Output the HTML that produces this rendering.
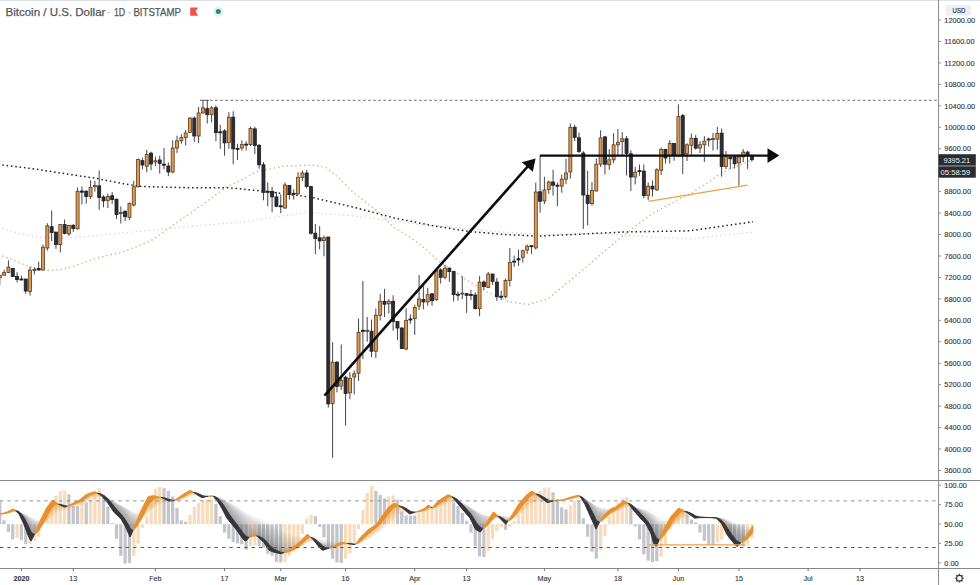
<!DOCTYPE html>
<html><head><meta charset="utf-8"><title>BTCUSD chart</title>
<style>
html,body{margin:0;padding:0;background:#fff;}
#c{position:relative;width:980px;height:585px;overflow:hidden;background:#fff;}
svg{position:absolute;left:0;top:0;display:block;}
</style></head><body><div id="c">
<svg width="980" height="585" viewBox="0 0 980 585">
<rect x="0" y="0" width="980" height="1" fill="#dfe1e6"/>
<line x1="200" y1="100.3" x2="209" y2="100.3" stroke="#50535e" stroke-width="1"/>
<line x1="210" y1="100.3" x2="938" y2="100.3" stroke="#6a6d78" stroke-width="1" stroke-dasharray="2.6 2.5"/>
<polyline points="-2,227 17.9,233.3 35.9,236.9 59.8,238.1 83.7,236.9 109.3,234.3 164,228.8 240,222 271,217.9 303.8,212.4 339.3,214.4 380.4,219.3 421.4,224.7 460,227.9 501,232 542,234.7 596.7,233.4 651.4,236.9 690,239 753,232.1" fill="none" stroke="#dcd8d2" stroke-width="1.4" stroke-dasharray="1.4 2.95"/>
<polyline points="-2,254.5 12,259.6 23.9,264.4 35.9,268.6 47.8,270.4 59.8,269.8 71.8,266.8 83.7,262.6 100,257.2 123,252 150.4,241.1 177.7,222 205,202.9 226.9,186.5 240,181 257.3,171.4 284.7,166 312,165.2 325.7,167.3 339.3,178.3 353,192 366.7,202.9 380.4,213.8 394,227.5 407.7,235.7 421.4,245.2 437.8,260.3 454.2,271.2 470,282.2 487.3,292.2 509.2,301.7 528.3,304.5 547.5,299 569.4,281.2 596.7,258 624,234.7 651.4,214.2 678.7,199.2 692,192.8 700.3,187.2 709,182 717.7,175.4 726.4,170.8 731,168.7 752,160" fill="none" stroke="#cfb48e" stroke-width="1.4" stroke-dasharray="1.4 2.95"/>
<polyline points="-2,164.5 32.8,168.7 68.3,174.2 95.7,178.3 123,183.7 142.2,186.5 191.4,187.8 230,187.8 271,192 312,197.4 353,207 394,217.9 435,226.1 470,231.6 501,234.2 536.5,236.1 569.4,234.7 624,232 690,230.8 753,221.8" fill="none" stroke="#1e1e22" stroke-width="1.5" stroke-dasharray="1.5 2.85"/>
<path d="M-0.21 275V285M4.11 269.7V275.6M8.43 260.3V273.1M12.75 268V277M17.08 272.2V282.5M21.4 275.6V280.3M25.72 279V293.6M30.04 266.7V295.5M34.37 267.2V274.4M38.69 261.7V270.5M43.01 244.6V270.5M47.33 223.2V250.6M51.66 210.4V241.2M55.98 231.8V248.9M60.3 224.1V252.3M64.62 219.5V234.4M68.95 225V236M73.27 224.1V231.8M77.59 187.4V229.2M81.91 186.5V204.4M86.24 190V203.6M90.56 180.2V199M94.88 181V191.6M99.2 170.5V209.8M103.53 195.3V207.3M107.85 193.6V208.1M112.17 191.9V203.8M116.5 198.7V219.2M120.82 206.4V223.5M125.14 210.7V221M129.46 202.6V220M133.78 180.8V206.4M138.11 158.5V187.3M142.43 157.7V169.1M146.75 150V172.2M151.07 151.7V170.3M155.4 156.5V166M159.72 155.7V173.6M164.04 148V169.4M168.37 162.5V176.2M172.69 140.3V173.3M177.01 135.7V153.1M181.33 134.3V143.7M185.66 130V145.4M189.98 117.2V133M194.3 116.4V142M198.62 107V143M202.94 100.5V113.5M207.27 100.1V123.5M211.59 106.1V122.4M215.91 105.3V141.2M220.23 124.9V148.8M224.56 129.2V155.7M228.88 112.1V148.8M233.2 111.2V164.2M237.53 143.7V160M241.85 140.3V150.6M246.17 141.2V150.6M250.49 126.6V146M254.81 126.8V154.2M259.14 143.9V168.7M263.46 161.9V200.3M267.78 182.4V206.3M272.1 186.7V212.3M276.43 191.8V207.2M280.75 194.4V213.2M285.07 182.4V208.9M289.39 185V199.5M293.72 189.2V199.5M298.04 172.1V195.2M302.36 170.6V181M306.68 170V188.5M311.01 186.2V234.7M315.33 223.9V254M319.65 226.2V249.4M323.97 235.5V256.3M328.3 237V407.6M332.62 342.2V457.8M336.94 361V392.4M341.26 344.4V390M345.59 375.6V425.6M349.91 372.2V399.2M354.23 370.5V394.5M358.55 318.7V381M362.88 281.1V358.9M367.2 317V341.8M371.52 319.6V357.2M375.84 308.5V358M380.17 293.9V320.4M384.49 288.8V317M388.81 299V313.6M393.13 295.3V330.7M397.46 321.5V340.1M401.78 327.3V349M406.1 308.4V350.3M410.42 314.4V323.8M414.75 304.6V334.9M419.07 275V310M423.39 286.2V309.2M427.71 287.9V305.8M432.04 293V305.8M436.36 268.2V300.7M440.68 268.2V283.6M445 264.8V279.3M449.33 267.4V281.9M453.65 270.8V301.5M457.97 291.3V300.7M462.29 276.2V299.2M466.62 293.2V312.9M470.94 289.8V300.1M475.26 292.4V309.5M479.58 276.2V316.3M483.91 280.4V289.8M488.23 271.9V288.1M492.55 273.6V284.7M496.87 277.9V300.9M501.2 290.7V300.1M505.52 278.7V298.4M509.84 248V286.4M514.16 255.6V266.8M518.49 249.6V265.9M522.81 249.6V262.5M527.13 244.5V253.9M531.45 245.3V253.9M535.78 182.6V249.6M540.1 155V212.8M544.42 176.7V204M548.75 180.5V193.8M553.07 169.8V195.6M557.39 182.4V206M561.71 174.8V192.7M566.03 158.9V184.2M570.36 123.5V178.6M574.68 125V141M579 132.6V153.2M583.32 151.2V229M587.65 170.8V225.3M591.97 182V205.5M596.29 158.5V191.4M600.61 130.3V167M604.94 136V174.5M609.26 149.1V169.8M613.58 133.2V163.2M617.9 129V154.8M622.23 132.2V154.8M626.55 136V175.5M630.87 150.2V191.2M635.19 166.7V184.5M639.52 164.5V175.8M643.84 164.5V198.4M648.16 182.4V200.3M652.48 180.5V196.5M656.81 168.3V190.9M661.13 147.6V174.9M665.45 148.6V163.6M669.77 140.1V163.6M674.1 142.9V160.8M678.42 104.4V157M682.74 113.9V174M687.06 143.3V161M691.39 133.5V154.6M695.71 135.1V149.7M700.03 141.1V153M704.35 136.2V161.9M708.68 137.5V146.5M713 133V150.5M717.32 127V149.7M721.64 128.6V176.6M725.97 151V169M730.29 156.2V169M734.61 155.9V168.4M738.93 154.5V185.6M743.26 149.1V162.3M747.58 150.9V168.9M751.9 154.5V161.7" stroke="#45464d" stroke-width="1" fill="none"/>
<rect x="-1.71" y="275.2" width="3" height="2.6" fill="#dc9a55" stroke="#5b3b1c" stroke-width="0.8"/>
<rect x="2.61" y="272.6" width="3" height="2.6" fill="#dc9a55" stroke="#5b3b1c" stroke-width="0.8"/>
<rect x="6.93" y="267.1" width="3" height="5.3" fill="#dc9a55" stroke="#5b3b1c" stroke-width="0.8"/>
<rect x="11.25" y="268.4" width="3" height="8.1" fill="#2e2f36" stroke="#1b1b1f" stroke-width="0.8"/>
<rect x="15.58" y="276.5" width="3" height="3" fill="#2e2f36" stroke="#1b1b1f" stroke-width="0.8"/>
<rect x="19.9" y="279" width="3" height="1" fill="#2e2f36" stroke="#1b1b1f" stroke-width="0.8"/>
<rect x="24.22" y="279" width="3" height="12" fill="#2e2f36" stroke="#1b1b1f" stroke-width="0.8"/>
<rect x="28.54" y="270.1" width="3" height="21.4" fill="#dc9a55" stroke="#5b3b1c" stroke-width="0.8"/>
<rect x="32.87" y="269.5" width="3" height="1" fill="#dc9a55" stroke="#5b3b1c" stroke-width="0.8"/>
<rect x="37.19" y="268.5" width="3" height="1.5" fill="#2e2f36" stroke="#1b1b1f" stroke-width="0.8"/>
<rect x="41.51" y="247.2" width="3" height="22.8" fill="#dc9a55" stroke="#5b3b1c" stroke-width="0.8"/>
<rect x="45.83" y="225.8" width="3" height="22.2" fill="#dc9a55" stroke="#5b3b1c" stroke-width="0.8"/>
<rect x="50.16" y="226.7" width="3" height="5.9" fill="#2e2f36" stroke="#1b1b1f" stroke-width="0.8"/>
<rect x="54.48" y="232.1" width="3" height="12.5" fill="#2e2f36" stroke="#1b1b1f" stroke-width="0.8"/>
<rect x="58.8" y="224.6" width="3" height="20" fill="#dc9a55" stroke="#5b3b1c" stroke-width="0.8"/>
<rect x="63.12" y="224.6" width="3" height="8.9" fill="#2e2f36" stroke="#1b1b1f" stroke-width="0.8"/>
<rect x="67.45" y="225.3" width="3" height="8.5" fill="#dc9a55" stroke="#5b3b1c" stroke-width="0.8"/>
<rect x="71.77" y="225.3" width="3" height="3.1" fill="#2e2f36" stroke="#1b1b1f" stroke-width="0.8"/>
<rect x="76.09" y="191.3" width="3" height="37.6" fill="#dc9a55" stroke="#5b3b1c" stroke-width="0.8"/>
<rect x="80.41" y="191" width="3" height="1.2" fill="#2e2f36" stroke="#1b1b1f" stroke-width="0.8"/>
<rect x="84.74" y="191.3" width="3" height="5.1" fill="#2e2f36" stroke="#1b1b1f" stroke-width="0.8"/>
<rect x="89.06" y="187.4" width="3" height="9" fill="#dc9a55" stroke="#5b3b1c" stroke-width="0.8"/>
<rect x="93.38" y="185.5" width="3" height="1.3" fill="#dc9a55" stroke="#5b3b1c" stroke-width="0.8"/>
<rect x="97.7" y="185.9" width="3" height="11.6" fill="#2e2f36" stroke="#1b1b1f" stroke-width="0.8"/>
<rect x="102.03" y="197" width="3" height="3.9" fill="#2e2f36" stroke="#1b1b1f" stroke-width="0.8"/>
<rect x="106.35" y="196.5" width="3" height="3.9" fill="#dc9a55" stroke="#5b3b1c" stroke-width="0.8"/>
<rect x="110.67" y="195.8" width="3" height="3.8" fill="#2e2f36" stroke="#1b1b1f" stroke-width="0.8"/>
<rect x="115" y="199.2" width="3" height="15.4" fill="#2e2f36" stroke="#1b1b1f" stroke-width="0.8"/>
<rect x="119.32" y="212.4" width="3" height="1.2" fill="#dc9a55" stroke="#5b3b1c" stroke-width="0.8"/>
<rect x="123.64" y="211.2" width="3" height="5.5" fill="#2e2f36" stroke="#1b1b1f" stroke-width="0.8"/>
<rect x="127.96" y="203.3" width="3" height="14.2" fill="#dc9a55" stroke="#5b3b1c" stroke-width="0.8"/>
<rect x="132.28" y="186.8" width="3" height="18.2" fill="#dc9a55" stroke="#5b3b1c" stroke-width="0.8"/>
<rect x="136.61" y="159.4" width="3" height="27.4" fill="#dc9a55" stroke="#5b3b1c" stroke-width="0.8"/>
<rect x="140.93" y="160.6" width="3" height="4.4" fill="#2e2f36" stroke="#1b1b1f" stroke-width="0.8"/>
<rect x="145.25" y="154.3" width="3" height="11.9" fill="#dc9a55" stroke="#5b3b1c" stroke-width="0.8"/>
<rect x="149.57" y="153.1" width="3" height="10.9" fill="#2e2f36" stroke="#1b1b1f" stroke-width="0.8"/>
<rect x="153.9" y="160.8" width="3" height="1.2" fill="#dc9a55" stroke="#5b3b1c" stroke-width="0.8"/>
<rect x="158.22" y="160" width="3" height="3.4" fill="#2e2f36" stroke="#1b1b1f" stroke-width="0.8"/>
<rect x="162.54" y="164.2" width="3" height="1" fill="#2e2f36" stroke="#1b1b1f" stroke-width="0.8"/>
<rect x="166.87" y="166" width="3" height="6" fill="#2e2f36" stroke="#1b1b1f" stroke-width="0.8"/>
<rect x="171.19" y="148" width="3" height="24" fill="#dc9a55" stroke="#5b3b1c" stroke-width="0.8"/>
<rect x="175.51" y="140.8" width="3" height="7.2" fill="#dc9a55" stroke="#5b3b1c" stroke-width="0.8"/>
<rect x="179.83" y="137.7" width="3" height="3.1" fill="#dc9a55" stroke="#5b3b1c" stroke-width="0.8"/>
<rect x="184.16" y="133" width="3" height="4.7" fill="#dc9a55" stroke="#5b3b1c" stroke-width="0.8"/>
<rect x="188.48" y="118.1" width="3" height="14.2" fill="#dc9a55" stroke="#5b3b1c" stroke-width="0.8"/>
<rect x="192.8" y="118.1" width="3" height="17.9" fill="#2e2f36" stroke="#1b1b1f" stroke-width="0.8"/>
<rect x="197.12" y="113" width="3" height="23" fill="#dc9a55" stroke="#5b3b1c" stroke-width="0.8"/>
<rect x="201.44" y="107.8" width="3" height="5.2" fill="#dc9a55" stroke="#5b3b1c" stroke-width="0.8"/>
<rect x="205.77" y="108.7" width="3" height="6" fill="#2e2f36" stroke="#1b1b1f" stroke-width="0.8"/>
<rect x="210.09" y="107.8" width="3" height="6.9" fill="#dc9a55" stroke="#5b3b1c" stroke-width="0.8"/>
<rect x="214.41" y="107.8" width="3" height="24.8" fill="#2e2f36" stroke="#1b1b1f" stroke-width="0.8"/>
<rect x="218.73" y="131.8" width="3" height="1" fill="#2e2f36" stroke="#1b1b1f" stroke-width="0.8"/>
<rect x="223.06" y="130.9" width="3" height="12" fill="#2e2f36" stroke="#1b1b1f" stroke-width="0.8"/>
<rect x="227.38" y="117.2" width="3" height="25.3" fill="#dc9a55" stroke="#5b3b1c" stroke-width="0.8"/>
<rect x="231.7" y="117.2" width="3" height="31.6" fill="#2e2f36" stroke="#1b1b1f" stroke-width="0.8"/>
<rect x="236.03" y="148.3" width="3" height="1" fill="#2e2f36" stroke="#1b1b1f" stroke-width="0.8"/>
<rect x="240.35" y="144.6" width="3" height="3.4" fill="#dc9a55" stroke="#5b3b1c" stroke-width="0.8"/>
<rect x="244.67" y="144.1" width="3" height="1" fill="#2e2f36" stroke="#1b1b1f" stroke-width="0.8"/>
<rect x="248.99" y="128.5" width="3" height="16.1" fill="#dc9a55" stroke="#5b3b1c" stroke-width="0.8"/>
<rect x="253.31" y="128.9" width="3" height="16.7" fill="#2e2f36" stroke="#1b1b1f" stroke-width="0.8"/>
<rect x="257.64" y="145.3" width="3" height="19.5" fill="#2e2f36" stroke="#1b1b1f" stroke-width="0.8"/>
<rect x="261.96" y="164.8" width="3" height="27.8" fill="#2e2f36" stroke="#1b1b1f" stroke-width="0.8"/>
<rect x="266.28" y="191.3" width="3" height="1" fill="#2e2f36" stroke="#1b1b1f" stroke-width="0.8"/>
<rect x="270.6" y="191.5" width="3" height="5.4" fill="#2e2f36" stroke="#1b1b1f" stroke-width="0.8"/>
<rect x="274.93" y="196.9" width="3" height="9.4" fill="#2e2f36" stroke="#1b1b1f" stroke-width="0.8"/>
<rect x="279.25" y="205.8" width="3" height="1" fill="#2e2f36" stroke="#1b1b1f" stroke-width="0.8"/>
<rect x="283.57" y="185" width="3" height="23" fill="#dc9a55" stroke="#5b3b1c" stroke-width="0.8"/>
<rect x="287.89" y="185.5" width="3" height="8.9" fill="#2e2f36" stroke="#1b1b1f" stroke-width="0.8"/>
<rect x="292.22" y="193.3" width="3" height="1" fill="#2e2f36" stroke="#1b1b1f" stroke-width="0.8"/>
<rect x="296.54" y="177.3" width="3" height="16.5" fill="#dc9a55" stroke="#5b3b1c" stroke-width="0.8"/>
<rect x="300.86" y="173" width="3" height="4.5" fill="#dc9a55" stroke="#5b3b1c" stroke-width="0.8"/>
<rect x="305.18" y="173" width="3" height="13.4" fill="#2e2f36" stroke="#1b1b1f" stroke-width="0.8"/>
<rect x="309.51" y="186.6" width="3" height="46.6" fill="#2e2f36" stroke="#1b1b1f" stroke-width="0.8"/>
<rect x="313.83" y="233.2" width="3" height="5.4" fill="#2e2f36" stroke="#1b1b1f" stroke-width="0.8"/>
<rect x="318.15" y="237.8" width="3" height="3.1" fill="#2e2f36" stroke="#1b1b1f" stroke-width="0.8"/>
<rect x="322.47" y="237.8" width="3" height="2.8" fill="#dc9a55" stroke="#5b3b1c" stroke-width="0.8"/>
<rect x="326.8" y="237" width="3" height="166.9" fill="#2e2f36" stroke="#1b1b1f" stroke-width="0.8"/>
<rect x="331.12" y="362.2" width="3" height="41.3" fill="#dc9a55" stroke="#5b3b1c" stroke-width="0.8"/>
<rect x="335.44" y="362.2" width="3" height="24.3" fill="#2e2f36" stroke="#1b1b1f" stroke-width="0.8"/>
<rect x="339.76" y="380.2" width="3" height="5.8" fill="#dc9a55" stroke="#5b3b1c" stroke-width="0.8"/>
<rect x="344.09" y="377.2" width="3" height="16.3" fill="#2e2f36" stroke="#1b1b1f" stroke-width="0.8"/>
<rect x="348.41" y="378.3" width="3" height="14.5" fill="#dc9a55" stroke="#5b3b1c" stroke-width="0.8"/>
<rect x="352.73" y="373.8" width="3" height="3.2" fill="#dc9a55" stroke="#5b3b1c" stroke-width="0.8"/>
<rect x="357.05" y="332.3" width="3" height="40.9" fill="#dc9a55" stroke="#5b3b1c" stroke-width="0.8"/>
<rect x="361.38" y="330.2" width="3" height="1.2" fill="#2e2f36" stroke="#1b1b1f" stroke-width="0.8"/>
<rect x="365.7" y="330.3" width="3" height="1" fill="#dc9a55" stroke="#5b3b1c" stroke-width="0.8"/>
<rect x="370.02" y="331.2" width="3" height="20" fill="#2e2f36" stroke="#1b1b1f" stroke-width="0.8"/>
<rect x="374.34" y="315.3" width="3" height="35.9" fill="#dc9a55" stroke="#5b3b1c" stroke-width="0.8"/>
<rect x="378.67" y="301.3" width="3" height="14" fill="#dc9a55" stroke="#5b3b1c" stroke-width="0.8"/>
<rect x="382.99" y="301.3" width="3" height="2.9" fill="#2e2f36" stroke="#1b1b1f" stroke-width="0.8"/>
<rect x="387.31" y="301.3" width="3" height="2.5" fill="#dc9a55" stroke="#5b3b1c" stroke-width="0.8"/>
<rect x="391.63" y="301.3" width="3" height="20.2" fill="#2e2f36" stroke="#1b1b1f" stroke-width="0.8"/>
<rect x="395.96" y="321.5" width="3" height="6.5" fill="#2e2f36" stroke="#1b1b1f" stroke-width="0.8"/>
<rect x="400.28" y="328" width="3" height="20.6" fill="#2e2f36" stroke="#1b1b1f" stroke-width="0.8"/>
<rect x="404.6" y="320.3" width="3" height="28.7" fill="#dc9a55" stroke="#5b3b1c" stroke-width="0.8"/>
<rect x="408.92" y="319" width="3" height="1" fill="#2e2f36" stroke="#1b1b1f" stroke-width="0.8"/>
<rect x="413.25" y="307.5" width="3" height="11.1" fill="#dc9a55" stroke="#5b3b1c" stroke-width="0.8"/>
<rect x="417.57" y="299" width="3" height="7" fill="#dc9a55" stroke="#5b3b1c" stroke-width="0.8"/>
<rect x="421.89" y="299.5" width="3" height="2.4" fill="#2e2f36" stroke="#1b1b1f" stroke-width="0.8"/>
<rect x="426.21" y="294.7" width="3" height="7.2" fill="#dc9a55" stroke="#5b3b1c" stroke-width="0.8"/>
<rect x="430.54" y="293.8" width="3" height="6.9" fill="#2e2f36" stroke="#1b1b1f" stroke-width="0.8"/>
<rect x="434.86" y="270.8" width="3" height="29" fill="#dc9a55" stroke="#5b3b1c" stroke-width="0.8"/>
<rect x="439.18" y="269.9" width="3" height="7.4" fill="#2e2f36" stroke="#1b1b1f" stroke-width="0.8"/>
<rect x="443.5" y="268.2" width="3" height="9.1" fill="#dc9a55" stroke="#5b3b1c" stroke-width="0.8"/>
<rect x="447.83" y="268.2" width="3" height="3.4" fill="#2e2f36" stroke="#1b1b1f" stroke-width="0.8"/>
<rect x="452.15" y="271.6" width="3" height="23.1" fill="#2e2f36" stroke="#1b1b1f" stroke-width="0.8"/>
<rect x="456.47" y="294.2" width="3" height="1" fill="#2e2f36" stroke="#1b1b1f" stroke-width="0.8"/>
<rect x="460.79" y="293.1" width="3" height="1" fill="#dc9a55" stroke="#5b3b1c" stroke-width="0.8"/>
<rect x="465.12" y="293.6" width="3" height="1.7" fill="#2e2f36" stroke="#1b1b1f" stroke-width="0.8"/>
<rect x="469.44" y="294.5" width="3" height="1" fill="#2e2f36" stroke="#1b1b1f" stroke-width="0.8"/>
<rect x="473.76" y="295" width="3" height="13.6" fill="#2e2f36" stroke="#1b1b1f" stroke-width="0.8"/>
<rect x="478.08" y="282.1" width="3" height="26.5" fill="#dc9a55" stroke="#5b3b1c" stroke-width="0.8"/>
<rect x="482.41" y="282.1" width="3" height="4.3" fill="#2e2f36" stroke="#1b1b1f" stroke-width="0.8"/>
<rect x="486.73" y="274.1" width="3" height="13.2" fill="#dc9a55" stroke="#5b3b1c" stroke-width="0.8"/>
<rect x="491.05" y="274.1" width="3" height="7.2" fill="#2e2f36" stroke="#1b1b1f" stroke-width="0.8"/>
<rect x="495.37" y="282.1" width="3" height="14.6" fill="#2e2f36" stroke="#1b1b1f" stroke-width="0.8"/>
<rect x="499.7" y="296.2" width="3" height="1" fill="#2e2f36" stroke="#1b1b1f" stroke-width="0.8"/>
<rect x="504.02" y="280.4" width="3" height="16.3" fill="#dc9a55" stroke="#5b3b1c" stroke-width="0.8"/>
<rect x="508.34" y="262.5" width="3" height="17.9" fill="#dc9a55" stroke="#5b3b1c" stroke-width="0.8"/>
<rect x="512.66" y="261.1" width="3" height="1" fill="#2e2f36" stroke="#1b1b1f" stroke-width="0.8"/>
<rect x="516.99" y="258.7" width="3" height="1.2" fill="#2e2f36" stroke="#1b1b1f" stroke-width="0.8"/>
<rect x="521.31" y="250.8" width="3" height="6.5" fill="#dc9a55" stroke="#5b3b1c" stroke-width="0.8"/>
<rect x="525.63" y="246.2" width="3" height="3.9" fill="#dc9a55" stroke="#5b3b1c" stroke-width="0.8"/>
<rect x="529.95" y="245.7" width="3" height="1" fill="#2e2f36" stroke="#1b1b1f" stroke-width="0.8"/>
<rect x="534.28" y="192" width="3" height="55.9" fill="#dc9a55" stroke="#5b3b1c" stroke-width="0.8"/>
<rect x="538.6" y="191.8" width="3" height="9.4" fill="#2e2f36" stroke="#1b1b1f" stroke-width="0.8"/>
<rect x="542.92" y="190" width="3" height="11" fill="#dc9a55" stroke="#5b3b1c" stroke-width="0.8"/>
<rect x="547.25" y="182" width="3" height="7.5" fill="#dc9a55" stroke="#5b3b1c" stroke-width="0.8"/>
<rect x="551.57" y="182" width="3" height="3.2" fill="#2e2f36" stroke="#1b1b1f" stroke-width="0.8"/>
<rect x="555.89" y="185.2" width="3" height="1" fill="#2e2f36" stroke="#1b1b1f" stroke-width="0.8"/>
<rect x="560.21" y="179.2" width="3" height="6.9" fill="#dc9a55" stroke="#5b3b1c" stroke-width="0.8"/>
<rect x="564.53" y="173" width="3" height="6.2" fill="#dc9a55" stroke="#5b3b1c" stroke-width="0.8"/>
<rect x="568.86" y="127.3" width="3" height="44.7" fill="#dc9a55" stroke="#5b3b1c" stroke-width="0.8"/>
<rect x="573.18" y="127.3" width="3" height="10" fill="#2e2f36" stroke="#1b1b1f" stroke-width="0.8"/>
<rect x="577.5" y="137.8" width="3" height="13.6" fill="#2e2f36" stroke="#1b1b1f" stroke-width="0.8"/>
<rect x="581.82" y="153" width="3" height="42" fill="#2e2f36" stroke="#1b1b1f" stroke-width="0.8"/>
<rect x="586.15" y="195.2" width="3" height="8.4" fill="#2e2f36" stroke="#1b1b1f" stroke-width="0.8"/>
<rect x="590.47" y="190.5" width="3" height="13.1" fill="#dc9a55" stroke="#5b3b1c" stroke-width="0.8"/>
<rect x="594.79" y="164.2" width="3" height="26.8" fill="#dc9a55" stroke="#5b3b1c" stroke-width="0.8"/>
<rect x="599.11" y="137.9" width="3" height="26.3" fill="#dc9a55" stroke="#5b3b1c" stroke-width="0.8"/>
<rect x="603.44" y="136.9" width="3" height="27.3" fill="#2e2f36" stroke="#1b1b1f" stroke-width="0.8"/>
<rect x="607.76" y="159.8" width="3" height="4.9" fill="#dc9a55" stroke="#5b3b1c" stroke-width="0.8"/>
<rect x="612.08" y="144.8" width="3" height="15" fill="#dc9a55" stroke="#5b3b1c" stroke-width="0.8"/>
<rect x="616.4" y="142.2" width="3" height="2.6" fill="#dc9a55" stroke="#5b3b1c" stroke-width="0.8"/>
<rect x="620.73" y="138.8" width="3" height="2.8" fill="#dc9a55" stroke="#5b3b1c" stroke-width="0.8"/>
<rect x="625.05" y="138.8" width="3" height="14.7" fill="#2e2f36" stroke="#1b1b1f" stroke-width="0.8"/>
<rect x="629.37" y="153.8" width="3" height="23.2" fill="#2e2f36" stroke="#1b1b1f" stroke-width="0.8"/>
<rect x="633.69" y="172.2" width="3" height="4.8" fill="#dc9a55" stroke="#5b3b1c" stroke-width="0.8"/>
<rect x="638.02" y="170.6" width="3" height="1" fill="#2e2f36" stroke="#1b1b1f" stroke-width="0.8"/>
<rect x="642.34" y="171.1" width="3" height="24.5" fill="#2e2f36" stroke="#1b1b1f" stroke-width="0.8"/>
<rect x="646.66" y="186.2" width="3" height="9.4" fill="#dc9a55" stroke="#5b3b1c" stroke-width="0.8"/>
<rect x="650.98" y="186.2" width="3" height="2.8" fill="#2e2f36" stroke="#1b1b1f" stroke-width="0.8"/>
<rect x="655.31" y="169.8" width="3" height="20.1" fill="#dc9a55" stroke="#5b3b1c" stroke-width="0.8"/>
<rect x="659.63" y="149.5" width="3" height="20.7" fill="#dc9a55" stroke="#5b3b1c" stroke-width="0.8"/>
<rect x="663.95" y="149.5" width="3" height="8.5" fill="#2e2f36" stroke="#1b1b1f" stroke-width="0.8"/>
<rect x="668.27" y="143.5" width="3" height="11.7" fill="#dc9a55" stroke="#5b3b1c" stroke-width="0.8"/>
<rect x="672.6" y="143.5" width="3" height="11.7" fill="#2e2f36" stroke="#1b1b1f" stroke-width="0.8"/>
<rect x="676.92" y="116.6" width="3" height="39.5" fill="#dc9a55" stroke="#5b3b1c" stroke-width="0.8"/>
<rect x="681.24" y="115.6" width="3" height="39.8" fill="#2e2f36" stroke="#1b1b1f" stroke-width="0.8"/>
<rect x="685.56" y="144.8" width="3" height="8.8" fill="#dc9a55" stroke="#5b3b1c" stroke-width="0.8"/>
<rect x="689.89" y="138.3" width="3" height="7" fill="#dc9a55" stroke="#5b3b1c" stroke-width="0.8"/>
<rect x="694.21" y="138.3" width="3" height="9.8" fill="#2e2f36" stroke="#1b1b1f" stroke-width="0.8"/>
<rect x="698.53" y="144.8" width="3" height="3.3" fill="#dc9a55" stroke="#5b3b1c" stroke-width="0.8"/>
<rect x="702.85" y="141.1" width="3" height="3.7" fill="#dc9a55" stroke="#5b3b1c" stroke-width="0.8"/>
<rect x="707.18" y="139" width="3" height="1" fill="#2e2f36" stroke="#1b1b1f" stroke-width="0.8"/>
<rect x="711.5" y="138.6" width="3" height="1" fill="#dc9a55" stroke="#5b3b1c" stroke-width="0.8"/>
<rect x="715.82" y="133.5" width="3" height="5.6" fill="#dc9a55" stroke="#5b3b1c" stroke-width="0.8"/>
<rect x="720.14" y="133.2" width="3" height="33.3" fill="#2e2f36" stroke="#1b1b1f" stroke-width="0.8"/>
<rect x="724.47" y="156.8" width="3" height="9.7" fill="#dc9a55" stroke="#5b3b1c" stroke-width="0.8"/>
<rect x="728.79" y="157.3" width="3" height="1.5" fill="#2e2f36" stroke="#1b1b1f" stroke-width="0.8"/>
<rect x="733.11" y="156.8" width="3" height="7" fill="#2e2f36" stroke="#1b1b1f" stroke-width="0.8"/>
<rect x="737.43" y="156.9" width="3" height="6" fill="#dc9a55" stroke="#5b3b1c" stroke-width="0.8"/>
<rect x="741.76" y="152.1" width="3" height="4.8" fill="#dc9a55" stroke="#5b3b1c" stroke-width="0.8"/>
<rect x="746.08" y="152.1" width="3" height="3.6" fill="#2e2f36" stroke="#1b1b1f" stroke-width="0.8"/>
<rect x="750.4" y="155.7" width="3" height="4" fill="#2e2f36" stroke="#1b1b1f" stroke-width="0.8"/>
<line x1="648.6" y1="201.4" x2="747.4" y2="185.1" stroke="#eea04c" stroke-width="1.3"/>
<line x1="324.5" y1="395.6" x2="529" y2="165" stroke="#0d0d0d" stroke-width="2.6"/>
<polygon points="535.6,158.6 521.8,162.2 532.8,171.8" fill="#0d0d0d"/>
<line x1="540" y1="155.6" x2="769" y2="155.6" stroke="#0d0d0d" stroke-width="2.4"/>
<polygon points="767.5,148.2 779.3,155.6 767.5,163" fill="#0d0d0d"/>
<rect x="-1.81" y="501.1" width="3.2" height="23.1" fill="#c4c5cb"/>
<rect x="2.51" y="520.3" width="3.2" height="3.9" fill="#c4c5cb"/>
<rect x="6.83" y="524.2" width="3.2" height="7.7" fill="#c4c5cb"/>
<rect x="11.15" y="524.2" width="3.2" height="15.2" fill="#c4c5cb"/>
<rect x="15.48" y="524.2" width="3.2" height="13.8" fill="#f7dbba"/>
<rect x="19.8" y="524.2" width="3.2" height="15.9" fill="#c4c5cb"/>
<rect x="24.12" y="524.2" width="3.2" height="20" fill="#c4c5cb"/>
<rect x="28.44" y="524.2" width="3.2" height="19.8" fill="#f7dbba"/>
<rect x="32.77" y="524.2" width="3.2" height="16.6" fill="#f7dbba"/>
<rect x="37.09" y="524.2" width="3.2" height="12.5" fill="#f7dbba"/>
<rect x="41.41" y="521" width="3.2" height="3.2" fill="#f7dbba"/>
<rect x="45.73" y="510" width="3.2" height="14.2" fill="#f7dbba"/>
<rect x="50.06" y="502" width="3.2" height="22.2" fill="#f7dbba"/>
<rect x="54.38" y="495.7" width="3.2" height="28.5" fill="#f7dbba"/>
<rect x="58.7" y="490.9" width="3.2" height="33.3" fill="#f7dbba"/>
<rect x="63.02" y="490.5" width="3.2" height="33.7" fill="#f7dbba"/>
<rect x="67.35" y="494.3" width="3.2" height="29.9" fill="#c4c5cb"/>
<rect x="71.67" y="505.9" width="3.2" height="18.3" fill="#c4c5cb"/>
<rect x="75.99" y="506.2" width="3.2" height="18" fill="#c4c5cb"/>
<rect x="80.31" y="501.1" width="3.2" height="23.1" fill="#f7dbba"/>
<rect x="84.64" y="502.5" width="3.2" height="21.7" fill="#c4c5cb"/>
<rect x="88.96" y="499.8" width="3.2" height="24.4" fill="#f7dbba"/>
<rect x="93.28" y="494.3" width="3.2" height="29.9" fill="#f7dbba"/>
<rect x="97.6" y="488.2" width="3.2" height="36" fill="#f7dbba"/>
<rect x="101.93" y="495" width="3.2" height="29.2" fill="#c4c5cb"/>
<rect x="106.25" y="506.6" width="3.2" height="17.6" fill="#c4c5cb"/>
<rect x="110.57" y="523" width="3.2" height="1.2" fill="#c4c5cb"/>
<rect x="114.9" y="524.2" width="3.2" height="14.6" fill="#c4c5cb"/>
<rect x="119.22" y="524.2" width="3.2" height="31.6" fill="#c4c5cb"/>
<rect x="123.54" y="524.2" width="3.2" height="39.3" fill="#c4c5cb"/>
<rect x="127.86" y="524.2" width="3.2" height="38.8" fill="#c4c5cb"/>
<rect x="132.19" y="524.2" width="3.2" height="31.6" fill="#f7dbba"/>
<rect x="136.51" y="524.2" width="3.2" height="19.3" fill="#f7dbba"/>
<rect x="140.83" y="524.2" width="3.2" height="3.6" fill="#f7dbba"/>
<rect x="145.15" y="516.2" width="3.2" height="8" fill="#f7dbba"/>
<rect x="149.47" y="499.8" width="3.2" height="24.4" fill="#f7dbba"/>
<rect x="153.8" y="488.8" width="3.2" height="35.4" fill="#f7dbba"/>
<rect x="158.12" y="486.8" width="3.2" height="37.4" fill="#f7dbba"/>
<rect x="162.44" y="488.2" width="3.2" height="36" fill="#c4c5cb"/>
<rect x="166.77" y="490.9" width="3.2" height="33.3" fill="#c4c5cb"/>
<rect x="171.09" y="496.4" width="3.2" height="27.8" fill="#c4c5cb"/>
<rect x="175.41" y="508" width="3.2" height="16.2" fill="#c4c5cb"/>
<rect x="179.73" y="520.3" width="3.2" height="3.9" fill="#c4c5cb"/>
<rect x="184.06" y="521.7" width="3.2" height="2.5" fill="#c4c5cb"/>
<rect x="188.38" y="514.8" width="3.2" height="9.4" fill="#f7dbba"/>
<rect x="192.7" y="506.6" width="3.2" height="17.6" fill="#f7dbba"/>
<rect x="197.02" y="503.2" width="3.2" height="21" fill="#f7dbba"/>
<rect x="201.34" y="499.8" width="3.2" height="24.4" fill="#f7dbba"/>
<rect x="205.67" y="499.5" width="3.2" height="24.7" fill="#f7dbba"/>
<rect x="209.99" y="499.3" width="3.2" height="24.9" fill="#f7dbba"/>
<rect x="214.31" y="503.9" width="3.2" height="20.3" fill="#c4c5cb"/>
<rect x="218.63" y="516.2" width="3.2" height="8" fill="#c4c5cb"/>
<rect x="222.96" y="524.2" width="3.2" height="8.4" fill="#c4c5cb"/>
<rect x="227.28" y="524.2" width="3.2" height="14.6" fill="#c4c5cb"/>
<rect x="231.6" y="524.2" width="3.2" height="18" fill="#c4c5cb"/>
<rect x="235.93" y="524.2" width="3.2" height="19.3" fill="#c4c5cb"/>
<rect x="240.25" y="524.2" width="3.2" height="20" fill="#c4c5cb"/>
<rect x="244.57" y="524.2" width="3.2" height="25.5" fill="#c4c5cb"/>
<rect x="248.89" y="524.2" width="3.2" height="22.1" fill="#f7dbba"/>
<rect x="253.22" y="524.2" width="3.2" height="20.8" fill="#f7dbba"/>
<rect x="257.54" y="524.2" width="3.2" height="22.1" fill="#c4c5cb"/>
<rect x="261.86" y="524.2" width="3.2" height="23.4" fill="#c4c5cb"/>
<rect x="266.18" y="524.2" width="3.2" height="29.6" fill="#c4c5cb"/>
<rect x="270.5" y="524.2" width="3.2" height="31.6" fill="#c4c5cb"/>
<rect x="274.83" y="524.2" width="3.2" height="37.8" fill="#c4c5cb"/>
<rect x="279.15" y="524.2" width="3.2" height="38.3" fill="#c4c5cb"/>
<rect x="283.47" y="524.2" width="3.2" height="37.8" fill="#f7dbba"/>
<rect x="287.79" y="524.2" width="3.2" height="31.6" fill="#f7dbba"/>
<rect x="292.12" y="524.2" width="3.2" height="27.5" fill="#f7dbba"/>
<rect x="296.44" y="524.2" width="3.2" height="20.7" fill="#f7dbba"/>
<rect x="300.76" y="524.2" width="3.2" height="9.8" fill="#f7dbba"/>
<rect x="305.08" y="518.2" width="3.2" height="6" fill="#f7dbba"/>
<rect x="309.41" y="514.8" width="3.2" height="9.4" fill="#f7dbba"/>
<rect x="313.73" y="516.2" width="3.2" height="8" fill="#c4c5cb"/>
<rect x="318.05" y="524.2" width="3.2" height="2.8" fill="#c4c5cb"/>
<rect x="322.37" y="524.2" width="3.2" height="13.2" fill="#c4c5cb"/>
<rect x="326.7" y="524.2" width="3.2" height="22.1" fill="#c4c5cb"/>
<rect x="331.02" y="524.2" width="3.2" height="34.4" fill="#c4c5cb"/>
<rect x="335.34" y="524.2" width="3.2" height="38.3" fill="#c4c5cb"/>
<rect x="339.66" y="524.2" width="3.2" height="38.8" fill="#c4c5cb"/>
<rect x="343.99" y="524.2" width="3.2" height="34.4" fill="#f7dbba"/>
<rect x="348.31" y="524.2" width="3.2" height="28.9" fill="#f7dbba"/>
<rect x="352.63" y="524.2" width="3.2" height="18" fill="#f7dbba"/>
<rect x="356.95" y="524.2" width="3.2" height="5" fill="#f7dbba"/>
<rect x="361.28" y="510" width="3.2" height="14.2" fill="#f7dbba"/>
<rect x="365.6" y="492.9" width="3.2" height="31.3" fill="#f7dbba"/>
<rect x="369.92" y="486.1" width="3.2" height="38.1" fill="#f7dbba"/>
<rect x="374.24" y="490.9" width="3.2" height="33.3" fill="#c4c5cb"/>
<rect x="378.57" y="495" width="3.2" height="29.2" fill="#c4c5cb"/>
<rect x="382.89" y="498.4" width="3.2" height="25.8" fill="#c4c5cb"/>
<rect x="387.21" y="496.4" width="3.2" height="27.8" fill="#f7dbba"/>
<rect x="391.53" y="495.5" width="3.2" height="28.7" fill="#f7dbba"/>
<rect x="395.86" y="499.5" width="3.2" height="24.7" fill="#c4c5cb"/>
<rect x="400.18" y="511.4" width="3.2" height="12.8" fill="#c4c5cb"/>
<rect x="404.5" y="515.5" width="3.2" height="8.7" fill="#c4c5cb"/>
<rect x="408.82" y="515.7" width="3.2" height="8.5" fill="#c4c5cb"/>
<rect x="413.15" y="515.5" width="3.2" height="8.7" fill="#c4c5cb"/>
<rect x="417.47" y="512.8" width="3.2" height="11.4" fill="#f7dbba"/>
<rect x="421.79" y="510" width="3.2" height="14.2" fill="#f7dbba"/>
<rect x="426.11" y="508.7" width="3.2" height="15.5" fill="#f7dbba"/>
<rect x="430.44" y="508.5" width="3.2" height="15.7" fill="#f7dbba"/>
<rect x="434.76" y="505.9" width="3.2" height="18.3" fill="#f7dbba"/>
<rect x="439.08" y="501.8" width="3.2" height="22.4" fill="#f7dbba"/>
<rect x="443.4" y="499.8" width="3.2" height="24.4" fill="#f7dbba"/>
<rect x="447.73" y="498.4" width="3.2" height="25.8" fill="#f7dbba"/>
<rect x="452.05" y="502.5" width="3.2" height="21.7" fill="#c4c5cb"/>
<rect x="456.37" y="505.9" width="3.2" height="18.3" fill="#c4c5cb"/>
<rect x="460.69" y="512.8" width="3.2" height="11.4" fill="#c4c5cb"/>
<rect x="465.02" y="521" width="3.2" height="3.2" fill="#c4c5cb"/>
<rect x="469.34" y="524.2" width="3.2" height="8.4" fill="#c4c5cb"/>
<rect x="473.66" y="524.2" width="3.2" height="22.1" fill="#c4c5cb"/>
<rect x="477.98" y="524.2" width="3.2" height="32.3" fill="#c4c5cb"/>
<rect x="482.31" y="524.2" width="3.2" height="33" fill="#c4c5cb"/>
<rect x="486.63" y="524.2" width="3.2" height="26.9" fill="#f7dbba"/>
<rect x="490.95" y="524.2" width="3.2" height="15.2" fill="#f7dbba"/>
<rect x="495.27" y="524.2" width="3.2" height="7" fill="#f7dbba"/>
<rect x="499.6" y="524.2" width="3.2" height="2.9" fill="#f7dbba"/>
<rect x="503.92" y="524.2" width="3.2" height="5.7" fill="#c4c5cb"/>
<rect x="508.24" y="524.2" width="3.2" height="2.2" fill="#f7dbba"/>
<rect x="512.56" y="521" width="3.2" height="3.2" fill="#f7dbba"/>
<rect x="516.89" y="514.8" width="3.2" height="9.4" fill="#f7dbba"/>
<rect x="521.21" y="507.3" width="3.2" height="16.9" fill="#f7dbba"/>
<rect x="525.53" y="502.5" width="3.2" height="21.7" fill="#f7dbba"/>
<rect x="529.85" y="498.4" width="3.2" height="25.8" fill="#f7dbba"/>
<rect x="534.18" y="494.3" width="3.2" height="29.9" fill="#f7dbba"/>
<rect x="538.5" y="491" width="3.2" height="33.2" fill="#f7dbba"/>
<rect x="542.82" y="488.2" width="3.2" height="36" fill="#f7dbba"/>
<rect x="547.14" y="487.5" width="3.2" height="36.7" fill="#f7dbba"/>
<rect x="551.47" y="492.3" width="3.2" height="31.9" fill="#c4c5cb"/>
<rect x="555.79" y="499.1" width="3.2" height="25.1" fill="#c4c5cb"/>
<rect x="560.11" y="507.3" width="3.2" height="16.9" fill="#c4c5cb"/>
<rect x="564.43" y="509.4" width="3.2" height="14.8" fill="#c4c5cb"/>
<rect x="568.76" y="505.2" width="3.2" height="19" fill="#f7dbba"/>
<rect x="573.08" y="501.1" width="3.2" height="23.1" fill="#f7dbba"/>
<rect x="577.4" y="501.3" width="3.2" height="22.9" fill="#c4c5cb"/>
<rect x="581.72" y="518.2" width="3.2" height="6" fill="#c4c5cb"/>
<rect x="586.05" y="524.2" width="3.2" height="12.5" fill="#c4c5cb"/>
<rect x="590.37" y="524.2" width="3.2" height="27.5" fill="#c4c5cb"/>
<rect x="594.69" y="524.2" width="3.2" height="34.4" fill="#c4c5cb"/>
<rect x="599.01" y="524.2" width="3.2" height="26.2" fill="#f7dbba"/>
<rect x="603.34" y="524.2" width="3.2" height="11.8" fill="#f7dbba"/>
<rect x="607.66" y="516.2" width="3.2" height="8" fill="#f7dbba"/>
<rect x="611.98" y="509.4" width="3.2" height="14.8" fill="#f7dbba"/>
<rect x="616.3" y="502.5" width="3.2" height="21.7" fill="#f7dbba"/>
<rect x="620.63" y="498.4" width="3.2" height="25.8" fill="#f7dbba"/>
<rect x="624.95" y="497" width="3.2" height="27.2" fill="#f7dbba"/>
<rect x="629.27" y="506.6" width="3.2" height="17.6" fill="#c4c5cb"/>
<rect x="633.59" y="524.2" width="3.2" height="2.2" fill="#c4c5cb"/>
<rect x="637.92" y="524.2" width="3.2" height="15.2" fill="#c4c5cb"/>
<rect x="642.24" y="524.2" width="3.2" height="30.3" fill="#c4c5cb"/>
<rect x="646.56" y="524.2" width="3.2" height="36.4" fill="#c4c5cb"/>
<rect x="650.88" y="524.2" width="3.2" height="37.8" fill="#c4c5cb"/>
<rect x="655.21" y="524.2" width="3.2" height="37.1" fill="#c4c5cb"/>
<rect x="659.53" y="524.2" width="3.2" height="32.3" fill="#f7dbba"/>
<rect x="663.85" y="524.2" width="3.2" height="20.8" fill="#f7dbba"/>
<rect x="668.17" y="524.2" width="3.2" height="5.8" fill="#f7dbba"/>
<rect x="672.5" y="515" width="3.2" height="9.2" fill="#f7dbba"/>
<rect x="676.82" y="508" width="3.2" height="16.2" fill="#f7dbba"/>
<rect x="681.14" y="509" width="3.2" height="15.2" fill="#f7dbba"/>
<rect x="685.46" y="514.8" width="3.2" height="9.4" fill="#c4c5cb"/>
<rect x="689.79" y="519.6" width="3.2" height="4.6" fill="#c4c5cb"/>
<rect x="694.11" y="522.3" width="3.2" height="1.9" fill="#c4c5cb"/>
<rect x="698.43" y="524.2" width="3.2" height="8.4" fill="#c4c5cb"/>
<rect x="702.75" y="524.2" width="3.2" height="16.6" fill="#c4c5cb"/>
<rect x="707.08" y="524.2" width="3.2" height="20.7" fill="#c4c5cb"/>
<rect x="711.4" y="524.2" width="3.2" height="20.8" fill="#c4c5cb"/>
<rect x="715.72" y="524.2" width="3.2" height="18" fill="#f7dbba"/>
<rect x="720.04" y="524.2" width="3.2" height="15.2" fill="#f7dbba"/>
<rect x="724.37" y="524.2" width="3.2" height="10.5" fill="#f7dbba"/>
<rect x="728.69" y="524.2" width="3.2" height="15.2" fill="#c4c5cb"/>
<rect x="733.01" y="524.2" width="3.2" height="18" fill="#c4c5cb"/>
<rect x="737.33" y="524.2" width="3.2" height="18" fill="#c4c5cb"/>
<rect x="741.66" y="524.2" width="3.2" height="22.1" fill="#c4c5cb"/>
<rect x="745.98" y="524.2" width="3.2" height="21.4" fill="#f7dbba"/>
<rect x="750.3" y="524.2" width="3.2" height="13.9" fill="#f7dbba"/>
<polygon points="-2,514.1 -1,514.1 0,514.1 0,514.1 0,514.1 0,514.1 -1,514.1 -2,514.1" fill="#6e6f78" fill-opacity="0.08"/>
<polygon points="0,514.1 1,513.81 2,513.51 3,513.22 4,512.92 5,512.63 6,512.34 7,512 8,511.48 9,510.97 10,510.45 11,509.94 12,509.42 13,508.91 14,509.27 15,510.22 15.71,510.89 15.71,510.89 15,510.85 14,510.96 13,511.24 12,511.64 11,512 10,512.35 9,512.67 8,512.95 7,513.2 6,513.4 5,513.58 4,513.73 3,513.87 2,513.98 1,514.06 0,514.1" fill="#f0a855" fill-opacity="0.11"/>
<polygon points="15.71,510.89 16,511.16 17,512.11 18,513.06 19,514.01 20,516.03 21,518.18 22,520.32 23,522.47 24,524.67 25,527.32 26,529.98 27,532.64 28,535.3 29,537.51 30,539.73 31,541.12 32,539.23 33,537.33 34,535.44 35,533.55 35.49,532.48 35.49,532.48 35,532.56 34,532.4 33,531.89 32,530.98 31,529.6 30,527.68 29,525.66 28,523.68 27,521.74 26,519.92 25,518.24 24,516.72 23,515.39 22,514.21 21,513.19 20,512.35 19,511.74 18,511.36 17,511.07 16,510.9 15.71,510.89" fill="#6e6f78" fill-opacity="0.08"/>
<polygon points="35.49,532.48 36,531.35 37,528.86 38,526.37 39,523.88 40,521.39 41,518.9 42,516.92 43,514.94 44,512.95 45,510.97 46,508.99 47,507.33 48,505.98 49,504.64 50,503.3 51,501.95 52,500.61 53,500.12 54,500.9 55,501.69 56,502.48 57,503.27 58,504 59,504.5 60,505 60.34,505.17 60.34,505.17 60,505.15 59,505.18 58,505.29 57,505.51 56,505.88 55,506.45 54,507.24 53,508.3 52,509.67 51,511.19 50,512.73 49,514.31 48,515.92 47,517.58 46,519.3 45,521.02 44,522.7 43,524.33 42,525.9 41,527.4 40,528.82 39,530.06 38,531.1 37,531.88 36,532.39 35.49,532.48" fill="#f0a855" fill-opacity="0.11"/>
<polygon points="60.34,505.17 61,505.5 62,506 63,506.5 64,507 65,507.1 66,506.61 67,506.12 67.22,506.01 67.22,506.01 67,506.02 66,506 65,505.9 64,505.7 63,505.49 62,505.32 61,505.2 60.34,505.17" fill="#6e6f78" fill-opacity="0.08"/>
<polygon points="67.22,506.01 68,505.62 69,505.13 70,504.64 71,504.15 72,503.65 73,503.15 74,502.65 75,502.15 76,501.65 77,501.15 78,500.65 79,500.15 80,499.56 81,498.75 82,497.94 83,497.13 84,496.32 85,495.51 86,494.7 87,494.14 88,493.81 89,493.48 90,493.15 91,492.82 92,492.49 93,492.16 94,491.83 95,491.78 96,492.38 97,492.99 98,493.59 98.19,493.7 98.19,493.7 98,493.69 97,493.71 96,493.83 95,494.07 94,494.45 93,494.89 92,495.35 91,495.82 90,496.33 89,496.86 88,497.42 87,498.03 86,498.68 85,499.34 84,499.98 83,500.59 82,501.17 81,501.71 80,502.21 79,502.65 78,503.07 77,503.47 76,503.86 75,504.23 74,504.58 73,504.9 72,505.2 71,505.45 70,505.67 69,505.84 68,505.96 67.22,506.01" fill="#f0a855" fill-opacity="0.11"/>
<polygon points="98.19,493.7 99,494.19 100,494.8 101,495.4 102,496.29 103,497.48 104,498.67 105,499.86 106,501.05 107,502.24 108,503.42 109,504.81 110,506.33 111,507.85 112,509.37 113,510.89 114,512.29 115,513.25 116,514.21 117,515.16 118,516.12 119,517.08 120,518.04 121,519.07 122,520.75 123,522.43 124,524.12 125,525.8 126,528.05 127,530.3 128,532.55 129,534.8 130,537.05 131,535.37 132,532.71 133,530.05 133.64,528.35 133.64,528.35 133,528.44 132,528.17 131,527.41 130,526.08 129,524.25 128,522.49 127,520.8 126,519.22 125,517.74 124,516.4 123,515.1 122,513.88 121,512.73 120,511.67 119,510.61 118,509.53 117,508.43 116,507.3 115,506.14 114,504.96 113,503.73 112,502.54 111,501.39 110,500.32 109,499.31 108,498.39 107,497.55 106,496.77 105,496.05 104,495.42 103,494.87 102,494.43 101,494.12 100,493.91 99,493.76 98.19,493.7" fill="#6e6f78" fill-opacity="0.08"/>
<polygon points="133.64,528.35 134,527.4 135,524.85 136,522.47 137,520.1 138,517.72 139,515.34 140,512.97 141,510.59 142,508.44 143,506.53 144,504.62 145,502.71 146,500.8 147,498.89 148,496.97 149,496.31 150,496.18 151,496.06 152,495.93 153,495.8 154,495.75 155,495.99 156,496.24 157,496.48 158,496.72 159,496.97 160,497.21 161,497.46 162,497.7 162.82,498.11 162.82,498.11 162,498.1 161,498.17 160,498.28 159,498.46 158,498.71 157,499.05 156,499.48 155,500.02 154,500.69 153,501.52 152,502.47 151,503.56 150,504.82 149,506.26 148,507.92 147,509.75 146,511.57 145,513.37 144,515.15 143,516.91 142,518.65 141,520.35 140,521.98 139,523.49 138,524.85 137,526.04 136,527.04 135,527.8 134,528.29 133.64,528.35" fill="#f0a855" fill-opacity="0.11"/>
<polygon points="162.82,498.11 163,498.2 164,498.7 165,499.2 166,499.7 167,500.2 168,500.7 169,501.08 170,500.97 171,500.86 172,500.75 173,500.64 174,500.53 174.87,500.07 174.87,500.07 174,500.08 173,500.01 172,499.9 171,499.76 170,499.57 169,499.34 168,499.05 167,498.77 166,498.54 165,498.34 164,498.2 163,498.11 162.82,498.11" fill="#6e6f78" fill-opacity="0.08"/>
<polygon points="174.87,500.07 175,500.01 176,499.3 177,498.59 178,497.89 179,497.18 180,496.48 181,495.77 182,495.13 183,494.49 184,493.85 185,493.22 186,492.62 187,492.06 188,491.49 189,490.93 190,490.37 191,490.67 192,491.34 193,492.01 194,492.69 194.19,492.82 194.19,492.82 194,492.8 193,492.82 192,492.96 191,493.22 190,493.65 189,494.2 188,494.75 187,495.29 186,495.83 185,496.37 184,496.89 183,497.4 182,497.89 181,498.35 180,498.78 179,499.16 178,499.5 177,499.76 176,499.96 175,500.07 174.87,500.07" fill="#f0a855" fill-opacity="0.11"/>
<polygon points="194.19,492.82 195,493.36 196,494.03 197,494.67 198,495.29 199,495.91 200,496.53 201,497.14 202,497.68 203,497.44 204,497.2 205,496.97 206,496.73 207,496.49 208,496.32 209,496.19 209.59,496.12 209.59,496.12 209,496.12 208,496.11 207,496.07 206,496 205,495.88 204,495.7 203,495.45 202,495.12 201,494.69 200,494.28 199,493.9 198,493.57 197,493.28 196,493.05 195,492.88 194.19,492.82" fill="#6e6f78" fill-opacity="0.08"/>
<polygon points="209.59,496.12 210,496.06 211,495.93 212,495.8 213,495.95 213.08,496.05 213.08,496.05 213,496.03 212,496.05 211,496.09 210,496.11 209.59,496.12" fill="#f0a855" fill-opacity="0.11"/>
<polygon points="213.08,496.05 214,497.18 215,498.42 216,499.66 217,500.89 218,502.13 219,503.68 220,505.36 221,507.04 222,508.73 223,510.6 224,512.6 225,514.6 226,516.6 227,518.22 228,519.45 229,520.69 230,521.93 231,523.16 232,524.4 233,525.66 234,526.92 235,528.18 236,529.44 237,530.7 238,532.06 239,533.5 240,534.94 241,536.38 242,537.81 243,538.9 244,539.9 245,540.9 246,541.03 247,539.86 248,538.69 249,537.52 250,536.59 251,536.2 251.23,536.12 251.23,536.12 251,536.13 250,536.11 249,536.04 248,535.79 247,535.3 246,534.54 245,533.46 244,532.21 243,530.93 242,529.59 241,528.22 240,526.86 239,525.51 238,524.17 237,522.85 236,521.54 235,520.22 234,518.89 233,517.55 232,516.19 231,514.82 230,513.43 229,512.01 228,510.56 227,509.07 226,507.54 225,506.03 224,504.6 223,503.26 222,502.03 221,500.91 220,499.89 219,498.97 218,498.19 217,497.53 216,496.97 215,496.52 214,496.2 213.08,496.05" fill="#6e6f78" fill-opacity="0.08"/>
<polygon points="251.23,536.12 252,535.82 253,535.44 254,535.06 255,534.68 256,535.32 256.39,535.67 256.39,535.67 256,535.63 255,535.69 254,535.86 253,535.99 252,536.08 251.23,536.12" fill="#f0a855" fill-opacity="0.11"/>
<polygon points="256.39,535.67 257,536.21 258,537.1 259,538 260,538.89 261,539.79 262,540.68 263,541.57 264,542.66 265,544.17 266,545.69 267,547.21 268,548.73 269,550.25 270,550.73 271,551.09 272,551.45 273,551.82 274,552.18 275,552.49 276,552.72 277,552.94 278,553.17 279,553.39 280,553.62 281,553.73 282,553.37 283,553.01 284,552.65 285,552.29 285.69,552.04 285.69,552.04 285,552.05 284,552.01 283,551.91 282,551.72 281,551.45 280,551.07 279,550.64 278,550.18 277,549.68 276,549.13 275,548.54 274,547.88 273,547.16 272,546.38 271,545.53 270,544.6 269,543.57 268,542.46 267,541.41 266,540.44 265,539.56 264,538.79 263,538.15 262,537.57 261,537.05 260,536.6 259,536.21 258,535.92 257,535.72 256.39,535.67" fill="#6e6f78" fill-opacity="0.08"/>
<polygon points="285.69,552.04 286,551.93 287,551.57 288,551.21 289,550.57 290,549.81 291,549.06 292,548.3 293,547.55 294,546.79 295,546.03 296,545.28 297,544.4 298,543.4 299,542.4 300,541.4 301,540.4 302,539.4 303,538.4 304,537.4 305,536.4 306,535.4 307,534.4 308,534.59 309,535.57 310,536.55 311,537.53 311.72,538.24 311.72,538.24 311,538.21 310,538.32 309,538.62 308,539.12 307,539.88 306,540.8 305,541.7 304,542.59 303,543.45 302,544.3 301,545.12 300,545.91 299,546.66 298,547.37 297,548.04 296,548.64 295,549.21 294,549.73 293,550.23 292,550.68 291,551.07 290,551.41 289,551.67 288,551.86 287,551.97 286,552.03 285.69,552.04" fill="#f0a855" fill-opacity="0.11"/>
<polygon points="311.72,538.24 312,538.52 313,539.53 314,540.78 315,542.03 316,543.29 317,544.54 318,545.8 319,546.9 320,547.9 321,548.9 322,549.9 323,550.23 324,549.88 325,549.54 326,549.2 327,548.85 328,548.51 329,548.14 330,547.75 330.57,547.53 330.57,547.53 330,547.54 329,547.51 328,547.4 327,547.22 326,546.95 325,546.57 324,546.07 323,545.44 322,544.64 321,543.76 320,542.9 319,542.06 318,541.25 317,540.49 316,539.82 315,539.24 314,538.77 313,538.43 312,538.25 311.72,538.24" fill="#6e6f78" fill-opacity="0.08"/>
<polygon points="330.57,547.53 331,547.36 332,546.97 333,546.57 334,546.13 335,545.57 336,545.01 337,544.45 338,543.88 339,543.32 340,542.76 341,542.2 342,542.41 343,542.62 344,542.82 345,543.03 346,543.24 347,543.45 348,543.65 348.29,543.71 348.29,543.71 348,543.7 347,543.71 346,543.75 345,543.84 344,543.98 343,544.17 342,544.43 341,544.77 340,545.19 339,545.6 338,545.98 337,546.33 336,546.65 335,546.92 334,547.15 333,547.31 332,547.44 331,547.52 330.57,547.53" fill="#f0a855" fill-opacity="0.11"/>
<polygon points="348.29,543.71 349,543.84 350,543.97 351,544.09 352,544.22 353,544.35 354,544.47 355,544.6 355.42,544.05 355.42,544.05 355,544.09 354,544.01 353,543.93 352,543.86 351,543.8 350,543.76 349,543.72 348.29,543.71" fill="#6e6f78" fill-opacity="0.08"/>
<polygon points="355.42,544.05 356,543.28 357,541.97 358,540.65 359,539.33 360,538.02 361,536.7 362,535.71 363,534.73 364,533.74 365,532.76 366,531.77 367,530.79 368,529.83 369,529.16 370,528.49 371,527.82 372,527.15 373,526.48 374,525.81 375,525.14 376,524.47 377,523.13 378,521.72 379,520.31 380,518.89 381,517.48 382,516.07 383,514.67 384,513.36 385,512.05 386,510.74 387,509.43 388,508.12 389,506.82 390,505.73 391,505.17 392,504.61 393,504.04 394,503.48 395,503.51 396,504.12 397,504.74 398,505.35 399,505.97 400,506.58 400.35,506.8 400.35,506.8 400,506.78 399,506.81 398,506.95 397,507.22 396,507.63 395,508.22 394,509.01 393,509.93 392,510.91 391,511.97 390,513.11 389,514.34 388,515.6 387,516.84 386,518.08 385,519.31 384,520.52 383,521.72 382,522.9 381,524.04 380,525.13 379,526.17 378,527.16 377,528.06 376,528.89 375,529.63 374,530.38 373,531.14 372,531.92 371,532.72 370,533.54 369,534.38 368,535.25 367,536.16 366,537.05 365,537.94 364,538.8 363,539.65 362,540.47 361,541.26 360,542.02 359,542.69 358,543.26 357,543.69 356,543.98 355.42,544.05" fill="#f0a855" fill-opacity="0.11"/>
<polygon points="400.35,506.8 401,507.2 402,507.82 403,508.57 404,509.38 405,510.2 406,511.01 407,511.82 408,512.64 409,513.45 410,514.03 411,513.67 412,513.32 413,512.96 414,512.61 415,512.25 416,511.9 416.29,511.79 416.29,511.79 416,511.81 415,511.79 414,511.71 413,511.56 412,511.33 411,511 410,510.55 409,509.97 408,509.39 407,508.84 406,508.35 405,507.9 404,507.52 403,507.21 402,506.98 401,506.84 400.35,506.8" fill="#6e6f78" fill-opacity="0.08"/>
<polygon points="416.29,511.79 417,511.54 418,511.16 419,510.76 420,510.37 421,509.97 422,509.57 423,509.18 424,508.78 425,507.94 426,506.99 427,506.04 428,505.09 429,505.39 430,506.25 431,507.09 431.76,507.74 431.76,507.74 431,507.72 430,507.82 429,508.08 428,508.53 427,509.11 426,509.62 425,510.07 424,510.42 423,510.7 422,510.95 421,511.18 420,511.38 419,511.55 418,511.68 417,511.77 416.29,511.79" fill="#f0a855" fill-opacity="0.11"/>
<polygon points="431.76,507.74 432,507.94 432.31,507.73 432.31,507.73 432,507.75 431.76,507.74" fill="#6e6f78" fill-opacity="0.08"/>
<polygon points="432.31,507.73 433,507.25 434,505.89 435,504.54 436,503.18 437,502.13 438,501.38 439,500.64 440,499.89 441,499.15 442,498.4 443,497.77 444,497.14 445,496.51 446,495.88 447,495.25 448,495 449,495 450,495 451,495.9 452,497.03 452.3,497.37 452.3,497.37 452,497.33 451,497.38 450,497.63 449,498.07 448,498.58 447,499.18 446,499.84 445,500.5 444,501.16 443,501.84 442,502.52 441,503.2 440,503.88 439,504.55 438,505.2 437,505.84 436,506.46 435,507.01 434,507.42 433,507.68 432.31,507.73" fill="#f0a855" fill-opacity="0.11"/>
<polygon points="452.3,497.37 453,498.16 454,499.29 455,500.42 456,501.58 457,502.78 458,503.99 459,505.19 460,506.39 461,507.6 462,508.8 463,509.99 464,511.16 465,512.33 466,513.51 467,514.68 468,515.85 469,517.03 470,518.2 471,520.25 472,522.31 473,524.36 474,526.42 475,528.47 476,529.77 477,530.31 478,530.85 479,531.39 480,531.93 481,531.41 482,529.83 483,528.25 483.83,526.93 483.83,526.93 483,526.97 482,526.76 481,526.24 480,525.38 479,524.29 478,523.1 477,521.8 476,520.38 475,518.81 474,517.2 473,515.66 472,514.2 471,512.85 470,511.61 469,510.51 468,509.42 467,508.34 466,507.28 465,506.24 464,505.22 463,504.23 462,503.27 461,502.35 460,501.47 459,500.64 458,499.89 457,499.2 456,498.6 455,498.1 454,497.71 453,497.45 452.3,497.37" fill="#6e6f78" fill-opacity="0.08"/>
<polygon points="483.83,526.93 484,526.66 485,525.08 486,523.5 487,521.9 488,520.3 489,518.7 490,517.1 491,515.5 492,513.9 493,512.3 494,512.03 495,513.1 496,514.17 497,515.23 498,516.3 498.53,516.87 498.53,516.87 498,516.83 497,516.91 496,517.2 495,517.7 494,518.47 493,519.55 492,520.76 491,521.9 490,522.97 489,523.96 488,524.83 487,525.59 486,526.21 485,526.66 484,526.93 483.83,526.93" fill="#f0a855" fill-opacity="0.11"/>
<polygon points="498.53,516.87 499,517.37 500,518.43 501,519.5 502,520.54 503,521.58 504,522.62 505,523.67 506,524.19 507,522.62 508,521.06 508.24,520.68 508.24,520.68 508,520.72 507,520.67 506,520.34 505,519.7 504,519.03 503,518.43 502,517.9 501,517.46 500,517.12 499,516.9 498.53,516.87" fill="#6e6f78" fill-opacity="0.08"/>
<polygon points="508.24,520.68 509,519.49 510,517.93 511,516.36 512,514.8 513,513.2 514,511.59 515,509.99 516,508.39 517,506.79 518,505.18 519,503.66 520,502.45 521,501.25 522,500.04 523,498.84 524,497.63 525,496.42 526,495.38 527,494.59 528,493.8 529,493.01 530,492.22 531,491.43 532,490.95 533,491.72 534,492.48 535,493.25 536,494.02 537,494.78 537.08,494.84 537.08,494.84 537,494.83 536,494.84 535,494.98 534,495.27 533,495.73 532,496.4 531,497.32 530,498.3 529,499.31 528,500.37 527,501.46 526,502.61 525,503.82 524,505.06 523,506.3 522,507.55 521,508.8 520,510.06 519,511.33 518,512.62 517,513.86 516,515.04 515,516.15 514,517.18 513,518.11 512,518.94 511,519.63 510,520.17 509,520.55 508.24,520.68" fill="#f0a855" fill-opacity="0.11"/>
<polygon points="537.08,494.84 538,495.55 539,496.31 540,497.07 541,497.84 542,498.6 543,499.36 544,500.13 545,500.89 546,501.65 547,502.42 548,502.64 549,502.31 550,501.99 551,501.67 552,501.34 553,501.02 554,500.69 554.55,500.57 554.55,500.57 554,500.58 553,500.56 552,500.48 551,500.34 550,500.11 549,499.8 548,499.38 547,498.83 546,498.24 545,497.66 544,497.12 543,496.62 542,496.16 541,495.76 540,495.41 539,495.13 538,494.93 537.08,494.84" fill="#6e6f78" fill-opacity="0.08"/>
<polygon points="554.55,500.57 555,500.47 556,500.38 557,500.3 558,500.21 559,500.12 560,500.04 561,499.95 562,499.87 563,499.73 564,499.39 565,499.05 566,498.71 567,498.37 568,498.02 569,497.68 570,497.34 571,497 572,496.76 573,496.51 574,496.27 575,496.02 576,495.78 577,495.54 578,495.29 579,495.05 580,496.29 580.15,496.54 580.15,496.54 580,496.51 579,496.54 578,496.79 577,497.04 576,497.29 575,497.55 574,497.8 573,498.06 572,498.32 571,498.58 570,498.84 569,499.09 568,499.32 567,499.54 566,499.74 565,499.91 564,500.05 563,500.17 562,500.24 561,500.3 560,500.36 559,500.41 558,500.46 557,500.5 556,500.53 555,500.56 554.55,500.57" fill="#f0a855" fill-opacity="0.11"/>
<polygon points="580.15,496.54 581,497.91 582,499.53 583,501.15 584,502.77 585,504.57 586,506.81 587,509.04 588,511.28 589,513.52 590,515.75 591,517.99 592,520.23 593,522.48 594,524.72 595,526.96 596,529.2 597,527.18 598,525.16 599,523.14 600,521.12 600.46,520.19 600.46,520.19 600,520.27 599,520.13 598,519.62 597,518.7 596,517.28 595,515.29 594,513.34 593,511.44 592,509.59 591,507.82 590,506.12 589,504.5 588,503 587,501.62 586,500.37 585,499.3 584,498.42 583,497.69 582,497.11 581,496.71 580.15,496.54" fill="#6e6f78" fill-opacity="0.08"/>
<polygon points="600.46,520.19 601,519.1 602,517.8 603,516.57 604,515.34 605,514.11 606,513.06 607,512.17 608,511.28 609,510.39 610,509.5 611,508.66 612,508.28 613,507.9 614,507.52 615,507.13 616,506.75 617,506.11 618,505.31 619,504.5 620,503.69 621,502.88 622,502.07 623,501.26 624,501.37 625,501.7 626,502.03 627,502.37 628,503.27 628.46,503.85 628.46,503.85 628,503.8 627,503.89 626,504.15 625,504.5 624,504.97 623,505.57 622,506.29 621,507 620,507.69 619,508.36 618,509 617,509.62 616,510.2 615,510.78 614,511.39 613,512.04 612,512.73 611,513.47 610,514.27 609,515.07 608,515.85 607,516.62 606,517.36 605,518.08 604,518.74 603,519.31 602,519.77 601,520.1 600.46,520.19" fill="#f0a855" fill-opacity="0.11"/>
<polygon points="628.46,503.85 629,504.54 630,505.82 631,507.1 632,508.38 633,509.64 634,510.83 635,512.01 636,513.2 637,514.39 638,515.58 639,516.77 640,517.9 641,518.9 642,519.9 643,520.9 644,521.9 645,522.9 646,524.57 647,526.32 648,528.06 649,529.81 650,531.55 651,534.1 652,537.86 653,541.62 654,544.05 655,545.16 656,546.27 657,545.02 658,542.75 659,540.49 660,538.23 660.21,537.75 660.21,537.75 660,537.8 659,537.73 658,537.27 657,536.35 656,534.9 655,533.01 654,530.97 653,528.79 652,526.64 651,524.77 650,523.21 649,521.81 648,520.48 647,519.21 646,518.02 645,516.93 644,515.93 643,514.93 642,513.94 641,512.94 640,511.94 639,510.95 638,509.97 637,509.04 636,508.14 635,507.3 634,506.51 633,505.79 632,505.14 631,504.6 630,504.18 629,503.91 628.46,503.85" fill="#6e6f78" fill-opacity="0.08"/>
<polygon points="660.21,537.75 661,535.97 662,533.7 663,531.44 664,529.18 665,527.23 666,525.42 667,523.62 668,521.81 669,520 670,518.19 671,516.38 672,515.25 673,514.2 674,513.15 675,512.1 676,511.05 677,510 678,508.95 679,508.06 680,508.62 681,509.18 682,509.74 683,510.31 684,510.89 685,511.52 686,512.15 686.07,512.19 686.07,512.19 686,512.19 685,512.19 684,512.31 683,512.54 682,512.92 681,513.45 680,514.16 679,515.09 678,516.26 677,517.48 676,518.74 675,520.02 674,521.34 673,522.71 672,524.14 671,525.62 670,527.16 669,528.66 668,530.11 667,531.5 666,532.82 665,534.05 664,535.19 663,536.2 662,536.99 661,537.54 660.21,537.75" fill="#f0a855" fill-opacity="0.11"/>
<polygon points="686.07,512.19 687,512.78 688,513.41 689,514.04 690,514.77 691,515.52 692,516.26 693,517.01 694,517.75 695,518.16 696,518.05 697,517.94 698,517.83 699,517.72 700,517.61 701,517.6 702,517.6 703,517.6 704,517.6 705,517.6 706,517.6 707,517.6 708,517.6 709,517.6 710,517.6 711,517.6 712,517.71 713,517.82 714,517.93 715,518.04 716,518.15 717,518.76 718,519.89 719,521.02 720,522.15 721,523.27 722,524.4 723,526.42 724,528.44 725,530.46 726,532.47 727,534.49 728,536.05 729,537.31 730,538.56 731,539.82 732,541.07 733,542.31 734,543.38 735,544.45 736,545.52 737,546.59 738,545.92 739,544.81 740,543.71 741,542.6 741.99,541.51 741.99,541.51 741,541.52 740,541.33 739,540.94 738,540.29 737,539.35 736,538.14 735,536.91 734,535.65 733,534.35 732,533.02 731,531.68 730,530.32 729,528.94 728,527.54 727,526.12 726,524.72 725,523.43 724,522.25 723,521.22 722,520.35 721,519.68 720,519.08 719,518.56 718,518.15 717,517.86 716,517.71 715,517.64 714,517.57 713,517.51 712,517.46 711,517.42 710,517.39 709,517.35 708,517.31 707,517.26 706,517.21 705,517.14 704,517.06 703,516.97 702,516.87 701,516.75 700,516.6 699,516.44 698,516.22 697,515.95 696,515.62 695,515.21 694,514.72 693,514.22 692,513.75 691,513.33 690,512.97 689,512.66 688,512.43 687,512.27 686.07,512.19" fill="#6e6f78" fill-opacity="0.08"/>
<polygon points="741.99,541.51 742,541.5 743,540.39 744,539.26 745,537.81 746,536.36 747,534.91 748,533.47 749,531.95 750,530.33 751,528.71 752,527.1 752.8,525.8 752.8,532.98 752,534.18 751,535.36 750,536.47 749,537.5 748,538.43 747,539.26 746,539.98 745,540.59 744,541.05 743,541.35 742,541.51 741.99,541.51" fill="#f0a855" fill-opacity="0.11"/>
<polygon points="0,514.1 1,513.81 2,513.51 3,513.22 4,512.92 5,512.63 6,512.34 7,512 8,511.48 9,510.97 10,510.45 11,509.94 12,509.42 13,508.91 14,509.27 15,510.22 15.93,511.1 15.93,511.1 15,511.09 14,511.21 13,511.49 12,511.85 11,512.19 10,512.51 9,512.81 8,513.07 7,513.29 6,513.47 5,513.64 4,513.78 3,513.9 2,514 1,514.06 0,514.1" fill="#f0a855" fill-opacity="0.11"/>
<polygon points="35.97,531.41 36,531.35 37,528.86 38,526.37 39,523.88 40,521.39 41,518.9 42,516.92 43,514.94 44,512.95 45,510.97 46,508.99 47,507.33 48,505.98 49,504.64 50,503.3 51,501.95 52,500.61 53,500.12 54,500.9 55,501.69 56,502.48 57,503.27 58,504 59,504.5 60,505 61,505.5 61.77,505.89 61.77,505.89 61,505.87 60,505.93 59,506.06 58,506.28 57,506.6 56,507.07 55,507.72 54,508.57 53,509.66 52,511.01 51,512.48 50,513.98 49,515.49 48,517.02 47,518.59 46,520.18 45,521.76 44,523.29 43,524.75 42,526.14 41,527.45 40,528.66 39,529.69 38,530.51 37,531.09 36,531.41 35.97,531.41" fill="#f0a855" fill-opacity="0.11"/>
<polygon points="66.72,506.25 67,506.12 68,505.62 69,505.13 70,504.64 71,504.15 72,503.65 73,503.15 74,502.65 75,502.15 76,501.65 77,501.15 78,500.65 79,500.15 80,499.56 81,498.75 82,497.94 83,497.13 84,496.32 85,495.51 86,494.7 87,494.14 88,493.81 89,493.48 90,493.15 91,492.82 92,492.49 93,492.16 94,491.83 95,491.78 96,492.38 97,492.99 98,493.59 98.84,494.09 98.84,494.09 98,494.08 97,494.15 96,494.32 95,494.59 94,494.99 93,495.44 92,495.9 91,496.38 90,496.89 89,497.42 88,497.97 87,498.56 86,499.19 85,499.83 84,500.44 83,501.02 82,501.57 81,502.08 80,502.55 79,502.98 78,503.38 77,503.77 76,504.14 75,504.49 74,504.82 73,505.13 72,505.41 71,505.65 70,505.87 69,506.04 68,506.17 67,506.25 66.72,506.25" fill="#f0a855" fill-opacity="0.11"/>
<polygon points="134.08,527.18 135,524.85 136,522.47 137,520.1 138,517.72 139,515.34 140,512.97 141,510.59 142,508.44 143,506.53 144,504.62 145,502.71 146,500.8 147,498.89 148,496.97 149,496.31 150,496.18 151,496.06 152,495.93 153,495.8 154,495.75 155,495.99 156,496.24 157,496.48 158,496.72 159,496.97 160,497.21 161,497.46 162,497.7 163,498.2 163.93,498.67 163.93,498.67 163,498.66 162,498.73 161,498.87 160,499.07 159,499.34 158,499.67 157,500.09 156,500.6 155,501.22 154,501.96 153,502.84 152,503.84 151,504.95 150,506.21 149,507.63 148,509.24 147,510.97 146,512.68 145,514.37 144,516.02 143,517.63 142,519.2 141,520.72 140,522.16 139,523.46 138,524.61 137,525.58 136,526.36 135,526.91 134.08,527.18" fill="#f0a855" fill-opacity="0.11"/>
<polygon points="174.89,500.06 175,500.01 176,499.3 177,498.59 178,497.89 179,497.18 180,496.48 181,495.77 182,495.13 183,494.49 184,493.85 185,493.22 186,492.62 187,492.06 188,491.49 189,490.93 190,490.37 191,490.67 192,491.34 193,492.01 194,492.69 194.72,493.17 194.72,493.17 194,493.15 193,493.22 192,493.39 191,493.68 190,494.11 189,494.63 188,495.16 187,495.68 186,496.19 185,496.7 184,497.19 183,497.66 182,498.11 181,498.53 180,498.92 179,499.27 178,499.56 177,499.8 176,499.97 175,500.06 174.89,500.06" fill="#f0a855" fill-opacity="0.11"/>
<polygon points="210.43,496.01 211,495.93 212,495.8 213,495.95 213.02,495.98 213.02,495.98 213,495.97 212,495.98 211,496 210.43,496.01" fill="#f0a855" fill-opacity="0.11"/>
<polygon points="253.24,535.35 254,535.06 255,534.68 255.9,535.25 255.9,535.25 255,535.24 254,535.32 253.24,535.35" fill="#f0a855" fill-opacity="0.11"/>
<polygon points="286.79,551.64 287,551.57 288,551.21 289,550.57 290,549.81 291,549.06 292,548.3 293,547.55 294,546.79 295,546.03 296,545.28 297,544.4 298,543.4 299,542.4 300,541.4 301,540.4 302,539.4 303,538.4 304,537.4 305,536.4 306,535.4 307,534.4 308,534.59 309,535.57 310,536.55 311,537.53 312,538.52 312.29,538.8 312.29,538.8 312,538.78 311,538.81 310,539 309,539.34 308,539.88 307,540.62 306,541.5 305,542.37 304,543.21 303,544.04 302,544.83 301,545.6 300,546.34 299,547.04 298,547.7 297,548.3 296,548.86 295,549.36 294,549.84 293,550.27 292,550.65 291,550.98 290,551.26 289,551.46 288,551.59 287,551.64 286.79,551.64" fill="#f0a855" fill-opacity="0.11"/>
<polygon points="331.41,547.2 332,546.97 333,546.57 334,546.13 335,545.57 336,545.01 337,544.45 338,543.88 339,543.32 340,542.76 341,542.2 342,542.41 343,542.62 344,542.82 345,543.03 346,543.24 347,543.45 348,543.65 349,543.84 349.09,543.85 349.09,543.85 349,543.85 348,543.85 347,543.88 346,543.94 345,544.04 344,544.18 343,544.37 342,544.62 341,544.93 340,545.32 339,545.68 338,546.02 337,546.32 336,546.59 335,546.81 334,546.98 333,547.11 332,547.18 331.41,547.2" fill="#f0a855" fill-opacity="0.11"/>
<polygon points="355.4,544.07 356,543.28 357,541.97 358,540.65 359,539.33 360,538.02 361,536.7 362,535.71 363,534.73 364,533.74 365,532.76 366,531.77 367,530.79 368,529.83 369,529.16 370,528.49 371,527.82 372,527.15 373,526.48 374,525.81 375,525.14 376,524.47 377,523.13 378,521.72 379,520.31 380,518.89 381,517.48 382,516.07 383,514.67 384,513.36 385,512.05 386,510.74 387,509.43 388,508.12 389,506.82 390,505.73 391,505.17 392,504.61 393,504.04 394,503.48 395,503.51 396,504.12 397,504.74 398,505.35 399,505.97 400,506.58 401,507.2 401.44,507.47 401.44,507.47 401,507.45 400,507.49 399,507.62 398,507.85 397,508.2 396,508.69 395,509.34 394,510.17 393,511.11 392,512.11 391,513.17 390,514.31 389,515.52 388,516.75 387,517.98 386,519.19 385,520.38 384,521.56 383,522.72 382,523.86 381,524.96 380,526.02 379,527.03 378,527.98 377,528.87 376,529.68 375,530.42 374,531.17 373,531.92 372,532.7 371,533.48 370,534.28 369,535.1 368,535.94 367,536.81 366,537.66 365,538.49 364,539.3 363,540.09 362,540.85 361,541.58 360,542.27 359,542.87 358,543.37 357,543.76 356,544.01 355.4,544.07" fill="#f0a855" fill-opacity="0.11"/>
<polygon points="416.78,511.62 417,511.54 418,511.16 419,510.76 420,510.37 421,509.97 422,509.57 423,509.18 424,508.78 425,507.94 426,506.99 427,506.04 428,505.09 429,505.39 430,506.25 431,507.09 432,507.94 433,507.25 434,505.89 435,504.54 436,503.18 437,502.13 438,501.38 439,500.64 440,499.89 441,499.15 442,498.4 443,497.77 444,497.14 445,496.51 446,495.88 447,495.25 448,495 449,495 450,495 451,495.9 452,497.03 452.73,497.86 452.73,497.86 452,497.83 451,497.94 450,498.23 449,498.68 448,499.2 447,499.8 446,500.44 445,501.09 444,501.74 443,502.39 442,503.04 441,503.7 440,504.34 439,504.97 438,505.58 437,506.18 436,506.75 435,507.26 434,507.64 433,507.89 432,507.98 431,507.98 430,508.11 429,508.37 428,508.79 427,509.32 426,509.78 425,510.18 424,510.5 423,510.74 422,510.96 421,511.16 420,511.33 419,511.46 418,511.56 417,511.62 416.78,511.62" fill="#f0a855" fill-opacity="0.11"/>
<polygon points="484.45,525.96 485,525.08 486,523.5 487,521.9 488,520.3 489,518.7 490,517.1 491,515.5 492,513.9 493,512.3 494,512.03 495,513.1 496,514.17 497,515.23 498,516.3 498.94,517.3 498.94,517.3 498,517.29 497,517.43 496,517.74 495,518.25 494,518.98 493,519.96 492,521.04 491,522.05 490,522.98 489,523.81 488,524.54 487,525.14 486,525.6 485,525.89 484.45,525.96" fill="#f0a855" fill-opacity="0.11"/>
<polygon points="508.37,520.48 509,519.49 510,517.93 511,516.36 512,514.8 513,513.2 514,511.59 515,509.99 516,508.39 517,506.79 518,505.18 519,503.66 520,502.45 521,501.25 522,500.04 523,498.84 524,497.63 525,496.42 526,495.38 527,494.59 528,493.8 529,493.01 530,492.22 531,491.43 532,490.95 533,491.72 534,492.48 535,493.25 536,494.02 537,494.78 538,495.55 538,495.55 537,495.55 536,495.65 535,495.89 534,496.26 533,496.79 532,497.51 531,498.44 530,499.43 529,500.45 528,501.51 527,502.6 526,503.73 525,504.91 524,506.11 523,507.31 522,508.51 521,509.71 520,510.91 519,512.11 518,513.3 517,514.45 516,515.54 515,516.55 514,517.48 513,518.31 512,519.03 511,519.63 510,520.1 509,520.4 508.37,520.48" fill="#f0a855" fill-opacity="0.11"/>
<polygon points="555.94,500.39 556,500.38 557,500.3 558,500.21 559,500.12 560,500.04 561,499.95 562,499.87 563,499.73 564,499.39 565,499.05 566,498.71 567,498.37 568,498.02 569,497.68 570,497.34 571,497 572,496.76 573,496.51 574,496.27 575,496.02 576,495.78 577,495.54 578,495.29 579,495.05 580,496.29 580.28,496.75 580.28,496.75 580,496.71 579,496.77 578,497.01 577,497.26 576,497.5 575,497.74 574,497.99 573,498.23 572,498.48 571,498.72 570,498.96 569,499.19 568,499.4 567,499.6 566,499.77 565,499.93 564,500.05 563,500.14 562,500.2 561,500.25 560,500.29 559,500.33 558,500.35 557,500.37 556,500.39 555.94,500.39" fill="#f0a855" fill-opacity="0.11"/>
<polygon points="601.01,519.09 602,517.8 603,516.57 604,515.34 605,514.11 606,513.06 607,512.17 608,511.28 609,510.39 610,509.5 611,508.66 612,508.28 613,507.9 614,507.52 615,507.13 616,506.75 617,506.11 618,505.31 619,504.5 620,503.69 621,502.88 622,502.07 623,501.26 624,501.37 625,501.7 626,502.03 627,502.37 628,503.27 628.83,504.32 628.83,504.32 628,504.3 627,504.44 626,504.74 625,505.12 624,505.61 623,506.21 622,506.9 621,507.59 620,508.26 619,508.9 618,509.53 617,510.12 616,510.69 615,511.25 614,511.83 613,512.44 612,513.08 611,513.76 610,514.49 609,515.19 608,515.87 607,516.52 606,517.14 605,517.72 604,518.23 603,518.64 602,518.93 601.01,519.09" fill="#f0a855" fill-opacity="0.11"/>
<polygon points="660.77,536.48 661,535.97 662,533.7 663,531.44 664,529.18 665,527.23 666,525.42 667,523.62 668,521.81 669,520 670,518.19 671,516.38 672,515.25 673,514.2 674,513.15 675,512.1 676,511.05 677,510 678,508.95 679,508.06 680,508.62 681,509.18 682,509.74 683,510.31 684,510.89 685,511.52 686,512.15 687,512.78 687.14,512.87 687.14,512.87 687,512.86 686,512.87 685,512.97 684,513.18 683,513.5 682,513.95 681,514.55 680,515.31 679,516.25 678,517.41 677,518.61 676,519.83 675,521.08 674,522.35 673,523.65 672,524.98 671,526.36 670,527.77 669,529.13 668,530.42 667,531.64 666,532.78 665,533.82 664,534.75 663,535.54 662,536.12 661,536.47 660.77,536.48" fill="#f0a855" fill-opacity="0.11"/>
<polygon points="742.77,540.65 743,540.39 744,539.26 745,537.81 746,536.36 747,534.91 748,533.47 749,531.95 750,530.33 751,528.71 752,527.1 752.8,525.8 752.8,533.54 752,534.63 751,535.7 750,536.69 749,537.59 748,538.39 747,539.08 746,539.67 745,540.14 744,540.47 743,540.64 742.77,540.65" fill="#f0a855" fill-opacity="0.11"/>
<polygon points="-2,514.1 -1,514.1 0,514.1 0,514.1 0,514.1 0,514.1 -1,514.1 -2,514.1" fill="#6e6f78" fill-opacity="0.08"/>
<polygon points="0,514.1 1,513.81 2,513.51 3,513.22 4,512.92 5,512.63 6,512.34 7,512 8,511.48 9,510.97 10,510.45 11,509.94 12,509.42 13,508.91 14,509.27 15,510.22 16,511.16 16.14,511.29 16.14,511.29 16,511.28 15,511.29 14,511.43 13,511.69 12,512.03 11,512.35 10,512.65 9,512.92 8,513.16 7,513.37 6,513.54 5,513.68 4,513.81 3,513.92 2,514.01 1,514.07 0,514.1" fill="#f0a855" fill-opacity="0.11"/>
<polygon points="16.14,511.29 17,512.11 18,513.06 19,514.01 20,516.03 21,518.18 22,520.32 23,522.47 24,524.67 25,527.32 26,529.98 27,532.64 28,535.3 29,537.51 30,539.73 31,541.12 32,539.23 33,537.33 34,535.44 35,533.55 36,531.35 36.39,530.38 36.39,530.38 36,530.45 35,530.34 34,529.95 33,529.27 32,528.28 31,526.94 30,525.2 29,523.41 28,521.68 27,520.01 26,518.46 25,517.04 24,515.78 23,514.69 22,513.74 21,512.93 20,512.28 19,511.82 18,511.56 17,511.37 16.14,511.29" fill="#6e6f78" fill-opacity="0.08"/>
<polygon points="36.39,530.38 37,528.86 38,526.37 39,523.88 40,521.39 41,518.9 42,516.92 43,514.94 44,512.95 45,510.97 46,508.99 47,507.33 48,505.98 49,504.64 50,503.3 51,501.95 52,500.61 53,500.12 54,500.9 55,501.69 56,502.48 57,503.27 58,504 59,504.5 60,505 61,505.5 62,506 63,506.5 63.05,506.52 63.05,506.52 63,506.52 62,506.52 61,506.59 60,506.72 59,506.93 58,507.23 57,507.63 56,508.17 55,508.86 54,509.74 53,510.83 52,512.14 51,513.56 50,514.99 49,516.42 48,517.87 47,519.33 46,520.8 45,522.25 44,523.63 43,524.95 42,526.17 41,527.31 40,528.34 39,529.2 38,529.85 37,530.28 36.39,530.38" fill="#f0a855" fill-opacity="0.11"/>
<polygon points="63.05,506.52 64,507 65,507.1 65.96,506.63 65.96,506.63 65,506.63 64,506.57 63.05,506.52" fill="#6e6f78" fill-opacity="0.08"/>
<polygon points="65.96,506.63 66,506.61 67,506.12 68,505.62 69,505.13 70,504.64 71,504.15 72,503.65 73,503.15 74,502.65 75,502.15 76,501.65 77,501.15 78,500.65 79,500.15 80,499.56 81,498.75 82,497.94 83,497.13 84,496.32 85,495.51 86,494.7 87,494.14 88,493.81 89,493.48 90,493.15 91,492.82 92,492.49 93,492.16 94,491.83 95,491.78 96,492.38 97,492.99 98,493.59 99,494.19 99.48,494.48 99.48,494.48 99,494.46 98,494.5 97,494.61 96,494.81 95,495.1 94,495.51 93,495.96 92,496.43 91,496.92 90,497.42 89,497.94 88,498.49 87,499.07 86,499.67 85,500.28 84,500.87 83,501.43 82,501.95 81,502.45 80,502.9 79,503.31 78,503.7 77,504.07 76,504.43 75,504.77 74,505.1 73,505.4 72,505.67 71,505.92 70,506.14 69,506.32 68,506.47 67,506.57 66,506.63 65.96,506.63" fill="#f0a855" fill-opacity="0.11"/>
<polygon points="99.48,494.48 100,494.8 101,495.4 102,496.29 103,497.48 104,498.67 105,499.86 106,501.05 107,502.24 108,503.42 109,504.81 110,506.33 111,507.85 112,509.37 113,510.89 114,512.29 115,513.25 116,514.21 117,515.16 118,516.12 119,517.08 120,518.04 121,519.07 122,520.75 123,522.43 124,524.12 125,525.8 126,528.05 127,530.3 128,532.55 129,534.8 130,537.05 131,535.37 132,532.71 133,530.05 134,527.4 134.54,526.03 134.54,526.03 134,526.1 133,525.94 132,525.44 131,524.54 130,523.21 129,521.51 128,519.88 127,518.33 126,516.86 125,515.48 124,514.22 123,513 122,511.84 121,510.75 120,509.73 119,508.71 118,507.68 117,506.64 116,505.59 115,504.54 114,503.47 113,502.38 112,501.34 111,500.35 110,499.43 109,498.59 108,497.82 107,497.13 106,496.51 105,495.95 104,495.47 103,495.08 102,494.78 101,494.6 100,494.5 99.48,494.48" fill="#6e6f78" fill-opacity="0.08"/>
<polygon points="134.54,526.03 135,524.85 136,522.47 137,520.1 138,517.72 139,515.34 140,512.97 141,510.59 142,508.44 143,506.53 144,504.62 145,502.71 146,500.8 147,498.89 148,496.97 149,496.31 150,496.18 151,496.06 152,495.93 153,495.8 154,495.75 155,495.99 156,496.24 157,496.48 158,496.72 159,496.97 160,497.21 161,497.46 162,497.7 163,498.2 164,498.7 165,499.2 165.04,499.22 165.04,499.22 165,499.22 164,499.22 163,499.28 162,499.42 161,499.63 160,499.89 159,500.22 158,500.62 157,501.1 156,501.67 155,502.33 154,503.11 153,504.02 152,505.03 151,506.14 150,507.38 149,508.76 148,510.28 147,511.92 146,513.52 145,515.08 144,516.6 143,518.07 142,519.48 141,520.84 140,522.1 139,523.22 138,524.19 137,524.98 136,525.58 135,525.96 134.54,526.03" fill="#f0a855" fill-opacity="0.11"/>
<polygon points="165.04,499.22 166,499.7 167,500.2 168,500.7 169,501.08 170,500.97 171,500.86 172,500.75 173,500.64 174,500.53 174.76,500.13 174.76,500.13 174,500.14 173,500.1 172,500.03 171,499.94 170,499.83 169,499.69 168,499.52 167,499.37 166,499.27 165.04,499.22" fill="#6e6f78" fill-opacity="0.08"/>
<polygon points="174.76,500.13 175,500.01 176,499.3 177,498.59 178,497.89 179,497.18 180,496.48 181,495.77 182,495.13 183,494.49 184,493.85 185,493.22 186,492.62 187,492.06 188,491.49 189,490.93 190,490.37 191,490.67 192,491.34 193,492.01 194,492.69 195,493.36 195.21,493.5 195.21,493.5 195,493.49 194,493.5 193,493.6 192,493.8 191,494.1 190,494.52 189,495.03 188,495.53 187,496.03 186,496.52 185,496.99 184,497.46 183,497.9 182,498.32 181,498.71 180,499.07 179,499.39 178,499.66 177,499.88 176,500.04 175,500.13 174.76,500.13" fill="#f0a855" fill-opacity="0.11"/>
<polygon points="195.21,493.5 196,494.03 197,494.67 198,495.29 199,495.91 200,496.53 201,497.14 202,497.68 203,497.44 204,497.2 205,496.97 206,496.73 207,496.49 208,496.32 209,496.19 210,496.06 211,495.93 211.01,495.93 211.01,495.93 211,495.93 210,495.93 209,495.92 208,495.88 207,495.83 206,495.75 205,495.63 204,495.46 203,495.25 202,494.98 201,494.65 200,494.34 199,494.07 198,493.85 197,493.67 196,493.55 195.21,493.5" fill="#6e6f78" fill-opacity="0.08"/>
<polygon points="211.01,495.93 212,495.8 212.82,495.92 212.82,495.92 212,495.92 211.01,495.93" fill="#f0a855" fill-opacity="0.11"/>
<polygon points="212.82,495.92 213,495.95 214,497.18 215,498.42 216,499.66 217,500.89 218,502.13 219,503.68 220,505.36 221,507.04 222,508.73 223,510.6 224,512.6 225,514.6 226,516.6 227,518.22 228,519.45 229,520.69 230,521.93 231,523.16 232,524.4 233,525.66 234,526.92 235,528.18 236,529.44 237,530.7 238,532.06 239,533.5 240,534.94 241,536.38 242,537.81 243,538.9 244,539.9 245,540.9 246,541.03 247,539.86 248,538.69 249,537.52 250,536.59 251,536.2 252,535.82 253,535.44 254,535.06 255,534.68 256,535.32 257,536.21 258,537.1 259,538 260,538.89 261,539.79 262,540.68 263,541.57 264,542.66 265,544.17 266,545.69 267,547.21 268,548.73 269,550.25 270,550.73 271,551.09 272,551.45 273,551.82 274,552.18 275,552.49 276,552.72 277,552.94 278,553.17 279,553.39 280,553.62 281,553.73 282,553.37 283,553.01 284,552.65 285,552.29 286,551.93 287,551.57 287.9,551.24 287.9,551.24 287,551.25 286,551.21 285,551.12 284,550.97 283,550.77 282,550.49 281,550.14 280,549.7 279,549.22 278,548.71 277,548.16 276,547.57 275,546.94 274,546.26 273,545.53 272,544.76 271,543.94 270,543.06 269,542.12 268,541.13 267,540.19 266,539.33 265,538.55 264,537.86 263,537.27 262,536.74 261,536.26 260,535.82 259,535.45 258,535.13 257,534.89 256,534.73 255,534.66 254,534.66 253,534.61 252,534.5 251,534.34 250,534.11 249,533.81 248,533.36 247,532.7 246,531.82 245,530.69 244,529.44 243,528.15 242,526.83 241,525.48 240,524.15 239,522.82 238,521.51 237,520.22 236,518.93 235,517.64 234,516.34 233,515.05 232,513.74 231,512.44 230,511.12 229,509.79 228,508.45 227,507.1 226,505.74 225,504.4 224,503.15 223,501.99 222,500.93 221,499.98 220,499.11 219,498.34 218,497.69 217,497.14 216,496.68 215,496.32 214,496.06 213,495.92 212.82,495.92" fill="#6e6f78" fill-opacity="0.08"/>
<polygon points="287.9,551.24 288,551.21 289,550.57 290,549.81 291,549.06 292,548.3 293,547.55 294,546.79 295,546.03 296,545.28 297,544.4 298,543.4 299,542.4 300,541.4 301,540.4 302,539.4 303,538.4 304,537.4 305,536.4 306,535.4 307,534.4 308,534.59 309,535.57 310,536.55 311,537.53 312,538.52 312.79,539.31 312.79,539.31 312,539.29 311,539.39 310,539.62 309,539.99 308,540.53 307,541.26 306,542.11 305,542.93 304,543.73 303,544.51 302,545.26 301,545.98 300,546.66 299,547.31 298,547.91 297,548.47 296,548.96 295,549.42 294,549.83 293,550.21 292,550.53 291,550.81 290,551.02 289,551.17 288,551.24 287.9,551.24" fill="#f0a855" fill-opacity="0.11"/>
<polygon points="312.79,539.31 313,539.53 314,540.78 315,542.03 316,543.29 317,544.54 318,545.8 319,546.9 320,547.9 321,548.9 322,549.9 323,550.23 324,549.88 325,549.54 326,549.2 327,548.85 328,548.51 329,548.14 330,547.75 331,547.36 332,546.97 332.12,546.92 332.12,546.92 332,546.93 331,546.92 330,546.87 329,546.76 328,546.59 327,546.35 326,546.05 325,545.66 324,545.18 323,544.61 322,543.92 321,543.18 320,542.48 319,541.81 318,541.19 317,540.62 316,540.14 315,539.76 314,539.48 313,539.32 312.79,539.31" fill="#6e6f78" fill-opacity="0.08"/>
<polygon points="332.12,546.92 333,546.57 334,546.13 335,545.57 336,545.01 337,544.45 338,543.88 339,543.32 340,542.76 341,542.2 342,542.41 343,542.62 344,542.82 345,543.03 346,543.24 347,543.45 348,543.65 349,543.84 349.98,543.96 349.98,543.96 349,543.96 348,543.98 347,544.02 346,544.09 345,544.19 344,544.33 343,544.52 342,544.75 341,545.04 340,545.39 339,545.71 338,546 337,546.26 336,546.49 335,546.67 334,546.8 333,546.89 332.12,546.92" fill="#f0a855" fill-opacity="0.11"/>
<polygon points="349.98,543.96 350,543.97 351,544.09 352,544.22 353,544.35 354,544.47 355,544.6 355.37,544.11 355.37,544.11 355,544.14 354,544.09 353,544.04 352,544 351,543.98 350,543.96 349.98,543.96" fill="#6e6f78" fill-opacity="0.08"/>
<polygon points="355.37,544.11 356,543.28 357,541.97 358,540.65 359,539.33 360,538.02 361,536.7 362,535.71 363,534.73 364,533.74 365,532.76 366,531.77 367,530.79 368,529.83 369,529.16 370,528.49 371,527.82 372,527.15 373,526.48 374,525.81 375,525.14 376,524.47 377,523.13 378,521.72 379,520.31 380,518.89 381,517.48 382,516.07 383,514.67 384,513.36 385,512.05 386,510.74 387,509.43 388,508.12 389,506.82 390,505.73 391,505.17 392,504.61 393,504.04 394,503.48 395,503.51 396,504.12 397,504.74 398,505.35 399,505.97 400,506.58 401,507.2 402,507.82 402.43,508.14 402.43,508.14 402,508.12 401,508.15 400,508.27 399,508.48 398,508.78 397,509.2 396,509.75 395,510.44 394,511.3 393,512.26 392,513.26 391,514.33 390,515.45 389,516.64 388,517.85 387,519.05 386,520.23 385,521.39 384,522.54 383,523.66 382,524.77 381,525.84 380,526.86 379,527.84 378,528.76 377,529.63 376,530.43 375,531.16 374,531.9 373,532.65 372,533.4 371,534.17 370,534.95 369,535.74 368,536.55 367,537.37 366,538.18 365,538.97 364,539.73 363,540.47 362,541.17 361,541.84 360,542.47 359,543.02 358,543.48 357,543.82 356,544.05 355.37,544.11" fill="#f0a855" fill-opacity="0.11"/>
<polygon points="402.43,508.14 403,508.57 404,509.38 405,510.2 406,511.01 407,511.82 408,512.64 409,513.45 410,514.03 411,513.67 412,513.32 413,512.96 414,512.61 415,512.25 416,511.9 417,511.54 417.05,511.52 417.05,511.52 417,511.53 416,511.52 415,511.48 414,511.38 413,511.23 412,511.02 411,510.74 410,510.38 409,509.93 408,509.5 407,509.11 406,508.78 405,508.51 404,508.3 403,508.17 402.43,508.14" fill="#6e6f78" fill-opacity="0.08"/>
<polygon points="417.05,511.52 418,511.16 419,510.76 420,510.37 421,509.97 422,509.57 423,509.18 424,508.78 425,507.94 426,506.99 427,506.04 428,505.09 429,505.39 430,506.25 431,507.09 432,507.94 433,507.25 434,505.89 435,504.54 436,503.18 437,502.13 438,501.38 439,500.64 440,499.89 441,499.15 442,498.4 443,497.77 444,497.14 445,496.51 446,495.88 447,495.25 448,495 449,495 450,495 451,495.9 452,497.03 453,498.16 453.14,498.32 453.14,498.32 453,498.3 452,498.32 451,498.48 450,498.79 449,499.26 448,499.78 447,500.37 446,501 445,501.62 444,502.25 443,502.88 442,503.51 441,504.13 440,504.75 439,505.34 438,505.92 437,506.48 436,507.01 435,507.48 434,507.85 433,508.08 432,508.19 431,508.22 430,508.35 429,508.61 428,509.01 427,509.49 426,509.92 425,510.27 424,510.56 423,510.78 422,510.98 421,511.15 420,511.29 419,511.41 418,511.49 417.05,511.52" fill="#f0a855" fill-opacity="0.11"/>
<polygon points="453.14,498.32 454,499.29 455,500.42 456,501.58 457,502.78 458,503.99 459,505.19 460,506.39 461,507.6 462,508.8 463,509.99 464,511.16 465,512.33 466,513.51 467,514.68 468,515.85 469,517.03 470,518.2 471,520.25 472,522.31 473,524.36 474,526.42 475,528.47 476,529.77 477,530.31 478,530.85 479,531.39 480,531.93 481,531.41 482,529.83 483,528.25 484,526.66 485,525.08 485.01,525.07 485.01,525.07 485,525.07 484,525.07 483,524.87 482,524.46 481,523.8 480,522.86 479,521.75 478,520.56 477,519.3 476,517.95 475,516.5 474,515.03 473,513.63 472,512.31 471,511.08 470,509.96 469,508.95 468,507.96 467,506.99 466,506.04 465,505.12 464,504.24 463,503.39 462,502.58 461,501.82 460,501.11 459,500.46 458,499.88 457,499.37 456,498.95 455,498.63 454,498.41 453.14,498.32" fill="#6e6f78" fill-opacity="0.08"/>
<polygon points="485.01,525.07 486,523.5 487,521.9 488,520.3 489,518.7 490,517.1 491,515.5 492,513.9 493,512.3 494,512.03 495,513.1 496,514.17 497,515.23 498,516.3 499,517.37 499.24,517.63 499.24,517.63 499,517.6 498,517.63 497,517.8 496,518.11 495,518.6 494,519.27 493,520.16 492,521.12 491,522.01 490,522.81 489,523.51 488,524.1 487,524.57 486,524.9 485.01,525.07" fill="#f0a855" fill-opacity="0.11"/>
<polygon points="499.24,517.63 500,518.43 501,519.5 502,520.54 503,521.58 504,522.62 505,523.67 506,524.19 507,522.62 508,521.06 508.46,520.34 508.46,520.34 508,520.39 507,520.31 506,520.02 505,519.51 504,519 503,518.55 502,518.18 501,517.89 500,517.69 499.24,517.63" fill="#6e6f78" fill-opacity="0.08"/>
<polygon points="508.46,520.34 509,519.49 510,517.93 511,516.36 512,514.8 513,513.2 514,511.59 515,509.99 516,508.39 517,506.79 518,505.18 519,503.66 520,502.45 521,501.25 522,500.04 523,498.84 524,497.63 525,496.42 526,495.38 527,494.59 528,493.8 529,493.01 530,492.22 531,491.43 532,490.95 533,491.72 534,492.48 535,493.25 536,494.02 537,494.78 538,495.55 538.9,496.23 538.9,496.23 538,496.22 537,496.31 536,496.49 535,496.8 534,497.24 533,497.82 532,498.57 531,499.5 530,500.49 529,501.51 528,502.55 527,503.63 526,504.73 525,505.88 524,507.04 523,508.2 522,509.35 521,510.49 520,511.63 519,512.75 518,513.87 517,514.94 516,515.94 515,516.86 514,517.71 513,518.46 512,519.1 511,519.63 510,520.03 509,520.29 508.46,520.34" fill="#f0a855" fill-opacity="0.11"/>
<polygon points="538.9,496.23 539,496.31 540,497.07 541,497.84 542,498.6 543,499.36 544,500.13 545,500.89 546,501.65 547,502.42 548,502.64 549,502.31 550,501.99 551,501.67 552,501.34 553,501.02 554,500.69 555,500.47 556,500.38 557,500.3 557.25,500.27 557.25,500.27 557,500.28 556,500.27 555,500.26 554,500.23 553,500.18 552,500.08 551,499.92 550,499.71 549,499.42 548,499.07 547,498.63 546,498.17 545,497.74 544,497.35 543,497.01 542,496.72 541,496.49 540,496.33 539,496.23 538.9,496.23" fill="#6e6f78" fill-opacity="0.08"/>
<polygon points="557.25,500.27 558,500.21 559,500.12 560,500.04 561,499.95 562,499.87 563,499.73 564,499.39 565,499.05 566,498.71 567,498.37 568,498.02 569,497.68 570,497.34 571,497 572,496.76 573,496.51 574,496.27 575,496.02 576,495.78 577,495.54 578,495.29 579,495.05 580,496.29 580.4,496.94 580.4,496.94 580,496.9 579,496.97 578,497.21 577,497.45 576,497.68 575,497.91 574,498.15 573,498.38 572,498.61 571,498.83 570,499.06 569,499.27 568,499.46 567,499.64 566,499.79 565,499.93 564,500.04 563,500.12 562,500.16 561,500.2 560,500.23 559,500.25 558,500.27 557.25,500.27" fill="#f0a855" fill-opacity="0.11"/>
<polygon points="580.4,496.94 581,497.91 582,499.53 583,501.15 584,502.77 585,504.57 586,506.81 587,509.04 588,511.28 589,513.52 590,515.75 591,517.99 592,520.23 593,522.48 594,524.72 595,526.96 596,529.2 597,527.18 598,525.16 599,523.14 600,521.12 601,519.1 601.8,518.06 601.8,518.06 601,518.09 600,517.96 599,517.58 598,516.89 597,515.88 596,514.49 595,512.68 594,510.93 593,509.24 592,507.61 591,506.06 590,504.6 589,503.23 588,501.96 587,500.82 586,499.81 585,498.95 584,498.26 583,497.71 582,497.29 581,497.01 580.4,496.94" fill="#6e6f78" fill-opacity="0.08"/>
<polygon points="601.8,518.06 602,517.8 603,516.57 604,515.34 605,514.11 606,513.06 607,512.17 608,511.28 609,510.39 610,509.5 611,508.66 612,508.28 613,507.9 614,507.52 615,507.13 616,506.75 617,506.11 618,505.31 619,504.5 620,503.69 621,502.88 622,502.07 623,501.26 624,501.37 625,501.7 626,502.03 627,502.37 628,503.27 629,504.54 629.18,504.77 629.18,504.77 629,504.75 628,504.77 627,504.96 626,505.28 625,505.68 624,506.16 623,506.75 622,507.43 621,508.09 620,508.72 619,509.34 618,509.94 617,510.51 616,511.05 615,511.57 614,512.12 613,512.68 612,513.27 611,513.88 610,514.52 609,515.14 608,515.72 607,516.27 606,516.77 605,517.23 604,517.61 603,517.89 602,518.06 601.8,518.06" fill="#f0a855" fill-opacity="0.11"/>
<polygon points="629.18,504.77 630,505.82 631,507.1 632,508.38 633,509.64 634,510.83 635,512.01 636,513.2 637,514.39 638,515.58 639,516.77 640,517.9 641,518.9 642,519.9 643,520.9 644,521.9 645,522.9 646,524.57 647,526.32 648,528.06 649,529.81 650,531.55 651,534.1 652,537.86 653,541.62 654,544.05 655,545.16 656,546.27 657,545.02 658,542.75 659,540.49 660,538.23 661,535.97 661.29,535.31 661.29,535.31 661,535.36 660,535.29 659,534.93 658,534.24 657,533.2 656,531.75 655,529.96 654,528.1 653,526.14 652,524.24 651,522.56 650,521.15 649,519.87 648,518.65 647,517.49 646,516.41 645,515.41 644,514.49 643,513.58 642,512.68 641,511.8 640,510.92 639,510.07 638,509.24 637,508.47 636,507.74 635,507.07 634,506.46 633,505.92 632,505.47 631,505.11 630,504.87 629.18,504.77" fill="#6e6f78" fill-opacity="0.08"/>
<polygon points="661.29,535.31 662,533.7 663,531.44 664,529.18 665,527.23 666,525.42 667,523.62 668,521.81 669,520 670,518.19 671,516.38 672,515.25 673,514.2 674,513.15 675,512.1 676,511.05 677,510 678,508.95 679,508.06 680,508.62 681,509.18 682,509.74 683,510.31 684,510.89 685,511.52 686,512.15 687,512.78 688,513.41 688.11,513.48 688.11,513.48 688,513.47 687,513.48 686,513.57 685,513.74 684,514.01 683,514.4 682,514.9 681,515.53 680,516.31 679,517.26 678,518.39 677,519.54 676,520.72 675,521.9 674,523.11 673,524.33 672,525.57 671,526.84 670,528.12 669,529.34 668,530.49 667,531.56 666,532.53 665,533.4 664,534.16 663,534.77 662,535.18 661.29,535.31" fill="#f0a855" fill-opacity="0.11"/>
<polygon points="688.11,513.48 689,514.04 690,514.77 691,515.52 692,516.26 693,517.01 694,517.75 695,518.16 696,518.05 697,517.94 698,517.83 699,517.72 700,517.61 701,517.6 702,517.6 703,517.6 704,517.6 705,517.6 706,517.6 707,517.6 708,517.6 709,517.6 710,517.6 711,517.6 712,517.71 713,517.82 714,517.93 715,518.04 716,518.15 717,518.76 718,519.89 719,521.02 720,522.15 721,523.27 722,524.4 723,526.42 724,528.44 725,530.46 726,532.47 727,534.49 728,536.05 729,537.31 730,538.56 731,539.82 732,541.07 733,542.31 734,543.38 735,544.45 736,545.52 737,546.59 738,545.92 739,544.81 740,543.71 741,542.6 742,541.5 743,540.39 743.48,539.85 743.48,539.85 743,539.88 742,539.82 741,539.61 740,539.24 739,538.69 738,537.94 737,536.96 736,535.78 735,534.59 734,533.38 733,532.15 732,530.9 731,529.65 730,528.4 729,527.16 728,525.91 727,524.67 726,523.46 725,522.35 724,521.36 723,520.49 722,519.76 721,519.19 720,518.69 719,518.27 718,517.93 717,517.69 716,517.56 715,517.48 714,517.42 713,517.35 712,517.3 711,517.24 710,517.2 709,517.15 708,517.1 707,517.04 706,516.97 705,516.89 704,516.8 703,516.7 702,516.59 701,516.47 700,516.33 699,516.17 698,515.98 697,515.76 696,515.49 695,515.17 694,514.81 693,514.45 692,514.13 691,513.87 690,513.67 689,513.53 688.11,513.48" fill="#6e6f78" fill-opacity="0.08"/>
<polygon points="743.48,539.85 744,539.26 745,537.81 746,536.36 747,534.91 748,533.47 749,531.95 750,530.33 751,528.71 752,527.1 752.8,525.8 752.8,533.89 752,534.89 751,535.85 750,536.72 749,537.5 748,538.19 747,538.77 746,539.24 745,539.59 744,539.81 743.48,539.85" fill="#f0a855" fill-opacity="0.11"/>
<polygon points="0,514.1 1,513.81 2,513.51 3,513.22 4,512.92 5,512.63 6,512.34 7,512 8,511.48 9,510.97 10,510.45 11,509.94 12,509.42 13,508.91 14,509.27 15,510.22 16,511.16 16.32,511.47 16.32,511.47 16,511.45 15,511.48 14,511.61 13,511.87 12,512.19 11,512.49 10,512.77 9,513.02 8,513.24 7,513.43 6,513.59 5,513.72 4,513.84 3,513.94 2,514.02 1,514.07 0,514.1" fill="#f0a855" fill-opacity="0.11"/>
<polygon points="36.75,529.49 37,528.86 38,526.37 39,523.88 40,521.39 41,518.9 42,516.92 43,514.94 44,512.95 45,510.97 46,508.99 47,507.33 48,505.98 49,504.64 50,503.3 51,501.95 52,500.61 53,500.12 54,500.9 55,501.69 56,502.48 57,503.27 58,504 59,504.5 60,505 61,505.5 62,506 63,506.5 64,507 64.96,507.1 64.96,507.1 64,507.1 63,507.11 62,507.17 61,507.3 60,507.5 59,507.77 58,508.12 57,508.57 56,509.14 55,509.87 54,510.75 53,511.82 52,513.09 51,514.44 50,515.8 49,517.15 48,518.51 47,519.86 46,521.22 45,522.55 44,523.8 43,524.98 42,526.07 41,527.06 40,527.94 39,528.65 38,529.17 37,529.47 36.75,529.49" fill="#f0a855" fill-opacity="0.11"/>
<polygon points="65.01,507.1 66,506.61 67,506.12 68,505.62 69,505.13 70,504.64 71,504.15 72,503.65 73,503.15 74,502.65 75,502.15 76,501.65 77,501.15 78,500.65 79,500.15 80,499.56 81,498.75 82,497.94 83,497.13 84,496.32 85,495.51 86,494.7 87,494.14 88,493.81 89,493.48 90,493.15 91,492.82 92,492.49 93,492.16 94,491.83 95,491.78 96,492.38 97,492.99 98,493.59 99,494.19 100,494.8 100.09,494.85 100.09,494.85 100,494.85 99,494.85 98,494.92 97,495.07 96,495.29 95,495.61 94,496.02 93,496.48 92,496.95 91,497.43 90,497.93 89,498.45 88,498.99 87,499.55 86,500.14 85,500.72 84,501.29 83,501.83 82,502.34 81,502.81 80,503.25 79,503.65 78,504.03 77,504.4 76,504.75 75,505.09 74,505.41 73,505.71 72,505.99 71,506.24 70,506.47 69,506.66 68,506.83 67,506.96 66,507.05 65.01,507.1" fill="#f0a855" fill-opacity="0.11"/>
<polygon points="134.94,525 135,524.85 136,522.47 137,520.1 138,517.72 139,515.34 140,512.97 141,510.59 142,508.44 143,506.53 144,504.62 145,502.71 146,500.8 147,498.89 148,496.97 149,496.31 150,496.18 151,496.06 152,495.93 153,495.8 154,495.75 155,495.99 156,496.24 157,496.48 158,496.72 159,496.97 160,497.21 161,497.46 162,497.7 163,498.2 164,498.7 165,499.2 166,499.7 166.1,499.75 166.1,499.75 166,499.74 165,499.75 164,499.81 163,499.93 162,500.12 161,500.38 160,500.69 159,501.07 158,501.52 157,502.04 156,502.64 155,503.33 154,504.13 153,505.04 152,506.04 151,507.13 150,508.33 149,509.65 148,511.1 147,512.63 146,514.12 145,515.56 144,516.95 143,518.29 142,519.56 141,520.77 140,521.87 139,522.84 138,523.65 137,524.29 136,524.75 135,525 134.94,525" fill="#f0a855" fill-opacity="0.11"/>
<polygon points="174.49,500.28 175,500.01 176,499.3 177,498.59 178,497.89 179,497.18 180,496.48 181,495.77 182,495.13 183,494.49 184,493.85 185,493.22 186,492.62 187,492.06 188,491.49 189,490.93 190,490.37 191,490.67 192,491.34 193,492.01 194,492.69 195,493.36 195.68,493.82 195.68,493.82 195,493.8 194,493.85 193,493.97 192,494.19 191,494.49 190,494.91 189,495.4 188,495.88 187,496.36 186,496.83 185,497.28 184,497.72 183,498.14 182,498.54 181,498.91 180,499.25 179,499.55 178,499.81 177,500.01 176,500.17 175,500.26 174.49,500.28" fill="#f0a855" fill-opacity="0.11"/>
<polygon points="211.38,495.88 212,495.8 212.55,495.88 212.55,495.88 212,495.88 211.38,495.88" fill="#f0a855" fill-opacity="0.11"/>
<polygon points="288.6,550.82 289,550.57 290,549.81 291,549.06 292,548.3 293,547.55 294,546.79 295,546.03 296,545.28 297,544.4 298,543.4 299,542.4 300,541.4 301,540.4 302,539.4 303,538.4 304,537.4 305,536.4 306,535.4 307,534.4 308,534.59 309,535.57 310,536.55 311,537.53 312,538.52 313,539.53 313.19,539.77 313.19,539.77 313,539.75 312,539.77 311,539.91 310,540.17 309,540.56 308,541.1 307,541.8 306,542.61 305,543.39 304,544.15 303,544.88 302,545.58 301,546.25 300,546.88 299,547.48 298,548.03 297,548.53 296,548.98 295,549.38 294,549.74 293,550.06 292,550.33 291,550.55 290,550.72 289,550.81 288.6,550.82" fill="#f0a855" fill-opacity="0.11"/>
<polygon points="332.72,546.68 333,546.57 334,546.13 335,545.57 336,545.01 337,544.45 338,543.88 339,543.32 340,542.76 341,542.2 342,542.41 343,542.62 344,542.82 345,543.03 346,543.24 347,543.45 348,543.65 349,543.84 350,543.97 350.68,544.05 350.68,544.05 350,544.05 349,544.06 348,544.08 347,544.13 346,544.2 345,544.31 344,544.44 343,544.62 342,544.84 341,545.1 340,545.42 339,545.7 338,545.96 337,546.19 336,546.37 335,546.52 334,546.63 333,546.68 332.72,546.68" fill="#f0a855" fill-opacity="0.11"/>
<polygon points="355.34,544.15 356,543.28 357,541.97 358,540.65 359,539.33 360,538.02 361,536.7 362,535.71 363,534.73 364,533.74 365,532.76 366,531.77 367,530.79 368,529.83 369,529.16 370,528.49 371,527.82 372,527.15 373,526.48 374,525.81 375,525.14 376,524.47 377,523.13 378,521.72 379,520.31 380,518.89 381,517.48 382,516.07 383,514.67 384,513.36 385,512.05 386,510.74 387,509.43 388,508.12 389,506.82 390,505.73 391,505.17 392,504.61 393,504.04 394,503.48 395,503.51 396,504.12 397,504.74 398,505.35 399,505.97 400,506.58 401,507.2 402,507.82 403,508.57 403.28,508.79 403.28,508.79 403,508.78 402,508.8 401,508.91 400,509.09 399,509.36 398,509.73 397,510.21 396,510.8 395,511.52 394,512.39 393,513.36 392,514.37 391,515.42 390,516.54 389,517.71 388,518.89 387,520.05 386,521.21 385,522.34 384,523.45 383,524.55 382,525.62 381,526.66 380,527.65 379,528.6 378,529.5 377,530.34 376,531.12 375,531.84 374,532.57 373,533.3 372,534.04 371,534.79 370,535.55 369,536.31 368,537.08 367,537.87 366,538.64 365,539.38 364,540.1 363,540.79 362,541.45 361,542.07 360,542.65 359,543.15 358,543.57 357,543.88 356,544.09 355.34,544.15" fill="#f0a855" fill-opacity="0.11"/>
<polygon points="417.11,511.5 418,511.16 419,510.76 420,510.37 421,509.97 422,509.57 423,509.18 424,508.78 425,507.94 426,506.99 427,506.04 428,505.09 429,505.39 430,506.25 431,507.09 432,507.94 433,507.25 434,505.89 435,504.54 436,503.18 437,502.13 438,501.38 439,500.64 440,499.89 441,499.15 442,498.4 443,497.77 444,497.14 445,496.51 446,495.88 447,495.25 448,495 449,495 450,495 451,495.9 452,497.03 453,498.16 453.54,498.77 453.54,498.77 453,498.74 452,498.8 451,498.99 450,499.33 449,499.8 448,500.32 447,500.9 446,501.51 445,502.12 444,502.72 443,503.33 442,503.93 441,504.53 440,505.12 439,505.68 438,506.23 437,506.75 436,507.26 435,507.7 434,508.04 433,508.27 432,508.38 431,508.43 430,508.58 429,508.83 428,509.2 427,509.65 426,510.04 425,510.37 424,510.63 423,510.83 422,511.01 421,511.17 420,511.3 419,511.4 418,511.47 417.11,511.5" fill="#f0a855" fill-opacity="0.11"/>
<polygon points="485.57,524.19 486,523.5 487,521.9 488,520.3 489,518.7 490,517.1 491,515.5 492,513.9 493,512.3 494,512.03 495,513.1 496,514.17 497,515.23 498,516.3 499,517.37 499.44,517.84 499.44,517.84 499,517.81 498,517.86 497,518.03 496,518.33 495,518.78 494,519.4 493,520.2 492,521.05 491,521.83 490,522.52 489,523.1 488,523.58 487,523.94 486,524.16 485.57,524.19" fill="#f0a855" fill-opacity="0.11"/>
<polygon points="508.53,520.22 509,519.49 510,517.93 511,516.36 512,514.8 513,513.2 514,511.59 515,509.99 516,508.39 517,506.79 518,505.18 519,503.66 520,502.45 521,501.25 522,500.04 523,498.84 524,497.63 525,496.42 526,495.38 527,494.59 528,493.8 529,493.01 530,492.22 531,491.43 532,490.95 533,491.72 534,492.48 535,493.25 536,494.02 537,494.78 538,495.55 539,496.31 539.76,496.89 539.76,496.89 539,496.87 538,496.93 537,497.08 536,497.33 535,497.69 534,498.18 533,498.79 532,499.56 531,500.49 530,501.47 529,502.48 528,503.5 527,504.55 526,505.63 525,506.75 524,507.86 523,508.97 522,510.07 521,511.16 520,512.23 519,513.29 518,514.34 517,515.33 516,516.26 515,517.11 514,517.88 513,518.56 512,519.15 511,519.62 510,519.97 509,520.19 508.53,520.22" fill="#f0a855" fill-opacity="0.11"/>
<polygon points="557.91,500.22 558,500.21 559,500.12 560,500.04 561,499.95 562,499.87 563,499.73 564,499.39 565,499.05 566,498.71 567,498.37 568,498.02 569,497.68 570,497.34 571,497 572,496.76 573,496.51 574,496.27 575,496.02 576,495.78 577,495.54 578,495.29 579,495.05 580,496.29 580.51,497.12 580.51,497.12 580,497.07 579,497.16 578,497.39 577,497.61 576,497.84 575,498.06 574,498.28 573,498.5 572,498.72 571,498.93 570,499.14 569,499.33 568,499.51 567,499.67 566,499.81 565,499.93 564,500.03 563,500.1 562,500.14 561,500.17 560,500.19 559,500.21 558,500.22 557.91,500.22" fill="#f0a855" fill-opacity="0.11"/>
<polygon points="602.52,517.16 603,516.57 604,515.34 605,514.11 606,513.06 607,512.17 608,511.28 609,510.39 610,509.5 611,508.66 612,508.28 613,507.9 614,507.52 615,507.13 616,506.75 617,506.11 618,505.31 619,504.5 620,503.69 621,502.88 622,502.07 623,501.26 624,501.37 625,501.7 626,502.03 627,502.37 628,503.27 629,504.54 629.5,505.18 629.5,505.18 629,505.15 628,505.21 627,505.42 626,505.76 625,506.16 624,506.64 623,507.21 622,507.86 621,508.49 620,509.09 619,509.68 618,510.24 617,510.78 616,511.28 615,511.77 614,512.28 613,512.79 612,513.32 611,513.87 610,514.43 609,514.97 608,515.46 607,515.92 606,516.32 605,516.68 604,516.96 603,517.13 602.52,517.16" fill="#f0a855" fill-opacity="0.11"/>
<polygon points="661.77,534.23 662,533.7 663,531.44 664,529.18 665,527.23 666,525.42 667,523.62 668,521.81 669,520 670,518.19 671,516.38 672,515.25 673,514.2 674,513.15 675,512.1 676,511.05 677,510 678,508.95 679,508.06 680,508.62 681,509.18 682,509.74 683,510.31 684,510.89 685,511.52 686,512.15 687,512.78 688,513.41 688.99,514.03 688.99,514.03 688,514.03 687,514.09 686,514.24 685,514.46 684,514.78 683,515.21 682,515.74 681,516.39 680,517.17 679,518.09 678,519.18 677,520.29 676,521.41 675,522.53 674,523.66 673,524.8 672,525.95 671,527.11 670,528.27 669,529.36 668,530.38 667,531.31 666,532.14 665,532.87 664,533.48 663,533.94 662,534.21 661.77,534.23" fill="#f0a855" fill-opacity="0.11"/>
<polygon points="744.11,539.1 745,537.81 746,536.36 747,534.91 748,533.47 749,531.95 750,530.33 751,528.71 752,527.1 752.8,525.8 752.8,534.09 752,534.99 751,535.84 750,536.62 749,537.3 748,537.88 747,538.35 746,538.73 745,538.98 744.11,539.1" fill="#f0a855" fill-opacity="0.11"/>
<polygon points="-2,514.1 -1,514.1 0,514.1 0,514.1 0,514.1 0,514.1 -1,514.1 -2,514.1" fill="#6e6f78" fill-opacity="0.08"/>
<polygon points="0,514.1 1,513.81 2,513.51 3,513.22 4,512.92 5,512.63 6,512.34 7,512 8,511.48 9,510.97 10,510.45 11,509.94 12,509.42 13,508.91 14,509.27 15,510.22 16,511.16 16.48,511.62 16.48,511.62 16,511.6 15,511.64 14,511.78 13,512.02 12,512.32 11,512.61 10,512.87 9,513.1 8,513.31 7,513.48 6,513.63 5,513.75 4,513.86 3,513.95 2,514.02 1,514.07 0,514.1" fill="#f0a855" fill-opacity="0.11"/>
<polygon points="16.48,511.62 17,512.11 18,513.06 19,514.01 20,516.03 21,518.18 22,520.32 23,522.47 24,524.67 25,527.32 26,529.98 27,532.64 28,535.3 29,537.51 30,539.73 31,541.12 32,539.23 33,537.33 34,535.44 35,533.55 36,531.35 37,528.86 37.07,528.69 37.07,528.69 37,528.71 36,528.69 35,528.44 34,527.94 33,527.21 32,526.23 31,524.97 30,523.4 29,521.82 28,520.29 27,518.84 26,517.5 25,516.29 24,515.21 23,514.3 22,513.5 21,512.84 20,512.33 19,511.97 18,511.77 17,511.64 16.48,511.62" fill="#6e6f78" fill-opacity="0.08"/>
<polygon points="37.07,528.69 38,526.37 39,523.88 40,521.39 41,518.9 42,516.92 43,514.94 44,512.95 45,510.97 46,508.99 47,507.33 48,505.98 49,504.64 50,503.3 51,501.95 52,500.61 53,500.12 54,500.9 55,501.69 56,502.48 57,503.27 58,504 59,504.5 60,505 61,505.5 62,506 63,506.5 64,507 65,507.1 66,506.61 67,506.12 68,505.62 69,505.13 70,504.64 71,504.15 72,503.65 73,503.15 74,502.65 75,502.15 76,501.65 77,501.15 78,500.65 79,500.15 80,499.56 81,498.75 82,497.94 83,497.13 84,496.32 85,495.51 86,494.7 87,494.14 88,493.81 89,493.48 90,493.15 91,492.82 92,492.49 93,492.16 94,491.83 95,491.78 96,492.38 97,492.99 98,493.59 99,494.19 100,494.8 100.71,495.23 100.71,495.23 100,495.21 99,495.25 98,495.36 97,495.53 96,495.78 95,496.1 94,496.52 93,496.98 92,497.45 91,497.93 90,498.42 89,498.94 88,499.47 87,500.02 86,500.59 85,501.16 84,501.7 83,502.23 82,502.72 81,503.18 80,503.62 79,504.01 78,504.38 77,504.75 76,505.09 75,505.43 74,505.75 73,506.05 72,506.33 71,506.59 70,506.83 69,507.04 68,507.22 67,507.38 66,507.5 65,507.59 64,507.63 63,507.69 62,507.81 61,507.99 60,508.23 59,508.54 58,508.93 57,509.41 56,510.01 55,510.74 54,511.61 53,512.65 52,513.87 51,515.16 50,516.44 49,517.71 48,518.98 47,520.24 46,521.5 45,522.71 44,523.85 43,524.9 42,525.87 41,526.74 40,527.5 39,528.09 38,528.5 37.07,528.69" fill="#f0a855" fill-opacity="0.11"/>
<polygon points="100.71,495.23 101,495.4 102,496.29 103,497.48 104,498.67 105,499.86 106,501.05 107,502.24 108,503.42 109,504.81 110,506.33 111,507.85 112,509.37 113,510.89 114,512.29 115,513.25 116,514.21 117,515.16 118,516.12 119,517.08 120,518.04 121,519.07 122,520.75 123,522.43 124,524.12 125,525.8 126,528.05 127,530.3 128,532.55 129,534.8 130,537.05 131,535.37 132,532.71 133,530.05 134,527.4 135,524.85 135.36,523.99 135.36,523.99 135,524.04 134,523.96 133,523.63 132,523.01 131,522.06 130,520.77 129,519.19 128,517.68 127,516.24 126,514.87 125,513.59 124,512.41 123,511.27 122,510.19 121,509.16 120,508.2 119,507.25 118,506.29 117,505.34 116,504.39 115,503.44 114,502.48 113,501.53 112,500.62 111,499.78 110,498.99 109,498.28 108,497.65 107,497.09 106,496.59 105,496.15 104,495.79 103,495.52 102,495.32 101,495.23 100.71,495.23" fill="#6e6f78" fill-opacity="0.08"/>
<polygon points="135.36,523.99 136,522.47 137,520.1 138,517.72 139,515.34 140,512.97 141,510.59 142,508.44 143,506.53 144,504.62 145,502.71 146,500.8 147,498.89 148,496.97 149,496.31 150,496.18 151,496.06 152,495.93 153,495.8 154,495.75 155,495.99 156,496.24 157,496.48 158,496.72 159,496.97 160,497.21 161,497.46 162,497.7 163,498.2 164,498.7 165,499.2 166,499.7 167,500.2 167.08,500.24 167.08,500.24 167,500.24 166,500.24 165,500.3 164,500.4 163,500.57 162,500.8 161,501.1 160,501.45 159,501.86 158,502.34 157,502.88 156,503.5 155,504.21 154,505 153,505.9 152,506.88 151,507.94 150,509.1 149,510.35 148,511.71 147,513.14 146,514.53 145,515.86 144,517.13 143,518.35 142,519.49 141,520.57 140,521.54 139,522.37 138,523.05 137,523.57 136,523.9 135.36,523.99" fill="#f0a855" fill-opacity="0.11"/>
<polygon points="167.08,500.24 168,500.7 169,501.08 170,500.97 171,500.86 172,500.75 173,500.64 174,500.53 174.09,500.49 174.09,500.49 174,500.49 173,500.49 172,500.47 171,500.45 170,500.41 169,500.35 168,500.28 167.08,500.24" fill="#6e6f78" fill-opacity="0.08"/>
<polygon points="174.09,500.49 175,500.01 176,499.3 177,498.59 178,497.89 179,497.18 180,496.48 181,495.77 182,495.13 183,494.49 184,493.85 185,493.22 186,492.62 187,492.06 188,491.49 189,490.93 190,490.37 191,490.67 192,491.34 193,492.01 194,492.69 195,493.36 196,494.03 196.13,494.11 196.13,494.11 196,494.11 195,494.12 194,494.19 193,494.33 192,494.56 191,494.87 190,495.28 189,495.76 188,496.22 187,496.68 186,497.13 185,497.57 184,497.99 183,498.39 182,498.77 181,499.13 180,499.45 179,499.74 178,499.99 177,500.19 176,500.35 175,500.45 174.09,500.49" fill="#f0a855" fill-opacity="0.11"/>
<polygon points="196.13,494.11 197,494.67 198,495.29 199,495.91 200,496.53 201,497.14 202,497.68 203,497.44 204,497.2 205,496.97 206,496.73 207,496.49 208,496.32 209,496.19 210,496.06 211,495.93 211.53,495.86 211.53,495.86 211,495.87 210,495.86 209,495.84 208,495.81 207,495.76 206,495.69 205,495.58 204,495.45 203,495.28 202,495.07 201,494.82 200,494.59 199,494.4 198,494.26 197,494.16 196.13,494.11" fill="#6e6f78" fill-opacity="0.08"/>
<polygon points="211.53,495.86 212,495.8 212.43,495.86 212.43,495.86 212,495.86 211.53,495.86" fill="#f0a855" fill-opacity="0.11"/>
<polygon points="212.43,495.86 213,495.95 214,497.18 215,498.42 216,499.66 217,500.89 218,502.13 219,503.68 220,505.36 221,507.04 222,508.73 223,510.6 224,512.6 225,514.6 226,516.6 227,518.22 228,519.45 229,520.69 230,521.93 231,523.16 232,524.4 233,525.66 234,526.92 235,528.18 236,529.44 237,530.7 238,532.06 239,533.5 240,534.94 241,536.38 242,537.81 243,538.9 244,539.9 245,540.9 246,541.03 247,539.86 248,538.69 249,537.52 250,536.59 251,536.2 252,535.82 253,535.44 254,535.06 255,534.68 256,535.32 257,536.21 258,537.1 259,538 260,538.89 261,539.79 262,540.68 263,541.57 264,542.66 265,544.17 266,545.69 267,547.21 268,548.73 269,550.25 270,550.73 271,551.09 272,551.45 273,551.82 274,552.18 275,552.49 276,552.72 277,552.94 278,553.17 279,553.39 280,553.62 281,553.73 282,553.37 283,553.01 284,552.65 285,552.29 286,551.93 287,551.57 288,551.21 289,550.57 289.23,550.4 289.23,550.4 289,550.41 288,550.39 287,550.31 286,550.19 285,550.02 284,549.8 283,549.53 282,549.19 281,548.79 280,548.31 279,547.79 278,547.25 277,546.67 276,546.07 275,545.42 274,544.73 273,544.01 272,543.25 271,542.46 270,541.62 269,540.74 268,539.81 267,538.95 266,538.15 265,537.41 264,536.76 263,536.19 262,535.66 261,535.18 260,534.73 259,534.33 258,533.97 257,533.67 256,533.42 255,533.23 254,533.09 253,532.9 252,532.66 251,532.35 250,531.98 249,531.53 248,530.95 247,530.2 246,529.26 245,528.12 244,526.88 243,525.61 242,524.33 241,523.02 240,521.72 239,520.44 238,519.17 237,517.92 236,516.68 235,515.44 234,514.21 233,512.97 232,511.74 231,510.52 230,509.29 229,508.06 228,506.84 227,505.61 226,504.39 225,503.2 224,502.1 223,501.08 222,500.16 221,499.32 220,498.57 219,497.92 218,497.36 217,496.89 216,496.51 215,496.2 214,495.99 213,495.87 212.43,495.86" fill="#6e6f78" fill-opacity="0.08"/>
<polygon points="289.23,550.4 290,549.81 291,549.06 292,548.3 293,547.55 294,546.79 295,546.03 296,545.28 297,544.4 298,543.4 299,542.4 300,541.4 301,540.4 302,539.4 303,538.4 304,537.4 305,536.4 306,535.4 307,534.4 308,534.59 309,535.57 310,536.55 311,537.53 312,538.52 313,539.53 313.52,540.18 313.52,540.18 313,540.15 312,540.21 311,540.37 310,540.65 309,541.04 308,541.57 307,542.25 306,543.01 305,543.75 304,544.47 303,545.15 302,545.81 301,546.43 300,547.01 299,547.56 298,548.06 297,548.51 296,548.91 295,549.26 294,549.58 293,549.85 292,550.07 291,550.24 290,550.36 289.23,550.4" fill="#f0a855" fill-opacity="0.11"/>
<polygon points="313.52,540.18 314,540.78 315,542.03 316,543.29 317,544.54 318,545.8 319,546.9 320,547.9 321,548.9 322,549.9 323,550.23 324,549.88 325,549.54 326,549.2 327,548.85 328,548.51 329,548.14 330,547.75 331,547.36 332,546.97 333,546.57 333.21,546.48 333.21,546.48 333,546.49 332,546.48 331,546.43 330,546.34 329,546.21 328,546.02 327,545.78 326,545.48 325,545.12 324,544.69 323,544.19 322,543.6 321,542.99 320,542.42 319,541.88 318,541.4 317,540.97 316,540.62 315,540.36 314,540.2 313.52,540.18" fill="#6e6f78" fill-opacity="0.08"/>
<polygon points="333.21,546.48 334,546.13 335,545.57 336,545.01 337,544.45 338,543.88 339,543.32 340,542.76 341,542.2 342,542.41 343,542.62 344,542.82 345,543.03 346,543.24 347,543.45 348,543.65 349,543.84 350,543.97 351,544.09 351.23,544.12 351.23,544.12 351,544.12 350,544.12 349,544.14 348,544.17 347,544.22 346,544.29 345,544.39 344,544.52 343,544.69 342,544.89 341,545.13 340,545.42 339,545.67 338,545.9 337,546.1 336,546.26 335,546.38 334,546.46 333.21,546.48" fill="#f0a855" fill-opacity="0.11"/>
<polygon points="351.23,544.12 352,544.22 353,544.35 354,544.47 355,544.6 355.31,544.19 355.31,544.19 355,544.21 354,544.18 353,544.15 352,544.13 351.23,544.12" fill="#6e6f78" fill-opacity="0.08"/>
<polygon points="355.31,544.19 356,543.28 357,541.97 358,540.65 359,539.33 360,538.02 361,536.7 362,535.71 363,534.73 364,533.74 365,532.76 366,531.77 367,530.79 368,529.83 369,529.16 370,528.49 371,527.82 372,527.15 373,526.48 374,525.81 375,525.14 376,524.47 377,523.13 378,521.72 379,520.31 380,518.89 381,517.48 382,516.07 383,514.67 384,513.36 385,512.05 386,510.74 387,509.43 388,508.12 389,506.82 390,505.73 391,505.17 392,504.61 393,504.04 394,503.48 395,503.51 396,504.12 397,504.74 398,505.35 399,505.97 400,506.58 401,507.2 402,507.82 403,508.57 404,509.38 404.07,509.44 404.07,509.44 404,509.44 403,509.44 402,509.53 401,509.69 400,509.94 399,510.26 398,510.68 397,511.19 396,511.82 395,512.57 394,513.45 393,514.41 392,515.42 391,516.47 390,517.56 389,518.71 388,519.87 387,521 386,522.13 385,523.23 384,524.32 383,525.38 382,526.42 381,527.42 380,528.39 379,529.31 378,530.18 377,531 376,531.77 375,532.48 374,533.19 373,533.9 372,534.62 371,535.35 370,536.08 369,536.82 368,537.56 367,538.31 366,539.04 365,539.74 364,540.42 363,541.07 362,541.68 361,542.26 360,542.8 359,543.27 358,543.65 357,543.94 356,544.13 355.31,544.19" fill="#f0a855" fill-opacity="0.11"/>
<polygon points="404.07,509.44 405,510.2 406,511.01 407,511.82 408,512.64 409,513.45 410,514.03 411,513.67 412,513.32 413,512.96 414,512.61 415,512.25 416,511.9 416.98,511.55 416.98,511.55 416,511.55 415,511.51 414,511.44 413,511.33 412,511.17 411,510.96 410,510.7 409,510.38 408,510.08 407,509.83 406,509.64 405,509.5 404.07,509.44" fill="#6e6f78" fill-opacity="0.08"/>
<polygon points="416.98,511.55 417,511.54 418,511.16 419,510.76 420,510.37 421,509.97 422,509.57 423,509.18 424,508.78 425,507.94 426,506.99 427,506.04 428,505.09 429,505.39 430,506.25 431,507.09 432,507.94 433,507.25 434,505.89 435,504.54 436,503.18 437,502.13 438,501.38 439,500.64 440,499.89 441,499.15 442,498.4 443,497.77 444,497.14 445,496.51 446,495.88 447,495.25 448,495 449,495 450,495 451,495.9 452,497.03 453,498.16 453.9,499.18 453.9,499.18 453,499.17 452,499.27 451,499.49 450,499.84 449,500.3 448,500.82 447,501.38 446,501.98 445,502.57 444,503.16 443,503.74 442,504.32 441,504.9 440,505.46 439,506 438,506.52 437,507.01 436,507.49 435,507.91 434,508.23 433,508.46 432,508.58 431,508.64 430,508.79 429,509.03 428,509.39 427,509.8 426,510.17 425,510.48 424,510.73 423,510.91 422,511.08 421,511.23 420,511.35 419,511.45 418,511.51 417,511.55 416.98,511.55" fill="#f0a855" fill-opacity="0.11"/>
<polygon points="453.9,499.18 454,499.29 455,500.42 456,501.58 457,502.78 458,503.99 459,505.19 460,506.39 461,507.6 462,508.8 463,509.99 464,511.16 465,512.33 466,513.51 467,514.68 468,515.85 469,517.03 470,518.2 471,520.25 472,522.31 473,524.36 474,526.42 475,528.47 476,529.77 477,530.31 478,530.85 479,531.39 480,531.93 481,531.41 482,529.83 483,528.25 484,526.66 485,525.08 486,523.5 486.06,523.4 486.06,523.4 486,523.41 485,523.4 484,523.24 483,522.9 482,522.39 481,521.66 480,520.72 479,519.63 478,518.49 477,517.29 476,516.03 475,514.69 474,513.36 473,512.09 472,510.9 471,509.79 470,508.78 469,507.86 468,506.97 467,506.11 466,505.28 465,504.48 464,503.72 463,503 462,502.32 461,501.69 460,501.11 459,500.6 458,500.16 457,499.79 456,499.5 455,499.29 454,499.18 453.9,499.18" fill="#6e6f78" fill-opacity="0.08"/>
<polygon points="486.06,523.4 487,521.9 488,520.3 489,518.7 490,517.1 491,515.5 492,513.9 493,512.3 494,512.03 495,513.1 496,514.17 497,515.23 498,516.3 499,517.37 499.55,517.96 499.55,517.96 499,517.93 498,517.99 497,518.15 496,518.43 495,518.85 494,519.4 493,520.12 492,520.88 491,521.55 490,522.14 489,522.63 488,523.01 487,523.28 486.06,523.4" fill="#f0a855" fill-opacity="0.11"/>
<polygon points="499.55,517.96 500,518.43 501,519.5 502,520.54 503,521.58 504,522.62 505,523.67 506,524.19 507,522.62 508,521.06 508.61,520.11 508.61,520.11 508,520.15 507,520.06 506,519.81 505,519.38 504,518.97 503,518.61 502,518.33 501,518.11 500,517.98 499.55,517.96" fill="#6e6f78" fill-opacity="0.08"/>
<polygon points="508.61,520.11 509,519.49 510,517.93 511,516.36 512,514.8 513,513.2 514,511.59 515,509.99 516,508.39 517,506.79 518,505.18 519,503.66 520,502.45 521,501.25 522,500.04 523,498.84 524,497.63 525,496.42 526,495.38 527,494.59 528,493.8 529,493.01 530,492.22 531,491.43 532,490.95 533,491.72 534,492.48 535,493.25 536,494.02 537,494.78 538,495.55 539,496.31 540,497.07 540.57,497.51 540.57,497.51 540,497.49 539,497.53 538,497.65 537,497.85 536,498.15 535,498.55 534,499.07 533,499.71 532,500.48 531,501.41 530,502.38 529,503.36 528,504.37 527,505.39 526,506.44 525,507.51 524,508.59 523,509.65 522,510.7 521,511.73 520,512.75 519,513.75 518,514.73 517,515.65 516,516.51 515,517.3 514,518.01 513,518.63 512,519.16 511,519.58 510,519.9 509,520.09 508.61,520.11" fill="#f0a855" fill-opacity="0.11"/>
<polygon points="540.57,497.51 541,497.84 542,498.6 543,499.36 544,500.13 545,500.89 546,501.65 547,502.42 548,502.64 549,502.31 550,501.99 551,501.67 552,501.34 553,501.02 554,500.69 555,500.47 556,500.38 557,500.3 558,500.21 558.03,500.21 558.03,500.21 558,500.21 557,500.21 556,500.2 555,500.18 554,500.15 553,500.1 552,500.01 551,499.88 550,499.71 549,499.49 548,499.22 547,498.88 546,498.54 545,498.24 544,497.98 543,497.77 542,497.62 541,497.52 540.57,497.51" fill="#6e6f78" fill-opacity="0.08"/>
<polygon points="558.03,500.21 559,500.12 560,500.04 561,499.95 562,499.87 563,499.73 564,499.39 565,499.05 566,498.71 567,498.37 568,498.02 569,497.68 570,497.34 571,497 572,496.76 573,496.51 574,496.27 575,496.02 576,495.78 577,495.54 578,495.29 579,495.05 580,496.29 580.6,497.27 580.6,497.27 580,497.24 579,497.33 578,497.55 577,497.77 576,497.98 575,498.2 574,498.41 573,498.61 572,498.82 571,499.02 570,499.21 569,499.4 568,499.56 567,499.71 566,499.84 565,499.95 564,500.04 563,500.1 562,500.14 561,500.17 560,500.19 559,500.2 558.03,500.21" fill="#f0a855" fill-opacity="0.11"/>
<polygon points="580.6,497.27 581,497.91 582,499.53 583,501.15 584,502.77 585,504.57 586,506.81 587,509.04 588,511.28 589,513.52 590,515.75 591,517.99 592,520.23 593,522.48 594,524.72 595,526.96 596,529.2 597,527.18 598,525.16 599,523.14 600,521.12 601,519.1 602,517.8 603,516.57 603.16,516.37 603.16,516.37 603,516.38 602,516.36 601,516.23 600,515.95 599,515.44 598,514.7 597,513.68 596,512.37 595,510.74 594,509.17 593,507.66 592,506.22 591,504.86 590,503.59 589,502.41 588,501.33 587,500.36 586,499.52 585,498.81 584,498.25 583,497.82 582,497.49 581,497.3 580.6,497.27" fill="#6e6f78" fill-opacity="0.08"/>
<polygon points="603.16,516.37 604,515.34 605,514.11 606,513.06 607,512.17 608,511.28 609,510.39 610,509.5 611,508.66 612,508.28 613,507.9 614,507.52 615,507.13 616,506.75 617,506.11 618,505.31 619,504.5 620,503.69 621,502.88 622,502.07 623,501.26 624,501.37 625,501.7 626,502.03 627,502.37 628,503.27 629,504.54 629.77,505.53 629.77,505.53 629,505.51 628,505.6 627,505.83 626,506.17 625,506.57 624,507.04 623,507.59 622,508.2 621,508.8 620,509.37 619,509.92 618,510.45 617,510.95 616,511.42 615,511.87 614,512.33 613,512.8 612,513.27 611,513.76 610,514.25 609,514.71 608,515.13 607,515.51 606,515.83 605,516.1 604,516.29 603.16,516.37" fill="#f0a855" fill-opacity="0.11"/>
<polygon points="629.77,505.53 630,505.82 631,507.1 632,508.38 633,509.64 634,510.83 635,512.01 636,513.2 637,514.39 638,515.58 639,516.77 640,517.9 641,518.9 642,519.9 643,520.9 644,521.9 645,522.9 646,524.57 647,526.32 648,528.06 649,529.81 650,531.55 651,534.1 652,537.86 653,541.62 654,544.05 655,545.16 656,546.27 657,545.02 658,542.75 659,540.49 660,538.23 661,535.97 662,533.7 662.21,533.22 662.21,533.22 662,533.26 661,533.21 660,532.95 659,532.43 658,531.65 657,530.58 656,529.18 655,527.52 654,525.8 653,524.03 652,522.33 651,520.82 650,519.53 649,518.36 648,517.25 647,516.21 646,515.23 645,514.32 644,513.49 643,512.67 642,511.87 641,511.09 640,510.33 639,509.6 638,508.9 637,508.26 636,507.66 635,507.12 634,506.65 633,506.24 632,505.91 631,505.67 630,505.54 629.77,505.53" fill="#6e6f78" fill-opacity="0.08"/>
<polygon points="662.21,533.22 663,531.44 664,529.18 665,527.23 666,525.42 667,523.62 668,521.81 669,520 670,518.19 671,516.38 672,515.25 673,514.2 674,513.15 675,512.1 676,511.05 677,510 678,508.95 679,508.06 680,508.62 681,509.18 682,509.74 683,510.31 684,510.89 685,511.52 686,512.15 687,512.78 688,513.41 689,514.04 689.67,514.53 689.67,514.53 689,514.52 688,514.56 687,514.67 686,514.86 685,515.12 684,515.47 683,515.91 682,516.46 681,517.11 680,517.88 679,518.78 678,519.82 677,520.87 676,521.93 675,522.99 674,524.04 673,525.1 672,526.16 671,527.21 670,528.26 669,529.24 668,530.14 667,530.95 666,531.66 665,532.26 664,532.75 663,533.1 662.21,533.22" fill="#f0a855" fill-opacity="0.11"/>
<polygon points="689.67,514.53 690,514.77 691,515.52 692,516.26 693,517.01 694,517.75 695,518.16 696,518.05 697,517.94 698,517.83 699,517.72 700,517.61 701,517.6 702,517.6 703,517.6 704,517.6 705,517.6 706,517.6 707,517.6 708,517.6 709,517.6 710,517.6 711,517.6 712,517.71 713,517.82 714,517.93 715,518.04 716,518.15 717,518.76 718,519.89 719,521.02 720,522.15 721,523.27 722,524.4 723,526.42 724,528.44 725,530.46 726,532.47 727,534.49 728,536.05 729,537.31 730,538.56 731,539.82 732,541.07 733,542.31 734,543.38 735,544.45 736,545.52 737,546.59 738,545.92 739,544.81 740,543.71 741,542.6 742,541.5 743,540.39 744,539.26 744.61,538.37 744.61,538.37 744,538.4 743,538.32 742,538.11 741,537.79 740,537.32 739,536.7 738,535.91 737,534.94 736,533.81 735,532.68 734,531.53 733,530.38 732,529.23 731,528.08 730,526.94 729,525.81 728,524.7 727,523.6 726,522.54 725,521.57 724,520.71 723,519.96 722,519.34 721,518.84 720,518.42 719,518.05 718,517.77 717,517.56 716,517.44 715,517.37 714,517.31 713,517.25 712,517.19 711,517.14 710,517.1 709,517.05 708,517 707,516.94 706,516.88 705,516.81 704,516.73 703,516.65 702,516.55 701,516.45 700,516.34 699,516.22 698,516.07 697,515.9 696,515.7 695,515.47 694,515.21 693,514.97 692,514.77 691,514.62 690,514.54 689.67,514.53" fill="#6e6f78" fill-opacity="0.08"/>
<polygon points="744.61,538.37 745,537.81 746,536.36 747,534.91 748,533.47 749,531.95 750,530.33 751,528.71 752,527.1 752.8,525.8 752.8,534.16 752,534.97 751,535.73 750,536.41 749,537 748,537.49 747,537.88 746,538.17 745,538.35 744.61,538.37" fill="#f0a855" fill-opacity="0.11"/>
<polygon points="-2,514.1 -1,514.1 0,514.1 0,514.1 0,514.1 0,514.1 -1,514.1 -2,514.1" fill="#6e6f78" fill-opacity="0.08"/>
<polygon points="0,514.1 1,513.81 2,513.51 3,513.22 4,512.92 5,512.63 6,512.34 7,512 8,511.48 9,510.97 10,510.45 11,509.94 12,509.42 13,508.91 14,509.27 15,510.22 16,511.16 16.75,511.87 16.75,511.87 16,511.86 15,511.92 14,512.05 13,512.27 12,512.55 11,512.8 10,513.03 9,513.23 8,513.41 7,513.57 6,513.69 5,513.8 4,513.9 3,513.98 2,514.04 1,514.08 0,514.1" fill="#f0a855" fill-opacity="0.11"/>
<polygon points="16.75,511.87 17,512.11 18,513.06 19,514.01 20,516.03 21,518.18 22,520.32 23,522.47 24,524.67 25,527.32 26,529.98 27,532.64 28,535.3 29,537.51 30,539.73 31,541.12 32,539.23 33,537.33 34,535.44 35,533.55 36,531.35 37,528.86 37.64,527.27 37.64,527.27 37,527.31 36,527.19 35,526.86 34,526.32 33,525.59 32,524.65 31,523.48 30,522.06 29,520.64 28,519.29 27,518.01 26,516.83 25,515.78 24,514.85 23,514.07 22,513.39 21,512.84 20,512.41 19,512.12 18,511.97 17,511.88 16.75,511.87" fill="#6e6f78" fill-opacity="0.08"/>
<polygon points="37.64,527.27 38,526.37 39,523.88 40,521.39 41,518.9 42,516.92 43,514.94 44,512.95 45,510.97 46,508.99 47,507.33 48,505.98 49,504.64 50,503.3 51,501.95 52,500.61 53,500.12 54,500.9 55,501.69 56,502.48 57,503.27 58,504 59,504.5 60,505 61,505.5 62,506 63,506.5 64,507 65,507.1 66,506.61 67,506.12 68,505.62 69,505.13 70,504.64 71,504.15 72,503.65 73,503.15 74,502.65 75,502.15 76,501.65 77,501.15 78,500.65 79,500.15 80,499.56 81,498.75 82,497.94 83,497.13 84,496.32 85,495.51 86,494.7 87,494.14 88,493.81 89,493.48 90,493.15 91,492.82 92,492.49 93,492.16 94,491.83 95,491.78 96,492.38 97,492.99 98,493.59 99,494.19 100,494.8 101,495.4 101.62,495.96 101.62,495.96 101,495.94 100,495.99 99,496.08 98,496.23 97,496.44 96,496.72 95,497.07 94,497.49 93,497.95 92,498.41 91,498.89 90,499.37 89,499.87 88,500.39 87,500.91 86,501.46 85,502 84,502.52 83,503.02 82,503.49 81,503.93 80,504.35 79,504.74 78,505.1 77,505.46 76,505.81 75,506.14 74,506.46 73,506.76 72,507.05 71,507.33 70,507.58 69,507.82 68,508.03 67,508.23 66,508.4 65,508.54 64,508.66 63,508.79 62,508.97 61,509.21 60,509.51 59,509.87 58,510.3 57,510.81 56,511.41 55,512.13 54,512.96 53,513.93 52,515.04 51,516.2 50,517.34 49,518.46 48,519.57 47,520.66 46,521.73 45,522.75 44,523.7 43,524.56 42,525.33 41,526.01 40,526.58 39,527 38,527.24 37.64,527.27" fill="#f0a855" fill-opacity="0.11"/>
<polygon points="101.62,495.96 102,496.29 103,497.48 104,498.67 105,499.86 106,501.05 107,502.24 108,503.42 109,504.81 110,506.33 111,507.85 112,509.37 113,510.89 114,512.29 115,513.25 116,514.21 117,515.16 118,516.12 119,517.08 120,518.04 121,519.07 122,520.75 123,522.43 124,524.12 125,525.8 126,528.05 127,530.3 128,532.55 129,534.8 130,537.05 131,535.37 132,532.71 133,530.05 134,527.4 135,524.85 136,522.47 136.1,522.23 136.1,522.23 136,522.25 135,522.23 134,522.02 133,521.59 132,520.91 131,519.97 130,518.73 129,517.26 128,515.85 127,514.52 126,513.25 125,512.06 124,510.96 123,509.91 122,508.9 121,507.95 120,507.06 119,506.18 118,505.3 117,504.44 116,503.58 115,502.72 114,501.88 113,501.04 112,500.25 111,499.52 110,498.85 109,498.25 108,497.73 107,497.27 106,496.87 105,496.54 104,496.27 103,496.08 102,495.97 101.62,495.96" fill="#6e6f78" fill-opacity="0.08"/>
<polygon points="136.1,522.23 137,520.1 138,517.72 139,515.34 140,512.97 141,510.59 142,508.44 143,506.53 144,504.62 145,502.71 146,500.8 147,498.89 148,496.97 149,496.31 150,496.18 151,496.06 152,495.93 153,495.8 154,495.75 155,495.99 156,496.24 157,496.48 158,496.72 159,496.97 160,497.21 161,497.46 162,497.7 163,498.2 164,498.7 165,499.2 166,499.7 167,500.2 168,500.7 169,501.08 170,500.97 171,500.86 172,500.75 173,500.64 174,500.53 175,500.01 176,499.3 177,498.59 178,497.89 179,497.18 180,496.48 181,495.77 182,495.13 183,494.49 184,493.85 185,493.22 186,492.62 187,492.06 188,491.49 189,490.93 190,490.37 191,490.67 192,491.34 193,492.01 194,492.69 195,493.36 196,494.03 197,494.67 197.04,494.7 197.04,494.7 197,494.7 196,494.7 195,494.75 194,494.86 193,495.04 192,495.28 191,495.59 190,495.99 189,496.44 188,496.88 187,497.31 186,497.74 185,498.15 184,498.54 183,498.92 182,499.27 181,499.61 180,499.91 179,500.19 178,500.43 177,500.63 176,500.8 175,500.92 174,500.99 173,501.03 172,501.06 171,501.08 170,501.1 169,501.11 168,501.12 167,501.15 166,501.23 165,501.35 164,501.52 163,501.75 162,502.03 161,502.38 160,502.77 159,503.22 158,503.72 157,504.28 156,504.91 155,505.6 154,506.37 153,507.23 152,508.14 151,509.12 150,510.17 149,511.29 148,512.49 147,513.74 146,514.93 145,516.06 144,517.14 143,518.14 142,519.07 141,519.92 140,520.67 139,521.29 138,521.77 137,522.09 136.1,522.23" fill="#f0a855" fill-opacity="0.11"/>
<polygon points="197.04,494.7 198,495.29 199,495.91 200,496.53 201,497.14 202,497.68 203,497.44 204,497.2 205,496.97 206,496.73 207,496.49 208,496.32 209,496.19 210,496.06 211,495.93 211.25,495.9 211.25,495.9 211,495.9 210,495.9 209,495.89 208,495.86 207,495.83 206,495.77 205,495.69 204,495.59 203,495.46 202,495.31 201,495.12 200,494.95 199,494.83 198,494.74 197.04,494.7" fill="#6e6f78" fill-opacity="0.08"/>
<polygon points="211.25,495.9 212,495.8 212.65,495.9 212.65,495.9 212,495.9 211.25,495.9" fill="#f0a855" fill-opacity="0.11"/>
<polygon points="212.65,495.9 213,495.95 214,497.18 215,498.42 216,499.66 217,500.89 218,502.13 219,503.68 220,505.36 221,507.04 222,508.73 223,510.6 224,512.6 225,514.6 226,516.6 227,518.22 228,519.45 229,520.69 230,521.93 231,523.16 232,524.4 233,525.66 234,526.92 235,528.18 236,529.44 237,530.7 238,532.06 239,533.5 240,534.94 241,536.38 242,537.81 243,538.9 244,539.9 245,540.9 246,541.03 247,539.86 248,538.69 249,537.52 250,536.59 251,536.2 252,535.82 253,535.44 254,535.06 255,534.68 256,535.32 257,536.21 258,537.1 259,538 260,538.89 261,539.79 262,540.68 263,541.57 264,542.66 265,544.17 266,545.69 267,547.21 268,548.73 269,550.25 270,550.73 271,551.09 272,551.45 273,551.82 274,552.18 275,552.49 276,552.72 277,552.94 278,553.17 279,553.39 280,553.62 281,553.73 282,553.37 283,553.01 284,552.65 285,552.29 286,551.93 287,551.57 288,551.21 289,550.57 290,549.81 290.43,549.49 290.43,549.49 290,549.5 289,549.48 288,549.39 287,549.25 286,549.06 285,548.83 284,548.55 283,548.22 282,547.84 281,547.4 280,546.89 279,546.35 278,545.78 277,545.19 276,544.57 275,543.92 274,543.23 273,542.51 272,541.77 271,540.99 270,540.18 269,539.33 268,538.46 267,537.63 266,536.86 265,536.16 264,535.51 263,534.94 262,534.41 261,533.91 260,533.43 259,533 258,532.6 257,532.23 256,531.91 255,531.64 254,531.4 253,531.11 252,530.76 251,530.35 250,529.88 249,529.34 248,528.69 247,527.89 246,526.93 245,525.79 244,524.58 243,523.35 242,522.11 241,520.85 240,519.6 239,518.37 238,517.16 237,515.96 236,514.78 235,513.61 234,512.44 233,511.28 232,510.12 231,508.98 230,507.84 229,506.71 228,505.59 227,504.48 226,503.37 225,502.31 224,501.33 223,500.42 222,499.61 221,498.87 220,498.22 219,497.65 218,497.16 217,496.76 216,496.43 215,496.17 214,495.99 213,495.9 212.65,495.9" fill="#6e6f78" fill-opacity="0.08"/>
<polygon points="290.43,549.49 291,549.06 292,548.3 293,547.55 294,546.79 295,546.03 296,545.28 297,544.4 298,543.4 299,542.4 300,541.4 301,540.4 302,539.4 303,538.4 304,537.4 305,536.4 306,535.4 307,534.4 308,534.59 309,535.57 310,536.55 311,537.53 312,538.52 313,539.53 314,540.78 314.02,540.81 314.02,540.81 314,540.81 313,540.81 312,540.91 311,541.1 310,541.39 309,541.78 308,542.27 307,542.89 306,543.57 305,544.23 304,544.86 303,545.45 302,546.02 301,546.55 300,547.04 299,547.5 298,547.9 297,548.27 296,548.58 295,548.84 294,549.07 293,549.25 292,549.38 291,549.47 290.43,549.49" fill="#f0a855" fill-opacity="0.11"/>
<polygon points="314.02,540.81 315,542.03 316,543.29 317,544.54 318,545.8 319,546.9 320,547.9 321,548.9 322,549.9 323,550.23 324,549.88 325,549.54 326,549.2 327,548.85 328,548.51 329,548.14 330,547.75 331,547.36 332,546.97 333,546.57 333.93,546.16 333.93,546.16 333,546.17 332,546.13 331,546.07 330,545.96 329,545.82 328,545.63 327,545.4 326,545.12 325,544.8 324,544.42 323,543.98 322,543.48 321,542.96 320,542.49 319,542.05 318,541.66 317,541.33 316,541.07 315,540.9 314.02,540.81" fill="#6e6f78" fill-opacity="0.08"/>
<polygon points="333.93,546.16 334,546.13 335,545.57 336,545.01 337,544.45 338,543.88 339,543.32 340,542.76 341,542.2 342,542.41 343,542.62 344,542.82 345,543.03 346,543.24 347,543.45 348,543.65 349,543.84 350,543.97 351,544.09 352,544.22 352.02,544.22 352.02,544.22 352,544.22 351,544.22 350,544.23 349,544.25 348,544.29 347,544.34 346,544.41 345,544.5 344,544.62 343,544.76 342,544.94 341,545.14 340,545.38 339,545.59 338,545.77 337,545.92 336,546.04 335,546.12 334,546.16 333.93,546.16" fill="#f0a855" fill-opacity="0.11"/>
<polygon points="352.02,544.22 353,544.35 354,544.47 355,544.6 355.26,544.26 355.26,544.26 355,544.27 354,544.25 353,544.23 352.02,544.22" fill="#6e6f78" fill-opacity="0.08"/>
<polygon points="355.26,544.26 356,543.28 357,541.97 358,540.65 359,539.33 360,538.02 361,536.7 362,535.71 363,534.73 364,533.74 365,532.76 366,531.77 367,530.79 368,529.83 369,529.16 370,528.49 371,527.82 372,527.15 373,526.48 374,525.81 375,525.14 376,524.47 377,523.13 378,521.72 379,520.31 380,518.89 381,517.48 382,516.07 383,514.67 384,513.36 385,512.05 386,510.74 387,509.43 388,508.12 389,506.82 390,505.73 391,505.17 392,504.61 393,504.04 394,503.48 395,503.51 396,504.12 397,504.74 398,505.35 399,505.97 400,506.58 401,507.2 402,507.82 403,508.57 404,509.38 405,510.2 405.65,510.72 405.65,510.72 405,510.71 404,510.75 403,510.86 402,511.04 401,511.3 400,511.63 399,512.03 398,512.52 397,513.09 396,513.76 395,514.54 394,515.42 393,516.38 392,517.37 391,518.39 390,519.45 389,520.55 388,521.65 387,522.74 386,523.81 385,524.85 384,525.88 383,526.88 382,527.86 381,528.81 380,529.72 379,530.59 378,531.41 377,532.19 376,532.92 375,533.59 374,534.27 373,534.95 372,535.63 371,536.31 370,536.99 369,537.67 368,538.36 367,539.04 366,539.7 365,540.34 364,540.95 363,541.52 362,542.07 361,542.58 360,543.05 359,543.45 358,543.78 357,544.04 356,544.2 355.26,544.26" fill="#f0a855" fill-opacity="0.11"/>
<polygon points="405.65,510.72 406,511.01 407,511.82 408,512.64 409,513.45 410,514.03 411,513.67 412,513.32 413,512.96 414,512.61 415,512.25 416,511.9 416.14,511.85 416.14,511.85 416,511.85 415,511.85 414,511.81 413,511.75 412,511.65 411,511.52 410,511.35 409,511.13 408,510.95 407,510.81 406,510.73 405.65,510.72" fill="#6e6f78" fill-opacity="0.08"/>
<polygon points="416.14,511.85 417,511.54 418,511.16 419,510.76 420,510.37 421,509.97 422,509.57 423,509.18 424,508.78 425,507.94 426,506.99 427,506.04 428,505.09 429,505.39 430,506.25 431,507.09 432,507.94 433,507.25 434,505.89 435,504.54 436,503.18 437,502.13 438,501.38 439,500.64 440,499.89 441,499.15 442,498.4 443,497.77 444,497.14 445,496.51 446,495.88 447,495.25 448,495 449,495 450,495 451,495.9 452,497.03 453,498.16 454,499.29 454.61,499.98 454.61,499.98 454,499.96 453,500.01 452,500.16 451,500.41 450,500.77 449,501.24 448,501.74 447,502.28 446,502.84 445,503.4 444,503.95 443,504.5 442,505.04 441,505.57 440,506.08 439,506.58 438,507.06 437,507.51 436,507.95 435,508.33 434,508.63 433,508.85 432,508.98 431,509.06 430,509.22 429,509.46 428,509.79 427,510.16 426,510.49 425,510.77 424,511 423,511.18 422,511.34 421,511.48 420,511.6 419,511.7 418,511.78 417,511.83 416.14,511.85" fill="#f0a855" fill-opacity="0.11"/>
<polygon points="454.61,499.98 455,500.42 456,501.58 457,502.78 458,503.99 459,505.19 460,506.39 461,507.6 462,508.8 463,509.99 464,511.16 465,512.33 466,513.51 467,514.68 468,515.85 469,517.03 470,518.2 471,520.25 472,522.31 473,524.36 474,526.42 475,528.47 476,529.77 477,530.31 478,530.85 479,531.39 480,531.93 481,531.41 482,529.83 483,528.25 484,526.66 485,525.08 486,523.5 486.96,521.97 486.96,521.97 486,521.97 485,521.85 484,521.59 483,521.18 482,520.61 481,519.88 480,518.95 479,517.91 478,516.83 477,515.7 476,514.53 475,513.31 474,512.09 473,510.94 472,509.87 471,508.87 470,507.96 469,507.14 468,506.34 467,505.58 466,504.85 465,504.16 464,503.5 463,502.89 462,502.32 461,501.8 460,501.33 459,500.92 458,500.58 457,500.31 456,500.11 455,499.99 454.61,499.98" fill="#6e6f78" fill-opacity="0.08"/>
<polygon points="486.96,521.97 487,521.9 488,520.3 489,518.7 490,517.1 491,515.5 492,513.9 493,512.3 494,512.03 495,513.1 496,514.17 497,515.23 498,516.3 499,517.37 499.57,517.98 499.57,517.98 499,517.96 498,518 497,518.14 496,518.37 495,518.71 494,519.16 493,519.73 492,520.33 491,520.84 490,521.27 489,521.61 488,521.84 487,521.97 486.96,521.97" fill="#f0a855" fill-opacity="0.11"/>
<polygon points="499.57,517.98 500,518.43 501,519.5 502,520.54 503,521.58 504,522.62 505,523.67 506,524.19 507,522.62 508,521.06 508.76,519.86 508.76,519.86 508,519.88 507,519.79 506,519.56 505,519.19 504,518.83 503,518.53 502,518.28 501,518.1 500,517.99 499.57,517.98" fill="#6e6f78" fill-opacity="0.08"/>
<polygon points="508.76,519.86 509,519.49 510,517.93 511,516.36 512,514.8 513,513.2 514,511.59 515,509.99 516,508.39 517,506.79 518,505.18 519,503.66 520,502.45 521,501.25 522,500.04 523,498.84 524,497.63 525,496.42 526,495.38 527,494.59 528,493.8 529,493.01 530,492.22 531,491.43 532,490.95 533,491.72 534,492.48 535,493.25 536,494.02 537,494.78 538,495.55 539,496.31 540,497.07 541,497.84 542,498.6 542.05,498.64 542.05,498.64 542,498.64 541,498.64 540,498.71 539,498.84 538,499.04 537,499.32 536,499.68 535,500.14 534,500.69 533,501.35 532,502.12 531,503.02 530,503.95 529,504.89 528,505.84 527,506.81 526,507.79 525,508.78 524,509.77 523,510.75 522,511.7 521,512.64 520,513.55 519,514.44 518,515.31 517,516.12 516,516.87 515,517.55 514,518.15 513,518.68 512,519.12 511,519.46 510,519.71 509,519.86 508.76,519.86" fill="#f0a855" fill-opacity="0.11"/>
<polygon points="542.05,498.64 543,499.36 544,500.13 545,500.89 546,501.65 547,502.42 548,502.64 549,502.31 550,501.99 551,501.67 552,501.34 553,501.02 554,500.69 555,500.47 556,500.38 556.73,500.32 556.73,500.32 556,500.32 555,500.31 554,500.3 553,500.27 552,500.21 551,500.12 550,500 549,499.84 548,499.64 547,499.4 546,499.16 545,498.95 544,498.8 543,498.69 542.05,498.64" fill="#6e6f78" fill-opacity="0.08"/>
<polygon points="556.73,500.32 557,500.3 558,500.21 559,500.12 560,500.04 561,499.95 562,499.87 563,499.73 564,499.39 565,499.05 566,498.71 567,498.37 568,498.02 569,497.68 570,497.34 571,497 572,496.76 573,496.51 574,496.27 575,496.02 576,495.78 577,495.54 578,495.29 579,495.05 580,496.29 580.78,497.56 580.78,497.56 580,497.54 579,497.64 578,497.85 577,498.05 576,498.25 575,498.45 574,498.65 573,498.84 572,499.02 571,499.21 570,499.38 569,499.55 568,499.7 567,499.83 566,499.95 565,500.05 564,500.13 563,500.19 562,500.22 561,500.25 560,500.28 559,500.3 558,500.31 557,500.32 556.73,500.32" fill="#f0a855" fill-opacity="0.11"/>
<polygon points="580.78,497.56 581,497.91 582,499.53 583,501.15 584,502.77 585,504.57 586,506.81 587,509.04 588,511.28 589,513.52 590,515.75 591,517.99 592,520.23 593,522.48 594,524.72 595,526.96 596,529.2 597,527.18 598,525.16 599,523.14 600,521.12 601,519.1 602,517.8 603,516.57 604,515.34 604.29,514.99 604.29,514.99 604,515.01 603,514.98 602,514.85 601,514.62 600,514.26 599,513.71 598,512.95 597,511.97 596,510.75 595,509.27 594,507.86 593,506.5 592,505.22 591,504.02 590,502.9 589,501.87 588,500.93 587,500.1 586,499.38 585,498.79 584,498.32 583,497.97 582,497.71 581,497.57 580.78,497.56" fill="#6e6f78" fill-opacity="0.08"/>
<polygon points="604.29,514.99 605,514.11 606,513.06 607,512.17 608,511.28 609,510.39 610,509.5 611,508.66 612,508.28 613,507.9 614,507.52 615,507.13 616,506.75 617,506.11 618,505.31 619,504.5 620,503.69 621,502.88 622,502.07 623,501.26 624,501.37 625,501.7 626,502.03 627,502.37 628,503.27 629,504.54 630,505.82 630.22,506.1 630.22,506.1 630,506.08 629,506.1 628,506.23 627,506.46 626,506.79 625,507.18 624,507.61 623,508.12 622,508.67 621,509.19 620,509.7 619,510.18 618,510.64 617,511.07 616,511.46 615,511.84 614,512.22 613,512.6 612,512.97 611,513.35 610,513.73 609,514.06 608,514.36 607,514.61 606,514.8 605,514.94 604.29,514.99" fill="#f0a855" fill-opacity="0.11"/>
<polygon points="630.22,506.1 631,507.1 632,508.38 633,509.64 634,510.83 635,512.01 636,513.2 637,514.39 638,515.58 639,516.77 640,517.9 641,518.9 642,519.9 643,520.9 644,521.9 645,522.9 646,524.57 647,526.32 648,528.06 649,529.81 650,531.55 651,534.1 652,537.86 653,541.62 654,544.05 655,545.16 656,546.27 657,545.02 658,542.75 659,540.49 660,538.23 661,535.97 662,533.7 663,531.44 663,531.44 663,531.44 663,531.44 662,531.44 661,531.26 660,530.88 659,530.29 658,529.47 657,528.41 656,527.08 655,525.54 654,523.96 653,522.35 652,520.81 651,519.44 650,518.26 649,517.2 648,516.19 647,515.23 646,514.35 645,513.53 644,512.77 643,512.04 642,511.33 641,510.64 640,509.98 639,509.35 638,508.75 637,508.2 636,507.71 635,507.27 634,506.88 633,506.57 632,506.32 631,506.16 630.22,506.1" fill="#6e6f78" fill-opacity="0.08"/>
<polygon points="663,531.44 664,529.18 665,527.23 666,525.42 667,523.62 668,521.81 669,520 670,518.19 671,516.38 672,515.25 673,514.2 674,513.15 675,512.1 676,511.05 677,510 678,508.95 679,508.06 680,508.62 681,509.18 682,509.74 683,510.31 684,510.89 685,511.52 686,512.15 687,512.78 688,513.41 689,514.04 690,514.77 690.79,515.36 690.79,515.36 690,515.35 689,515.4 688,515.51 687,515.67 686,515.91 685,516.21 684,516.58 683,517.04 682,517.58 681,518.21 680,518.93 679,519.76 678,520.7 677,521.64 676,522.58 675,523.5 674,524.42 673,525.32 672,526.21 671,527.09 670,527.95 669,528.73 668,529.43 667,530.05 666,530.56 665,530.97 664,531.27 663,531.44" fill="#f0a855" fill-opacity="0.11"/>
<polygon points="690.79,515.36 691,515.52 692,516.26 693,517.01 694,517.75 695,518.16 696,518.05 697,517.94 698,517.83 699,517.72 700,517.61 701,517.6 702,517.6 703,517.6 704,517.6 705,517.6 706,517.6 707,517.6 708,517.6 709,517.6 710,517.6 711,517.6 712,517.71 713,517.82 714,517.93 715,518.04 716,518.15 717,518.76 718,519.89 719,521.02 720,522.15 721,523.27 722,524.4 723,526.42 724,528.44 725,530.46 726,532.47 727,534.49 728,536.05 729,537.31 730,538.56 731,539.82 732,541.07 733,542.31 734,543.38 735,544.45 736,545.52 737,546.59 738,545.92 739,544.81 740,543.71 741,542.6 742,541.5 743,540.39 744,539.26 745,537.81 745.53,537.04 745.53,537.04 745,537.07 744,537.01 743,536.83 742,536.54 741,536.15 740,535.63 739,534.98 738,534.19 737,533.25 736,532.18 735,531.11 734,530.04 733,528.97 732,527.9 731,526.85 730,525.8 729,524.78 728,523.78 727,522.79 726,521.85 725,521 724,520.24 723,519.59 722,519.04 721,518.61 720,518.23 719,517.92 718,517.67 717,517.49 716,517.39 715,517.33 714,517.28 713,517.22 712,517.17 711,517.13 710,517.09 709,517.05 708,517.01 707,516.96 706,516.91 705,516.86 704,516.8 703,516.73 702,516.66 701,516.59 700,516.51 699,516.42 698,516.31 697,516.19 696,516.05 695,515.89 694,515.71 693,515.55 692,515.43 691,515.36 690.79,515.36" fill="#6e6f78" fill-opacity="0.08"/>
<polygon points="745.53,537.04 746,536.36 747,534.91 748,533.47 749,531.95 750,530.33 751,528.71 752,527.1 752.8,525.8 752.8,534.03 752,534.69 751,535.29 750,535.82 749,536.26 748,536.61 747,536.86 746,537.02 745.53,537.04" fill="#f0a855" fill-opacity="0.11"/>
<polygon points="-2,514.1 -1,514.1 0,514.1 0,514.1 0,514.1 0,514.1 -1,514.1 -2,514.1" fill="#6e6f78" fill-opacity="0.08"/>
<polygon points="0,514.1 1,513.81 2,513.51 3,513.22 4,512.92 5,512.63 6,512.34 7,512 8,511.48 9,510.97 10,510.45 11,509.94 12,509.42 13,508.91 14,509.27 15,510.22 16,511.16 16.96,512.08 16.96,512.08 16,512.08 15,512.14 14,512.27 13,512.47 12,512.72 11,512.94 10,513.15 9,513.33 8,513.49 7,513.63 6,513.74 5,513.84 4,513.92 3,513.99 2,514.04 1,514.08 0,514.1" fill="#f0a855" fill-opacity="0.11"/>
<polygon points="16.96,512.08 17,512.11 18,513.06 19,514.01 20,516.03 21,518.18 22,520.32 23,522.47 24,524.67 25,527.32 26,529.98 27,532.64 28,535.3 29,537.51 30,539.73 31,541.12 32,539.23 33,537.33 34,535.44 35,533.55 36,531.35 37,528.86 38,526.37 38.1,526.11 38.1,526.11 38,526.13 37,526.11 36,525.93 35,525.55 34,525.01 33,524.29 32,523.4 31,522.32 30,521.04 29,519.76 28,518.54 27,517.4 26,516.36 25,515.43 24,514.61 23,513.93 22,513.34 21,512.86 20,512.5 19,512.26 18,512.14 17,512.08 16.96,512.08" fill="#6e6f78" fill-opacity="0.08"/>
<polygon points="38.1,526.11 39,523.88 40,521.39 41,518.9 42,516.92 43,514.94 44,512.95 45,510.97 46,508.99 47,507.33 48,505.98 49,504.64 50,503.3 51,501.95 52,500.61 53,500.12 54,500.9 55,501.69 56,502.48 57,503.27 58,504 59,504.5 60,505 61,505.5 62,506 63,506.5 64,507 65,507.1 66,506.61 67,506.12 68,505.62 69,505.13 70,504.64 71,504.15 72,503.65 73,503.15 74,502.65 75,502.15 76,501.65 77,501.15 78,500.65 79,500.15 80,499.56 81,498.75 82,497.94 83,497.13 84,496.32 85,495.51 86,494.7 87,494.14 88,493.81 89,493.48 90,493.15 91,492.82 92,492.49 93,492.16 94,491.83 95,491.78 96,492.38 97,492.99 98,493.59 99,494.19 100,494.8 101,495.4 102,496.29 102.33,496.68 102.33,496.68 102,496.66 101,496.69 100,496.78 99,496.91 98,497.1 97,497.34 96,497.64 95,498 94,498.42 93,498.87 92,499.33 91,499.8 90,500.28 89,500.76 88,501.26 87,501.77 86,502.29 85,502.81 84,503.31 83,503.79 82,504.24 81,504.67 80,505.08 79,505.46 78,505.82 77,506.17 76,506.51 75,506.85 74,507.17 73,507.48 72,507.77 71,508.05 70,508.32 69,508.57 68,508.81 67,509.03 66,509.22 65,509.4 64,509.56 63,509.74 62,509.96 61,510.23 60,510.55 59,510.93 58,511.37 57,511.87 56,512.46 55,513.14 54,513.93 53,514.82 52,515.82 51,516.86 50,517.88 49,518.88 48,519.85 47,520.8 46,521.72 45,522.59 44,523.38 43,524.1 42,524.72 41,525.26 40,525.69 39,525.99 38.1,526.11" fill="#f0a855" fill-opacity="0.11"/>
<polygon points="102.33,496.68 103,497.48 104,498.67 105,499.86 106,501.05 107,502.24 108,503.42 109,504.81 110,506.33 111,507.85 112,509.37 113,510.89 114,512.29 115,513.25 116,514.21 117,515.16 118,516.12 119,517.08 120,518.04 121,519.07 122,520.75 123,522.43 124,524.12 125,525.8 126,528.05 127,530.3 128,532.55 129,534.8 130,537.05 131,535.37 132,532.71 133,530.05 134,527.4 135,524.85 136,522.47 136.74,520.7 136.74,520.7 136,520.73 135,520.61 134,520.33 133,519.84 132,519.14 131,518.22 130,517.04 129,515.68 128,514.37 127,513.13 126,511.95 125,510.85 124,509.83 123,508.85 122,507.92 121,507.05 120,506.23 119,505.42 118,504.62 117,503.83 116,503.06 115,502.3 114,501.55 113,500.81 112,500.13 111,499.49 110,498.92 109,498.42 108,497.98 107,497.61 106,497.29 105,497.03 104,496.84 103,496.72 102.33,496.68" fill="#6e6f78" fill-opacity="0.08"/>
<polygon points="136.74,520.7 137,520.1 138,517.72 139,515.34 140,512.97 141,510.59 142,508.44 143,506.53 144,504.62 145,502.71 146,500.8 147,498.89 148,496.97 149,496.31 150,496.18 151,496.06 152,495.93 153,495.8 154,495.75 155,495.99 156,496.24 157,496.48 158,496.72 159,496.97 160,497.21 161,497.46 162,497.7 163,498.2 164,498.7 165,499.2 166,499.7 167,500.2 168,500.7 169,501.08 170,500.97 171,500.86 172,500.75 173,500.64 174,500.53 175,500.01 176,499.3 177,498.59 178,497.89 179,497.18 180,496.48 181,495.77 182,495.13 183,494.49 184,493.85 185,493.22 186,492.62 187,492.06 188,491.49 189,490.93 190,490.37 191,490.67 192,491.34 193,492.01 194,492.69 195,493.36 196,494.03 197,494.67 197.95,495.26 197.95,495.26 197,495.26 196,495.3 195,495.38 194,495.52 193,495.71 192,495.97 191,496.28 190,496.67 189,497.1 188,497.52 187,497.93 186,498.33 185,498.72 184,499.1 183,499.46 182,499.8 181,500.12 180,500.42 179,500.68 178,500.92 177,501.13 176,501.3 175,501.44 174,501.54 173,501.61 172,501.68 171,501.74 170,501.8 169,501.86 168,501.91 167,501.99 166,502.11 165,502.28 164,502.49 163,502.75 162,503.06 161,503.42 160,503.83 159,504.29 158,504.79 157,505.34 156,505.94 155,506.61 154,507.33 153,508.12 152,508.96 151,509.86 150,510.8 149,511.8 148,512.86 147,513.94 146,514.97 145,515.94 144,516.85 143,517.68 142,518.44 141,519.13 140,519.71 139,520.17 138,520.5 137,520.69 136.74,520.7" fill="#f0a855" fill-opacity="0.11"/>
<polygon points="197.95,495.26 198,495.29 199,495.91 200,496.53 201,497.14 202,497.68 203,497.44 204,497.2 205,496.97 206,496.73 207,496.49 208,496.32 209,496.19 210,496.06 210.25,496.03 210.25,496.03 210,496.03 209,496.03 208,496.02 207,496 206,495.96 205,495.91 204,495.84 203,495.75 202,495.63 201,495.49 200,495.38 199,495.3 198,495.26 197.95,495.26" fill="#6e6f78" fill-opacity="0.08"/>
<polygon points="210.25,496.03 211,495.93 212,495.8 213,495.95 213.05,496.01 213.05,496.01 213,496.01 212,496.01 211,496.03 210.25,496.03" fill="#f0a855" fill-opacity="0.11"/>
<polygon points="213.05,496.01 214,497.18 215,498.42 216,499.66 217,500.89 218,502.13 219,503.68 220,505.36 221,507.04 222,508.73 223,510.6 224,512.6 225,514.6 226,516.6 227,518.22 228,519.45 229,520.69 230,521.93 231,523.16 232,524.4 233,525.66 234,526.92 235,528.18 236,529.44 237,530.7 238,532.06 239,533.5 240,534.94 241,536.38 242,537.81 243,538.9 244,539.9 245,540.9 246,541.03 247,539.86 248,538.69 249,537.52 250,536.59 251,536.2 252,535.82 253,535.44 254,535.06 255,534.68 256,535.32 257,536.21 258,537.1 259,538 260,538.89 261,539.79 262,540.68 263,541.57 264,542.66 265,544.17 266,545.69 267,547.21 268,548.73 269,550.25 270,550.73 271,551.09 272,551.45 273,551.82 274,552.18 275,552.49 276,552.72 277,552.94 278,553.17 279,553.39 280,553.62 281,553.73 282,553.37 283,553.01 284,552.65 285,552.29 286,551.93 287,551.57 288,551.21 289,550.57 290,549.81 291,549.06 291.68,548.54 291.68,548.54 291,548.55 290,548.52 289,548.43 288,548.29 287,548.09 286,547.85 285,547.57 284,547.25 283,546.88 282,546.46 281,545.99 280,545.46 279,544.9 278,544.32 277,543.71 276,543.08 275,542.42 274,541.74 273,541.02 272,540.28 271,539.52 270,538.73 269,537.91 268,537.07 267,536.27 266,535.52 265,534.82 264,534.19 263,533.61 262,533.06 261,532.54 260,532.05 259,531.58 258,531.14 257,530.73 256,530.36 255,530.02 254,529.7 253,529.33 252,528.91 251,528.44 250,527.91 249,527.32 248,526.62 247,525.8 246,524.84 245,523.73 244,522.55 243,521.37 242,520.17 241,518.96 240,517.77 239,516.6 238,515.45 237,514.31 236,513.19 235,512.08 234,510.98 233,509.89 232,508.81 231,507.75 230,506.69 229,505.65 228,504.62 227,503.61 226,502.61 225,501.65 224,500.77 223,499.96 222,499.23 221,498.58 220,498.01 219,497.5 218,497.08 217,496.74 216,496.45 215,496.23 214,496.08 213.05,496.01" fill="#6e6f78" fill-opacity="0.08"/>
<polygon points="291.68,548.54 292,548.3 293,547.55 294,546.79 295,546.03 296,545.28 297,544.4 298,543.4 299,542.4 300,541.4 301,540.4 302,539.4 303,538.4 304,537.4 305,536.4 306,535.4 307,534.4 308,534.59 309,535.57 310,536.55 311,537.53 312,538.52 313,539.53 314,540.78 314.38,541.26 314.38,541.26 314,541.24 313,541.27 312,541.39 311,541.58 310,541.86 309,542.22 308,542.68 307,543.23 306,543.83 305,544.41 304,544.96 303,545.48 302,545.96 301,546.41 300,546.82 299,547.19 298,547.52 297,547.8 296,548.03 295,548.22 294,548.37 293,548.48 292,548.54 291.68,548.54" fill="#f0a855" fill-opacity="0.11"/>
<polygon points="314.38,541.26 315,542.03 316,543.29 317,544.54 318,545.8 319,546.9 320,547.9 321,548.9 322,549.9 323,550.23 324,549.88 325,549.54 326,549.2 327,548.85 328,548.51 329,548.14 330,547.75 331,547.36 332,546.97 333,546.57 334,546.13 334.41,545.9 334.41,545.9 334,545.91 333,545.9 332,545.85 331,545.77 330,545.67 329,545.52 328,545.34 327,545.13 326,544.87 325,544.58 324,544.24 323,543.85 322,543.42 321,542.97 320,542.57 319,542.2 318,541.88 317,541.62 316,541.42 315,541.29 314.38,541.26" fill="#6e6f78" fill-opacity="0.08"/>
<polygon points="334.41,545.9 335,545.57 336,545.01 337,544.45 338,543.88 339,543.32 340,542.76 341,542.2 342,542.41 343,542.62 344,542.82 345,543.03 346,543.24 347,543.45 348,543.65 349,543.84 350,543.97 351,544.09 352,544.22 352.52,544.29 352.52,544.29 352,544.28 351,544.29 350,544.3 349,544.32 348,544.36 347,544.41 346,544.47 345,544.56 344,544.66 343,544.79 342,544.93 341,545.11 340,545.3 339,545.48 338,545.63 337,545.74 336,545.83 335,545.89 334.41,545.9" fill="#f0a855" fill-opacity="0.11"/>
<polygon points="352.52,544.29 353,544.35 354,544.47 355,544.6 355.23,544.3 355.23,544.3 355,544.32 354,544.3 353,544.29 352.52,544.29" fill="#6e6f78" fill-opacity="0.08"/>
<polygon points="355.23,544.3 356,543.28 357,541.97 358,540.65 359,539.33 360,538.02 361,536.7 362,535.71 363,534.73 364,533.74 365,532.76 366,531.77 367,530.79 368,529.83 369,529.16 370,528.49 371,527.82 372,527.15 373,526.48 374,525.81 375,525.14 376,524.47 377,523.13 378,521.72 379,520.31 380,518.89 381,517.48 382,516.07 383,514.67 384,513.36 385,512.05 386,510.74 387,509.43 388,508.12 389,506.82 390,505.73 391,505.17 392,504.61 393,504.04 394,503.48 395,503.51 396,504.12 397,504.74 398,505.35 399,505.97 400,506.58 401,507.2 402,507.82 403,508.57 404,509.38 405,510.2 406,511.01 407,511.82 407.13,511.93 407.13,511.93 407,511.92 406,511.93 405,511.99 404,512.12 403,512.3 402,512.56 401,512.88 400,513.27 399,513.73 398,514.26 397,514.87 396,515.56 395,516.34 394,517.22 393,518.16 392,519.12 391,520.11 390,521.13 389,522.19 388,523.24 387,524.27 386,525.28 385,526.28 384,527.25 383,528.2 382,529.13 381,530.02 380,530.88 379,531.69 378,532.47 377,533.21 376,533.9 375,534.54 374,535.18 373,535.83 372,536.46 371,537.1 370,537.74 369,538.37 368,539 367,539.62 366,540.23 365,540.81 364,541.36 363,541.88 362,542.36 361,542.82 360,543.24 359,543.59 358,543.88 357,544.11 356,544.25 355.23,544.3" fill="#f0a855" fill-opacity="0.11"/>
<polygon points="407.13,511.93 408,512.64 409,513.45 410,514.03 411,513.67 412,513.32 413,512.96 414,512.61 414.59,512.4 414.59,512.4 414,512.4 413,512.39 412,512.35 411,512.28 410,512.19 409,512.06 408,511.97 407.13,511.93" fill="#6e6f78" fill-opacity="0.08"/>
<polygon points="414.59,512.4 415,512.25 416,511.9 417,511.54 418,511.16 419,510.76 420,510.37 421,509.97 422,509.57 423,509.18 424,508.78 425,507.94 426,506.99 427,506.04 428,505.09 429,505.39 430,506.25 431,507.09 432,507.94 433,507.25 434,505.89 435,504.54 436,503.18 437,502.13 438,501.38 439,500.64 440,499.89 441,499.15 442,498.4 443,497.77 444,497.14 445,496.51 446,495.88 447,495.25 448,495 449,495 450,495 451,495.9 452,497.03 453,498.16 454,499.29 455,500.42 455.25,500.72 455.25,500.72 455,500.7 454,500.72 453,500.82 452,501 451,501.27 450,501.64 449,502.09 448,502.58 447,503.09 446,503.63 445,504.16 444,504.68 443,505.2 442,505.71 441,506.21 440,506.69 439,507.15 438,507.6 437,508.02 436,508.43 435,508.79 434,509.08 433,509.29 432,509.43 431,509.54 430,509.7 429,509.94 428,510.25 427,510.6 426,510.91 425,511.18 424,511.4 423,511.58 422,511.75 421,511.9 420,512.03 419,512.14 418,512.24 417,512.31 416,512.36 415,512.39 414.59,512.4" fill="#f0a855" fill-opacity="0.11"/>
<polygon points="455.25,500.72 456,501.58 457,502.78 458,503.99 459,505.19 460,506.39 461,507.6 462,508.8 463,509.99 464,511.16 465,512.33 466,513.51 467,514.68 468,515.85 469,517.03 470,518.2 471,520.25 472,522.31 473,524.36 474,526.42 475,528.47 476,529.77 477,530.31 478,530.85 479,531.39 480,531.93 481,531.41 482,529.83 483,528.25 484,526.66 485,525.08 486,523.5 487,521.9 487.73,520.73 487.73,520.73 487,520.75 486,520.67 485,520.48 484,520.16 483,519.72 482,519.14 481,518.41 480,517.52 479,516.53 478,515.52 477,514.47 476,513.39 475,512.27 474,511.16 473,510.11 472,509.14 471,508.24 470,507.42 469,506.68 468,505.97 467,505.3 466,504.66 465,504.05 464,503.49 463,502.96 462,502.48 461,502.05 460,501.67 459,501.35 458,501.09 457,500.89 456,500.76 455.25,500.72" fill="#6e6f78" fill-opacity="0.08"/>
<polygon points="487.73,520.73 488,520.3 489,518.7 490,517.1 491,515.5 492,513.9 493,512.3 494,512.03 495,513.1 496,514.17 497,515.23 498,516.3 499,517.37 499.41,517.81 499.41,517.81 499,517.79 498,517.82 497,517.92 496,518.1 495,518.37 494,518.73 493,519.19 492,519.66 491,520.06 490,520.37 489,520.59 488,520.72 487.73,520.73" fill="#f0a855" fill-opacity="0.11"/>
<polygon points="499.41,517.81 500,518.43 501,519.5 502,520.54 503,521.58 504,522.62 505,523.67 506,524.19 507,522.62 508,521.06 508.95,519.57 508.95,519.57 508,519.58 507,519.48 506,519.26 505,518.93 504,518.6 503,518.33 502,518.1 501,517.94 500,517.83 499.41,517.81" fill="#6e6f78" fill-opacity="0.08"/>
<polygon points="508.95,519.57 509,519.49 510,517.93 511,516.36 512,514.8 513,513.2 514,511.59 515,509.99 516,508.39 517,506.79 518,505.18 519,503.66 520,502.45 521,501.25 522,500.04 523,498.84 524,497.63 525,496.42 526,495.38 527,494.59 528,493.8 529,493.01 530,492.22 531,491.43 532,490.95 533,491.72 534,492.48 535,493.25 536,494.02 537,494.78 538,495.55 539,496.31 540,497.07 541,497.84 542,498.6 543,499.36 543.39,499.66 543.39,499.66 543,499.65 542,499.67 541,499.74 540,499.87 539,500.06 538,500.32 537,500.64 536,501.04 535,501.52 534,502.09 533,502.75 532,503.5 531,504.36 530,505.24 529,506.13 528,507.03 527,507.93 526,508.84 525,509.76 524,510.68 523,511.57 522,512.44 521,513.29 520,514.11 519,514.91 518,515.67 517,516.39 516,517.05 515,517.64 514,518.16 513,518.61 512,518.98 511,519.27 510,519.47 509,519.57 508.95,519.57" fill="#f0a855" fill-opacity="0.11"/>
<polygon points="543.39,499.66 544,500.13 545,500.89 546,501.65 547,502.42 548,502.64 549,502.31 550,501.99 551,501.67 552,501.34 553,501.02 554,500.69 554.38,500.61 554.38,500.61 554,500.61 553,500.61 552,500.58 551,500.52 550,500.45 549,500.34 548,500.21 547,500.04 546,499.88 545,499.76 544,499.68 543.39,499.66" fill="#6e6f78" fill-opacity="0.08"/>
<polygon points="554.38,500.61 555,500.47 556,500.38 557,500.3 558,500.21 559,500.12 560,500.04 561,499.95 562,499.87 563,499.73 564,499.39 565,499.05 566,498.71 567,498.37 568,498.02 569,497.68 570,497.34 571,497 572,496.76 573,496.51 574,496.27 575,496.02 576,495.78 577,495.54 578,495.29 579,495.05 580,496.29 580.96,497.84 580.96,497.84 580,497.84 579,497.95 578,498.14 577,498.34 576,498.53 575,498.72 574,498.9 573,499.08 572,499.26 571,499.43 570,499.6 569,499.75 568,499.89 567,500.02 566,500.13 565,500.23 564,500.31 563,500.37 562,500.42 561,500.45 560,500.49 559,500.52 558,500.55 557,500.57 556,500.59 555,500.6 554.38,500.61" fill="#f0a855" fill-opacity="0.11"/>
<polygon points="580.96,497.84 581,497.91 582,499.53 583,501.15 584,502.77 585,504.57 586,506.81 587,509.04 588,511.28 589,513.52 590,515.75 591,517.99 592,520.23 593,522.48 594,524.72 595,526.96 596,529.2 597,527.18 598,525.16 599,523.14 600,521.12 601,519.1 602,517.8 603,516.57 604,515.34 605,514.11 605.24,513.85 605.24,513.85 605,513.87 604,513.85 603,513.75 602,513.56 601,513.27 600,512.87 599,512.3 598,511.56 597,510.63 596,509.5 595,508.16 594,506.87 593,505.65 592,504.5 591,503.42 590,502.43 589,501.52 588,500.7 587,499.97 586,499.35 585,498.84 584,498.45 583,498.16 582,497.95 581,497.85 580.96,497.84" fill="#6e6f78" fill-opacity="0.08"/>
<polygon points="605.24,513.85 606,513.06 607,512.17 608,511.28 609,510.39 610,509.5 611,508.66 612,508.28 613,507.9 614,507.52 615,507.13 616,506.75 617,506.11 618,505.31 619,504.5 620,503.69 621,502.88 622,502.07 623,501.26 624,501.37 625,501.7 626,502.03 627,502.37 628,503.27 629,504.54 630,505.82 630.53,506.5 630.53,506.5 630,506.48 629,506.53 628,506.66 627,506.9 626,507.2 625,507.56 624,507.96 623,508.41 622,508.9 621,509.36 620,509.81 619,510.23 618,510.62 617,510.98 616,511.31 615,511.63 614,511.93 613,512.23 612,512.53 611,512.82 610,513.11 609,513.35 608,513.55 607,513.71 606,513.82 605.24,513.85" fill="#f0a855" fill-opacity="0.11"/>
<polygon points="630.53,506.5 631,507.1 632,508.38 633,509.64 634,510.83 635,512.01 636,513.2 637,514.39 638,515.58 639,516.77 640,517.9 641,518.9 642,519.9 643,520.9 644,521.9 645,522.9 646,524.57 647,526.32 648,528.06 649,529.81 650,531.55 651,534.1 652,537.86 653,541.62 654,544.05 655,545.16 656,546.27 657,545.02 658,542.75 659,540.49 660,538.23 661,535.97 662,533.7 663,531.44 663.7,529.87 663.7,529.87 663,529.9 662,529.79 661,529.53 660,529.09 659,528.46 658,527.64 657,526.61 656,525.35 655,523.92 654,522.46 653,520.99 652,519.58 651,518.33 650,517.25 649,516.27 648,515.35 647,514.48 646,513.67 645,512.92 644,512.24 643,511.58 642,510.94 641,510.33 640,509.75 639,509.19 638,508.67 637,508.2 636,507.77 635,507.4 634,507.09 633,506.83 632,506.64 631,506.52 630.53,506.5" fill="#6e6f78" fill-opacity="0.08"/>
<polygon points="663.7,529.87 664,529.18 665,527.23 666,525.42 667,523.62 668,521.81 669,520 670,518.19 671,516.38 672,515.25 673,514.2 674,513.15 675,512.1 676,511.05 677,510 678,508.95 679,508.06 680,508.62 681,509.18 682,509.74 683,510.31 684,510.89 685,511.52 686,512.15 687,512.78 688,513.41 689,514.04 690,514.77 691,515.52 691.65,516 691.65,516 691,515.99 690,516.02 689,516.11 688,516.25 687,516.45 686,516.7 685,517.01 684,517.38 683,517.83 682,518.34 681,518.93 680,519.59 679,520.34 678,521.18 677,522.02 676,522.84 675,523.65 674,524.44 673,525.21 672,525.96 671,526.7 670,527.4 669,528.03 668,528.58 667,529.04 666,529.41 665,529.69 664,529.85 663.7,529.87" fill="#f0a855" fill-opacity="0.11"/>
<polygon points="691.65,516 692,516.26 693,517.01 694,517.75 695,518.16 696,518.05 697,517.94 698,517.83 699,517.72 700,517.61 701,517.6 702,517.6 703,517.6 704,517.6 705,517.6 706,517.6 707,517.6 708,517.6 709,517.6 710,517.6 711,517.6 712,517.71 713,517.82 714,517.93 715,518.04 716,518.15 717,518.76 718,519.89 719,521.02 720,522.15 721,523.27 722,524.4 723,526.42 724,528.44 725,530.46 726,532.47 727,534.49 728,536.05 729,537.31 730,538.56 731,539.82 732,541.07 733,542.31 734,543.38 735,544.45 736,545.52 737,546.59 738,545.92 739,544.81 740,543.71 741,542.6 742,541.5 743,540.39 744,539.26 745,537.81 746,536.36 746.35,535.86 746.35,535.86 746,535.88 745,535.85 744,535.72 743,535.47 742,535.14 741,534.7 740,534.16 739,533.51 738,532.74 737,531.84 736,530.83 735,529.82 734,528.82 733,527.83 732,526.84 731,525.87 730,524.91 729,523.98 728,523.07 727,522.18 726,521.34 725,520.58 724,519.91 723,519.32 722,518.84 721,518.46 720,518.13 719,517.85 718,517.64 717,517.48 716,517.39 715,517.34 714,517.3 713,517.25 712,517.21 711,517.18 710,517.15 709,517.12 708,517.09 707,517.05 706,517.02 705,516.98 704,516.93 703,516.89 702,516.84 701,516.79 700,516.73 699,516.67 698,516.6 697,516.52 696,516.42 695,516.31 694,516.18 693,516.07 692,516.01 691.65,516" fill="#6e6f78" fill-opacity="0.08"/>
<polygon points="746.35,535.86 747,534.91 748,533.47 749,531.95 750,530.33 751,528.71 752,527.1 752.8,525.8 752.8,533.67 752,534.21 751,534.7 750,535.11 749,535.43 748,535.67 747,535.82 746.35,535.86" fill="#f0a855" fill-opacity="0.11"/>
<polygon points="-2,514.1 -1,514.1 0,514.1 0,514.1 0,514.1 0,514.1 -1,514.1 -2,514.1" fill="#6e6f78" fill-opacity="0.08"/>
<polygon points="0,514.1 1,513.81 2,513.51 3,513.22 4,512.92 5,512.63 6,512.34 7,512 8,511.48 9,510.97 10,510.45 11,509.94 12,509.42 13,508.91 14,509.27 15,510.22 16,511.16 17,512.11 17.15,512.25 17.15,512.25 17,512.25 16,512.25 15,512.32 14,512.45 13,512.63 12,512.86 11,513.06 10,513.25 9,513.41 8,513.56 7,513.68 6,513.78 5,513.87 4,513.94 3,514 2,514.05 1,514.08 0,514.1" fill="#f0a855" fill-opacity="0.11"/>
<polygon points="17.15,512.25 18,513.06 19,514.01 20,516.03 21,518.18 22,520.32 23,522.47 24,524.67 25,527.32 26,529.98 27,532.64 28,535.3 29,537.51 30,539.73 31,541.12 32,539.23 33,537.33 34,535.44 35,533.55 36,531.35 37,528.86 38,526.37 38.5,525.12 38.5,525.12 38,525.16 37,525.08 36,524.86 35,524.47 34,523.93 33,523.25 32,522.41 31,521.4 30,520.23 29,519.07 28,517.97 27,516.94 26,516 25,515.17 24,514.45 23,513.84 22,513.32 21,512.91 20,512.59 19,512.39 18,512.29 17.15,512.25" fill="#6e6f78" fill-opacity="0.08"/>
<polygon points="38.5,525.12 39,523.88 40,521.39 41,518.9 42,516.92 43,514.94 44,512.95 45,510.97 46,508.99 47,507.33 48,505.98 49,504.64 50,503.3 51,501.95 52,500.61 53,500.12 54,500.9 55,501.69 56,502.48 57,503.27 58,504 59,504.5 60,505 61,505.5 62,506 63,506.5 64,507 65,507.1 66,506.61 67,506.12 68,505.62 69,505.13 70,504.64 71,504.15 72,503.65 73,503.15 74,502.65 75,502.15 76,501.65 77,501.15 78,500.65 79,500.15 80,499.56 81,498.75 82,497.94 83,497.13 84,496.32 85,495.51 86,494.7 87,494.14 88,493.81 89,493.48 90,493.15 91,492.82 92,492.49 93,492.16 94,491.83 95,491.78 96,492.38 97,492.99 98,493.59 99,494.19 100,494.8 101,495.4 102,496.29 102.92,497.39 102.92,497.39 102,497.38 101,497.45 100,497.57 99,497.73 98,497.94 97,498.2 96,498.51 95,498.88 94,499.3 93,499.75 92,500.2 91,500.66 90,501.12 89,501.6 88,502.08 87,502.58 86,503.08 85,503.58 84,504.06 83,504.52 82,504.96 81,505.38 80,505.77 79,506.14 78,506.5 77,506.85 76,507.19 75,507.52 74,507.83 73,508.14 72,508.44 71,508.73 70,509 69,509.26 68,509.5 67,509.74 66,509.95 65,510.15 64,510.33 63,510.53 62,510.77 61,511.05 60,511.38 59,511.77 58,512.2 57,512.69 56,513.25 55,513.89 54,514.61 53,515.43 52,516.34 51,517.28 50,518.19 49,519.08 48,519.94 47,520.77 46,521.57 45,522.32 44,523 43,523.6 42,524.11 41,524.54 40,524.88 39,525.08 38.5,525.12" fill="#f0a855" fill-opacity="0.11"/>
<polygon points="102.92,497.39 103,497.48 104,498.67 105,499.86 106,501.05 107,502.24 108,503.42 109,504.81 110,506.33 111,507.85 112,509.37 113,510.89 114,512.29 115,513.25 116,514.21 117,515.16 118,516.12 119,517.08 120,518.04 121,519.07 122,520.75 123,522.43 124,524.12 125,525.8 126,528.05 127,530.3 128,532.55 129,534.8 130,537.05 131,535.37 132,532.71 133,530.05 134,527.4 135,524.85 136,522.47 137,520.1 137.29,519.4 137.29,519.4 137,519.43 136,519.39 135,519.2 134,518.87 133,518.36 132,517.66 131,516.77 130,515.66 129,514.39 128,513.17 127,512.02 126,510.93 125,509.91 124,508.96 123,508.06 122,507.2 121,506.39 120,505.64 119,504.9 118,504.18 117,503.46 116,502.77 115,502.09 114,501.42 113,500.77 112,500.17 111,499.62 110,499.13 109,498.7 108,498.34 107,498.04 106,497.79 105,497.59 104,497.46 103,497.39 102.92,497.39" fill="#6e6f78" fill-opacity="0.08"/>
<polygon points="137.29,519.4 138,517.72 139,515.34 140,512.97 141,510.59 142,508.44 143,506.53 144,504.62 145,502.71 146,500.8 147,498.89 148,496.97 149,496.31 150,496.18 151,496.06 152,495.93 153,495.8 154,495.75 155,495.99 156,496.24 157,496.48 158,496.72 159,496.97 160,497.21 161,497.46 162,497.7 163,498.2 164,498.7 165,499.2 166,499.7 167,500.2 168,500.7 169,501.08 170,500.97 171,500.86 172,500.75 173,500.64 174,500.53 175,500.01 176,499.3 177,498.59 178,497.89 179,497.18 180,496.48 181,495.77 182,495.13 183,494.49 184,493.85 185,493.22 186,492.62 187,492.06 188,491.49 189,490.93 190,490.37 191,490.67 192,491.34 193,492.01 194,492.69 195,493.36 196,494.03 197,494.67 198,495.29 198.82,495.8 198.82,495.8 198,495.79 197,495.82 196,495.89 195,496 194,496.16 193,496.36 192,496.62 191,496.94 190,497.31 189,497.72 188,498.13 187,498.52 186,498.91 185,499.28 184,499.64 183,499.99 182,500.32 181,500.63 180,500.92 179,501.18 178,501.42 177,501.63 176,501.81 175,501.96 174,502.07 173,502.17 172,502.26 171,502.35 170,502.44 169,502.52 168,502.61 167,502.72 166,502.87 165,503.06 164,503.29 163,503.57 162,503.88 161,504.25 160,504.66 159,505.1 158,505.59 157,506.11 156,506.69 155,507.31 154,507.98 153,508.71 152,509.48 151,510.29 150,511.14 149,512.03 148,512.96 147,513.92 146,514.81 145,515.65 144,516.42 143,517.12 142,517.75 141,518.3 140,518.76 139,519.11 138,519.33 137.29,519.4" fill="#f0a855" fill-opacity="0.11"/>
<polygon points="198.82,495.8 199,495.91 200,496.53 201,497.14 202,497.68 203,497.44 204,497.2 205,496.97 206,496.73 207,496.49 208,496.32 208.58,496.25 208.58,496.25 208,496.25 207,496.24 206,496.23 205,496.2 204,496.15 203,496.09 202,496.01 201,495.91 200,495.84 199,495.8 198.82,495.8" fill="#6e6f78" fill-opacity="0.08"/>
<polygon points="208.58,496.25 209,496.19 210,496.06 211,495.93 212,495.8 213,495.95 213.2,496.19 213.2,496.19 213,496.18 212,496.19 211,496.22 210,496.24 209,496.25 208.58,496.25" fill="#f0a855" fill-opacity="0.11"/>
<polygon points="213.2,496.19 214,497.18 215,498.42 216,499.66 217,500.89 218,502.13 219,503.68 220,505.36 221,507.04 222,508.73 223,510.6 224,512.6 225,514.6 226,516.6 227,518.22 228,519.45 229,520.69 230,521.93 231,523.16 232,524.4 233,525.66 234,526.92 235,528.18 236,529.44 237,530.7 238,532.06 239,533.5 240,534.94 241,536.38 242,537.81 243,538.9 244,539.9 245,540.9 246,541.03 247,539.86 248,538.69 249,537.52 250,536.59 251,536.2 252,535.82 253,535.44 254,535.06 255,534.68 256,535.32 257,536.21 258,537.1 259,538 260,538.89 261,539.79 262,540.68 263,541.57 264,542.66 265,544.17 266,545.69 267,547.21 268,548.73 269,550.25 270,550.73 271,551.09 272,551.45 273,551.82 274,552.18 275,552.49 276,552.72 277,552.94 278,553.17 279,553.39 280,553.62 281,553.73 282,553.37 283,553.01 284,552.65 285,552.29 286,551.93 287,551.57 288,551.21 289,550.57 290,549.81 291,549.06 292,548.3 292.96,547.58 292.96,547.58 292,547.58 291,547.54 290,547.45 289,547.31 288,547.11 287,546.87 286,546.59 285,546.27 284,545.91 283,545.51 282,545.06 281,544.57 280,544.02 279,543.45 278,542.86 277,542.24 276,541.61 275,540.94 274,540.26 273,539.55 272,538.82 271,538.06 270,537.29 269,536.49 268,535.67 267,534.89 266,534.16 265,533.47 264,532.83 263,532.25 262,531.69 261,531.15 260,530.64 259,530.15 258,529.68 257,529.24 256,528.82 255,528.44 254,528.07 253,527.65 252,527.19 251,526.67 250,526.1 249,525.48 248,524.76 247,523.93 246,522.99 245,521.91 244,520.78 243,519.64 242,518.49 241,517.34 240,516.21 239,515.09 238,514 237,512.92 236,511.86 235,510.82 234,509.78 233,508.76 232,507.76 231,506.76 230,505.79 229,504.83 228,503.88 227,502.95 226,502.04 225,501.18 224,500.38 223,499.65 222,499 221,498.42 220,497.9 219,497.46 218,497.09 217,496.79 216,496.55 215,496.36 214,496.24 213.2,496.19" fill="#6e6f78" fill-opacity="0.08"/>
<polygon points="292.96,547.58 293,547.55 294,546.79 295,546.03 296,545.28 297,544.4 298,543.4 299,542.4 300,541.4 301,540.4 302,539.4 303,538.4 304,537.4 305,536.4 306,535.4 307,534.4 308,534.59 309,535.57 310,536.55 311,537.53 312,538.52 313,539.53 314,540.78 314.58,541.51 314.58,541.51 314,541.49 313,541.53 312,541.65 311,541.84 310,542.1 309,542.43 308,542.83 307,543.32 306,543.86 305,544.36 304,544.83 303,545.28 302,545.69 301,546.06 300,546.4 299,546.7 298,546.95 297,547.16 296,547.33 295,547.45 294,547.53 293,547.58 292.96,547.58" fill="#f0a855" fill-opacity="0.11"/>
<polygon points="314.58,541.51 315,542.03 316,543.29 317,544.54 318,545.8 319,546.9 320,547.9 321,548.9 322,549.9 323,550.23 324,549.88 325,549.54 326,549.2 327,548.85 328,548.51 329,548.14 330,547.75 331,547.36 332,546.97 333,546.57 334,546.13 334.82,545.67 334.82,545.67 334,545.68 333,545.65 332,545.6 331,545.52 330,545.41 329,545.27 328,545.09 327,544.89 326,544.66 325,544.38 324,544.08 323,543.73 322,543.35 321,542.95 320,542.6 319,542.29 318,542.01 317,541.78 316,541.62 315,541.52 314.58,541.51" fill="#6e6f78" fill-opacity="0.08"/>
<polygon points="334.82,545.67 335,545.57 336,545.01 337,544.45 338,543.88 339,543.32 340,542.76 341,542.2 342,542.41 343,542.62 344,542.82 345,543.03 346,543.24 347,543.45 348,543.65 349,543.84 350,543.97 351,544.09 352,544.22 352.76,544.32 352.76,544.32 352,544.31 351,544.32 350,544.33 349,544.36 348,544.39 347,544.43 346,544.49 345,544.56 344,544.65 343,544.76 342,544.89 341,545.04 340,545.21 339,545.35 338,545.47 337,545.57 336,545.64 335,545.67 334.82,545.67" fill="#f0a855" fill-opacity="0.11"/>
<polygon points="352.76,544.32 353,544.35 354,544.47 355,544.6 355.21,544.33 355.21,544.33 355,544.34 354,544.32 353,544.32 352.76,544.32" fill="#6e6f78" fill-opacity="0.08"/>
<polygon points="355.21,544.33 356,543.28 357,541.97 358,540.65 359,539.33 360,538.02 361,536.7 362,535.71 363,534.73 364,533.74 365,532.76 366,531.77 367,530.79 368,529.83 369,529.16 370,528.49 371,527.82 372,527.15 373,526.48 374,525.81 375,525.14 376,524.47 377,523.13 378,521.72 379,520.31 380,518.89 381,517.48 382,516.07 383,514.67 384,513.36 385,512.05 386,510.74 387,509.43 388,508.12 389,506.82 390,505.73 391,505.17 392,504.61 393,504.04 394,503.48 395,503.51 396,504.12 397,504.74 398,505.35 399,505.97 400,506.58 401,507.2 402,507.82 403,508.57 404,509.38 405,510.2 406,511.01 407,511.82 408,512.64 408.54,513.07 408.54,513.07 408,513.06 407,513.09 406,513.16 405,513.29 404,513.48 403,513.72 402,514.03 401,514.4 400,514.83 399,515.32 398,515.87 397,516.5 396,517.2 395,517.98 394,518.84 393,519.76 392,520.69 391,521.65 390,522.63 389,523.64 388,524.64 387,525.62 386,526.59 385,527.53 384,528.45 383,529.35 382,530.23 381,531.07 380,531.88 379,532.65 378,533.39 377,534.08 376,534.73 375,535.35 374,535.95 373,536.56 372,537.16 371,537.75 370,538.35 369,538.93 368,539.52 367,540.09 366,540.65 365,541.17 364,541.68 363,542.15 362,542.59 361,543 360,543.37 359,543.69 358,543.95 357,544.15 356,544.28 355.21,544.33" fill="#f0a855" fill-opacity="0.11"/>
<polygon points="408.54,513.07 409,513.45 410,514.03 411,513.67 412,513.32 412.41,513.17 412.41,513.17 412,513.18 411,513.17 410,513.14 409,513.08 408.54,513.07" fill="#6e6f78" fill-opacity="0.08"/>
<polygon points="412.41,513.17 413,512.96 414,512.61 415,512.25 416,511.9 417,511.54 418,511.16 419,510.76 420,510.37 421,509.97 422,509.57 423,509.18 424,508.78 425,507.94 426,506.99 427,506.04 428,505.09 429,505.39 430,506.25 431,507.09 432,507.94 433,507.25 434,505.89 435,504.54 436,503.18 437,502.13 438,501.38 439,500.64 440,499.89 441,499.15 442,498.4 443,497.77 444,497.14 445,496.51 446,495.88 447,495.25 448,495 449,495 450,495 451,495.9 452,497.03 453,498.16 454,499.29 455,500.42 455.86,501.42 455.86,501.42 455,501.41 454,501.47 453,501.6 452,501.81 451,502.09 450,502.46 449,502.9 448,503.37 447,503.87 446,504.39 445,504.89 444,505.39 443,505.88 442,506.37 441,506.84 440,507.3 439,507.74 438,508.16 437,508.57 436,508.95 435,509.29 434,509.58 433,509.8 432,509.95 431,510.07 430,510.24 429,510.48 428,510.79 427,511.13 426,511.43 425,511.69 424,511.92 423,512.1 422,512.28 421,512.44 420,512.59 419,512.72 418,512.83 417,512.93 416,513.02 415,513.08 414,513.13 413,513.16 412.41,513.17" fill="#f0a855" fill-opacity="0.11"/>
<polygon points="455.86,501.42 456,501.58 457,502.78 458,503.99 459,505.19 460,506.39 461,507.6 462,508.8 463,509.99 464,511.16 465,512.33 466,513.51 467,514.68 468,515.85 469,517.03 470,518.2 471,520.25 472,522.31 473,524.36 474,526.42 475,528.47 476,529.77 477,530.31 478,530.85 479,531.39 480,531.93 481,531.41 482,529.83 483,528.25 484,526.66 485,525.08 486,523.5 487,521.9 488,520.3 488.38,519.69 488.38,519.69 488,519.71 487,519.67 486,519.54 485,519.31 484,518.96 483,518.5 482,517.92 481,517.21 480,516.37 479,515.44 478,514.49 477,513.52 476,512.52 475,511.49 474,510.48 473,509.53 472,508.65 471,507.83 470,507.09 469,506.43 468,505.8 467,505.2 466,504.64 465,504.11 464,503.62 463,503.17 462,502.76 461,502.4 460,502.09 459,501.84 458,501.64 457,501.5 456,501.42 455.86,501.42" fill="#6e6f78" fill-opacity="0.08"/>
<polygon points="488.38,519.69 489,518.7 490,517.1 491,515.5 492,513.9 493,512.3 494,512.03 495,513.1 496,514.17 497,515.23 498,516.3 499,517.37 499.14,517.52 499.14,517.52 499,517.51 498,517.52 497,517.59 496,517.74 495,517.95 494,518.24 493,518.61 492,518.98 491,519.28 490,519.51 489,519.65 488.38,519.69" fill="#f0a855" fill-opacity="0.11"/>
<polygon points="499.14,517.52 500,518.43 501,519.5 502,520.54 503,521.58 504,522.62 505,523.67 506,524.19 507,522.62 508,521.06 509,519.49 509.16,519.24 509.16,519.24 509,519.25 508,519.23 507,519.13 506,518.92 505,518.6 504,518.3 503,518.05 502,517.83 501,517.67 500,517.56 499.14,517.52" fill="#6e6f78" fill-opacity="0.08"/>
<polygon points="509.16,519.24 510,517.93 511,516.36 512,514.8 513,513.2 514,511.59 515,509.99 516,508.39 517,506.79 518,505.18 519,503.66 520,502.45 521,501.25 522,500.04 523,498.84 524,497.63 525,496.42 526,495.38 527,494.59 528,493.8 529,493.01 530,492.22 531,491.43 532,490.95 533,491.72 534,492.48 535,493.25 536,494.02 537,494.78 538,495.55 539,496.31 540,497.07 541,497.84 542,498.6 543,499.36 544,500.13 544.56,500.55 544.56,500.55 544,500.54 543,500.57 542,500.64 541,500.76 540,500.93 539,501.16 538,501.45 537,501.81 536,502.22 535,502.71 534,503.28 533,503.92 532,504.65 531,505.46 530,506.3 529,507.14 528,507.98 527,508.82 526,509.67 525,510.52 524,511.36 523,512.18 522,512.97 521,513.74 520,514.48 519,515.2 518,515.89 517,516.53 516,517.11 515,517.63 514,518.08 513,518.47 512,518.78 511,519.02 510,519.18 509.16,519.24" fill="#f0a855" fill-opacity="0.11"/>
<polygon points="544.56,500.55 545,500.89 546,501.65 547,502.42 548,502.64 549,502.31 550,501.99 551,501.67 552,501.34 552.96,501.03 552.96,501.03 552,501.03 551,501.01 550,500.98 549,500.92 548,500.83 547,500.72 546,500.62 545,500.56 544.56,500.55" fill="#6e6f78" fill-opacity="0.08"/>
<polygon points="552.96,501.03 553,501.02 554,500.69 555,500.47 556,500.38 557,500.3 558,500.21 559,500.12 560,500.04 561,499.95 562,499.87 563,499.73 564,499.39 565,499.05 566,498.71 567,498.37 568,498.02 569,497.68 570,497.34 571,497 572,496.76 573,496.51 574,496.27 575,496.02 576,495.78 577,495.54 578,495.29 579,495.05 580,496.29 581,497.91 581.15,498.15 581.15,498.15 581,498.14 580,498.15 579,498.26 578,498.45 577,498.64 576,498.83 575,499.01 574,499.19 573,499.36 572,499.53 571,499.69 570,499.85 569,500 568,500.14 567,500.27 566,500.38 565,500.48 564,500.57 563,500.64 562,500.69 561,500.74 560,500.79 559,500.83 558,500.87 557,500.91 556,500.95 555,500.98 554,501.01 553,501.03 552.96,501.03" fill="#f0a855" fill-opacity="0.11"/>
<polygon points="581.15,498.15 582,499.53 583,501.15 584,502.77 585,504.57 586,506.81 587,509.04 588,511.28 589,513.52 590,515.75 591,517.99 592,520.23 593,522.48 594,524.72 595,526.96 596,529.2 597,527.18 598,525.16 599,523.14 600,521.12 601,519.1 602,517.8 603,516.57 604,515.34 605,514.11 606,513.06 606.16,512.91 606.16,512.91 606,512.92 605,512.91 604,512.84 603,512.69 602,512.46 601,512.14 600,511.73 599,511.17 598,510.45 597,509.58 596,508.53 595,507.3 594,506.13 593,505.02 592,503.98 591,503.01 590,502.12 589,501.31 588,500.58 587,499.94 586,499.4 585,498.96 584,498.63 583,498.38 582,498.22 581.15,498.15" fill="#6e6f78" fill-opacity="0.08"/>
<polygon points="606.16,512.91 607,512.17 608,511.28 609,510.39 610,509.5 611,508.66 612,508.28 613,507.9 614,507.52 615,507.13 616,506.75 617,506.11 618,505.31 619,504.5 620,503.69 621,502.88 622,502.07 623,501.26 624,501.37 625,501.7 626,502.03 627,502.37 628,503.27 629,504.54 630,505.82 630.74,506.77 630.74,506.77 630,506.76 629,506.81 628,506.95 627,507.17 626,507.45 625,507.78 624,508.14 623,508.54 622,508.98 621,509.39 620,509.77 619,510.14 618,510.47 617,510.78 616,511.06 615,511.31 614,511.56 613,511.8 612,512.04 611,512.26 610,512.47 609,512.65 608,512.79 607,512.88 606.16,512.91" fill="#f0a855" fill-opacity="0.11"/>
<polygon points="630.74,506.77 631,507.1 632,508.38 633,509.64 634,510.83 635,512.01 636,513.2 637,514.39 638,515.58 639,516.77 640,517.9 641,518.9 642,519.9 643,520.9 644,521.9 645,522.9 646,524.57 647,526.32 648,528.06 649,529.81 650,531.55 651,534.1 652,537.86 653,541.62 654,544.05 655,545.16 656,546.27 657,545.02 658,542.75 659,540.49 660,538.23 661,535.97 662,533.7 663,531.44 664,529.18 664.35,528.51 664.35,528.51 664,528.53 663,528.49 662,528.32 661,528 660,527.52 659,526.89 658,526.07 657,525.08 656,523.89 655,522.56 654,521.22 653,519.86 652,518.56 651,517.41 650,516.42 649,515.51 648,514.66 647,513.86 646,513.12 645,512.44 644,511.82 643,511.22 642,510.64 641,510.09 640,509.56 639,509.07 638,508.61 637,508.19 636,507.83 635,507.5 634,507.24 633,507.02 632,506.87 631,506.78 630.74,506.77" fill="#6e6f78" fill-opacity="0.08"/>
<polygon points="664.35,528.51 665,527.23 666,525.42 667,523.62 668,521.81 669,520 670,518.19 671,516.38 672,515.25 673,514.2 674,513.15 675,512.1 676,511.05 677,510 678,508.95 679,508.06 680,508.62 681,509.18 682,509.74 683,510.31 684,510.89 685,511.52 686,512.15 687,512.78 688,513.41 689,514.04 690,514.77 691,515.52 692,516.26 692.3,516.48 692.3,516.48 692,516.47 691,516.49 690,516.54 689,516.65 688,516.8 687,517.01 686,517.26 685,517.56 684,517.92 683,518.34 682,518.82 681,519.36 680,519.97 679,520.64 678,521.39 677,522.13 676,522.86 675,523.56 674,524.24 673,524.9 672,525.54 671,526.15 670,526.74 669,527.24 668,527.68 667,528.03 666,528.29 665,528.46 664.35,528.51" fill="#f0a855" fill-opacity="0.11"/>
<polygon points="692.3,516.48 693,517.01 694,517.75 695,518.16 696,518.05 697,517.94 698,517.83 699,517.72 700,517.61 701,517.6 702,517.6 703,517.6 704,517.6 705,517.6 706,517.6 707,517.6 708,517.6 709,517.6 710,517.6 711,517.6 712,517.71 713,517.82 714,517.93 715,518.04 716,518.15 717,518.76 718,519.89 719,521.02 720,522.15 721,523.27 722,524.4 723,526.42 724,528.44 725,530.46 726,532.47 727,534.49 728,536.05 729,537.31 730,538.56 731,539.82 732,541.07 733,542.31 734,543.38 735,544.45 736,545.52 737,546.59 738,545.92 739,544.81 740,543.71 741,542.6 742,541.5 743,540.39 744,539.26 745,537.81 746,536.36 747,534.91 747.07,534.82 747.07,534.82 747,534.82 746,534.82 745,534.73 744,534.54 743,534.26 742,533.9 741,533.45 740,532.9 739,532.26 738,531.51 737,530.65 736,529.7 735,528.76 734,527.83 733,526.9 732,525.98 731,525.08 730,524.21 729,523.35 728,522.52 727,521.71 726,520.95 725,520.27 724,519.66 723,519.14 722,518.7 721,518.36 720,518.07 719,517.83 718,517.64 717,517.5 716,517.43 715,517.39 714,517.35 713,517.31 712,517.28 711,517.26 710,517.24 709,517.22 708,517.19 707,517.17 706,517.14 705,517.11 704,517.09 703,517.06 702,517.02 701,516.99 700,516.95 699,516.91 698,516.86 697,516.81 696,516.74 695,516.66 694,516.57 693,516.5 692.3,516.48" fill="#6e6f78" fill-opacity="0.08"/>
<polygon points="747.07,534.82 748,533.47 749,531.95 750,530.33 751,528.71 752,527.1 752.8,525.8 752.8,533.2 752,533.65 751,534.04 750,534.35 749,534.59 748,534.75 747.07,534.82" fill="#f0a855" fill-opacity="0.11"/>
<polygon points="-2,514.1 -1,514.1 0,514.1 0,514.1 0,514.1 0,514.1 -1,514.1 -2,514.1" fill="#6e6f78" fill-opacity="0.08"/>
<polygon points="17.44,512.53 18,513.06 19,514.01 20,516.03 21,518.18 22,520.32 23,522.47 24,524.67 25,527.32 26,529.98 27,532.64 28,535.3 29,537.51 30,539.73 31,541.12 32,539.23 33,537.33 34,535.44 35,533.55 36,531.35 37,528.86 38,526.37 39,523.88 39.12,523.57 39.12,523.57 39,523.59 38,523.57 37,523.44 36,523.18 35,522.79 34,522.28 33,521.66 32,520.92 31,520.05 30,519.05 29,518.08 28,517.15 27,516.29 26,515.52 25,514.84 24,514.24 23,513.75 22,513.34 21,513.01 20,512.76 19,512.61 18,512.54 17.44,512.53" fill="#6e6f78" fill-opacity="0.08"/>
<polygon points="104.05,498.73 105,499.86 106,501.05 107,502.24 108,503.42 109,504.81 110,506.33 111,507.85 112,509.37 113,510.89 114,512.29 115,513.25 116,514.21 117,515.16 118,516.12 119,517.08 120,518.04 121,519.07 122,520.75 123,522.43 124,524.12 125,525.8 126,528.05 127,530.3 128,532.55 129,534.8 130,537.05 131,535.37 132,532.71 133,530.05 134,527.4 135,524.85 136,522.47 137,520.1 138,517.72 138.16,517.35 138.16,517.35 138,517.36 137,517.35 136,517.22 135,516.97 134,516.59 133,516.08 132,515.42 131,514.6 130,513.62 129,512.51 128,511.45 127,510.45 126,509.51 125,508.63 124,507.82 123,507.05 122,506.32 121,505.64 120,505 119,504.38 118,503.78 117,503.2 116,502.63 115,502.08 114,501.55 113,501.04 112,500.58 111,500.16 110,499.8 109,499.49 108,499.23 107,499.04 106,498.88 105,498.78 104.05,498.73" fill="#6e6f78" fill-opacity="0.08"/>
<polygon points="200.42,496.78 201,497.14 202,497.68 203,497.44 204,497.2 205,496.97 205.38,496.88 205.38,496.88 205,496.88 204,496.88 203,496.86 202,496.83 201,496.79 200.42,496.78" fill="#6e6f78" fill-opacity="0.08"/>
<polygon points="213.59,496.67 214,497.18 215,498.42 216,499.66 217,500.89 218,502.13 219,503.68 220,505.36 221,507.04 222,508.73 223,510.6 224,512.6 225,514.6 226,516.6 227,518.22 228,519.45 229,520.69 230,521.93 231,523.16 232,524.4 233,525.66 234,526.92 235,528.18 236,529.44 237,530.7 238,532.06 239,533.5 240,534.94 241,536.38 242,537.81 243,538.9 244,539.9 245,540.9 246,541.03 247,539.86 248,538.69 249,537.52 250,536.59 251,536.2 252,535.82 253,535.44 254,535.06 255,534.68 256,535.32 257,536.21 258,537.1 259,538 260,538.89 261,539.79 262,540.68 263,541.57 264,542.66 265,544.17 266,545.69 267,547.21 268,548.73 269,550.25 270,550.73 271,551.09 272,551.45 273,551.82 274,552.18 275,552.49 276,552.72 277,552.94 278,553.17 279,553.39 280,553.62 281,553.73 282,553.37 283,553.01 284,552.65 285,552.29 286,551.93 287,551.57 288,551.21 289,550.57 290,549.81 291,549.06 292,548.3 293,547.55 294,546.79 295,546.03 295.54,545.63 295.54,545.63 295,545.63 294,545.62 293,545.56 292,545.47 291,545.33 290,545.15 289,544.93 288,544.67 287,544.36 286,544.02 285,543.64 284,543.23 283,542.79 282,542.3 281,541.78 280,541.21 279,540.62 278,540.02 277,539.4 276,538.75 275,538.09 274,537.41 273,536.71 272,536 271,535.26 270,534.51 269,533.75 268,532.96 267,532.22 266,531.51 265,530.84 264,530.2 263,529.61 262,529.05 261,528.5 260,527.96 259,527.44 258,526.94 257,526.46 256,526 255,525.56 254,525.13 253,524.66 252,524.15 251,523.59 250,523 249,522.35 248,521.64 247,520.83 246,519.93 245,518.93 244,517.89 243,516.84 242,515.8 241,514.75 240,513.73 239,512.73 238,511.74 237,510.78 236,509.84 235,508.91 234,508 233,507.1 232,506.22 231,505.36 230,504.52 229,503.69 228,502.89 227,502.1 226,501.34 225,500.61 224,499.95 223,499.35 222,498.82 221,498.35 220,497.94 219,497.59 218,497.3 217,497.07 216,496.89 215,496.76 214,496.68 213.59,496.67" fill="#6e6f78" fill-opacity="0.08"/>
<polygon points="314.6,541.53 315,542.03 316,543.29 317,544.54 318,545.8 319,546.9 320,547.9 321,548.9 322,549.9 323,550.23 324,549.88 325,549.54 326,549.2 327,548.85 328,548.51 329,548.14 330,547.75 331,547.36 332,546.97 333,546.57 334,546.13 335,545.57 335.68,545.19 335.68,545.19 335,545.19 334,545.18 333,545.13 332,545.06 331,544.97 330,544.86 329,544.72 328,544.56 327,544.37 326,544.16 325,543.92 324,543.66 323,543.36 322,543.04 321,542.71 320,542.42 319,542.16 318,541.94 317,541.75 316,541.62 315,541.54 314.6,541.53" fill="#6e6f78" fill-opacity="0.08"/>
<polygon points="352.39,544.27 353,544.35 354,544.47 355,544.6 355.24,544.28 355.24,544.28 355,544.29 354,544.28 353,544.27 352.39,544.27" fill="#6e6f78" fill-opacity="0.08"/>
<polygon points="457,502.79 458,503.99 459,505.19 460,506.39 461,507.6 462,508.8 463,509.99 464,511.16 465,512.33 466,513.51 467,514.68 468,515.85 469,517.03 470,518.2 471,520.25 472,522.31 473,524.36 474,526.42 475,528.47 476,529.77 477,530.31 478,530.85 479,531.39 480,531.93 481,531.41 482,529.83 483,528.25 484,526.66 485,525.08 486,523.5 487,521.9 488,520.3 489,518.7 489.39,518.08 489.39,518.08 489,518.1 488,518.07 487,517.97 486,517.78 485,517.51 484,517.15 483,516.7 482,516.15 481,515.51 480,514.75 479,513.94 478,513.11 477,512.27 476,511.42 475,510.55 474,509.7 473,508.91 472,508.18 471,507.51 470,506.9 469,506.37 468,505.86 467,505.39 466,504.95 465,504.55 464,504.18 463,503.85 462,503.56 461,503.31 460,503.1 459,502.95 458,502.84 457,502.79" fill="#6e6f78" fill-opacity="0.08"/>
<polygon points="498.52,516.85 499,517.37 500,518.43 501,519.5 502,520.54 503,521.58 504,522.62 505,523.67 506,524.19 507,522.62 508,521.06 509,519.49 509.61,518.55 509.61,518.55 509,518.56 508,518.52 507,518.4 506,518.2 505,517.92 504,517.64 503,517.41 502,517.21 501,517.05 500,516.94 499,516.86 498.52,516.85" fill="#6e6f78" fill-opacity="0.08"/>
<polygon points="546.51,502.04 547,502.42 548,502.64 549,502.31 549.71,502.08 549.71,502.08 549,502.09 548,502.08 547,502.05 546.51,502.04" fill="#6e6f78" fill-opacity="0.08"/>
<polygon points="581.54,498.79 582,499.53 583,501.15 584,502.77 585,504.57 586,506.81 587,509.04 588,511.28 589,513.52 590,515.75 591,517.99 592,520.23 593,522.48 594,524.72 595,526.96 596,529.2 597,527.18 598,525.16 599,523.14 600,521.12 601,519.1 602,517.8 603,516.57 604,515.34 605,514.11 606,513.06 607,512.17 607.79,511.47 607.79,511.47 607,511.48 606,511.44 605,511.37 604,511.24 603,511.04 602,510.78 601,510.45 600,510.04 599,509.51 598,508.87 597,508.1 596,507.19 595,506.15 594,505.16 593,504.24 592,503.37 591,502.57 590,501.84 589,501.19 588,500.6 587,500.1 586,499.67 585,499.33 584,499.09 583,498.91 582,498.81 581.54,498.79" fill="#6e6f78" fill-opacity="0.08"/>
<polygon points="630.96,507.04 631,507.1 632,508.38 633,509.64 634,510.83 635,512.01 636,513.2 637,514.39 638,515.58 639,516.77 640,517.9 641,518.9 642,519.9 643,520.9 644,521.9 645,522.9 646,524.57 647,526.32 648,528.06 649,529.81 650,531.55 651,534.1 652,537.86 653,541.62 654,544.05 655,545.16 656,546.27 657,545.02 658,542.75 659,540.49 660,538.23 661,535.97 662,533.7 663,531.44 664,529.18 665,527.23 665.55,526.24 665.55,526.24 665,526.26 664,526.21 663,526.07 662,525.82 661,525.45 660,524.95 659,524.32 658,523.55 657,522.64 656,521.58 655,520.41 654,519.24 653,518.07 652,516.95 651,515.96 650,515.1 649,514.32 648,513.59 647,512.9 646,512.27 645,511.69 644,511.15 643,510.64 642,510.16 641,509.7 640,509.26 639,508.85 638,508.48 637,508.14 636,507.85 635,507.59 634,507.38 633,507.22 632,507.1 631,507.04 630.96,507.04" fill="#6e6f78" fill-opacity="0.08"/>
<polygon points="693.08,517.07 694,517.75 695,518.16 696,518.05 697,517.94 698,517.83 699,517.72 700,517.61 701,517.6 702,517.6 703,517.6 704,517.6 705,517.6 706,517.6 707,517.6 708,517.6 709,517.6 710,517.6 711,517.6 712,517.71 713,517.82 714,517.93 715,518.04 716,518.15 717,518.76 718,519.89 719,521.02 720,522.15 721,523.27 722,524.4 723,526.42 724,528.44 725,530.46 726,532.47 727,534.49 728,536.05 729,537.31 730,538.56 731,539.82 732,541.07 733,542.31 734,543.38 735,544.45 736,545.52 737,546.59 738,545.92 739,544.81 740,543.71 741,542.6 742,541.5 743,540.39 744,539.26 745,537.81 746,536.36 747,534.91 748,533.47 748.28,533.05 748.28,533.05 748,533.06 747,533.04 746,532.95 745,532.79 744,532.55 743,532.23 742,531.85 741,531.39 740,530.86 739,530.25 738,529.56 737,528.79 736,527.94 735,527.11 734,526.29 733,525.48 732,524.68 731,523.91 730,523.15 729,522.42 728,521.72 727,521.04 726,520.4 725,519.83 724,519.33 723,518.9 722,518.54 721,518.26 720,518.03 719,517.83 718,517.68 717,517.57 716,517.52 715,517.49 714,517.46 713,517.44 712,517.42 711,517.41 710,517.4 709,517.39 708,517.38 707,517.37 706,517.36 705,517.35 704,517.34 703,517.32 702,517.31 701,517.3 700,517.28 699,517.27 698,517.25 697,517.22 696,517.18 695,517.14 694,517.09 693.08,517.07" fill="#6e6f78" fill-opacity="0.08"/>
<polygon points="-2,514.1 -1,514.1 0,514.1 0,514.1 0,514.1 0,514.1 -1,514.1 -2,514.1" fill="#6e6f78" fill-opacity="0.08"/>
<polygon points="17.65,512.73 18,513.06 19,514.01 20,516.03 21,518.18 22,520.32 23,522.47 24,524.67 25,527.32 26,529.98 27,532.64 28,535.3 29,537.51 30,539.73 31,541.12 32,539.23 33,537.33 34,535.44 35,533.55 36,531.35 37,528.86 38,526.37 39,523.88 39.6,522.39 39.6,522.39 39,522.41 38,522.36 37,522.2 36,521.94 35,521.57 34,521.09 33,520.53 32,519.87 31,519.11 30,518.24 29,517.4 28,516.61 27,515.87 26,515.21 25,514.63 24,514.13 23,513.72 22,513.38 21,513.1 20,512.9 19,512.78 18,512.73 17.65,512.73" fill="#6e6f78" fill-opacity="0.08"/>
<polygon points="105.08,499.95 106,501.05 107,502.24 108,503.42 109,504.81 110,506.33 111,507.85 112,509.37 113,510.89 114,512.29 115,513.25 116,514.21 117,515.16 118,516.12 119,517.08 120,518.04 121,519.07 122,520.75 123,522.43 124,524.12 125,525.8 126,528.05 127,530.3 128,532.55 129,534.8 130,537.05 131,535.37 132,532.71 133,530.05 134,527.4 135,524.85 136,522.47 137,520.1 138,517.72 138.78,515.86 138.78,515.86 138,515.87 137,515.8 136,515.63 135,515.36 134,514.99 133,514.5 132,513.89 131,513.15 130,512.28 129,511.3 128,510.38 127,509.51 126,508.69 125,507.93 124,507.23 123,506.56 122,505.94 121,505.36 120,504.82 119,504.3 118,503.79 117,503.31 116,502.84 115,502.4 114,501.97 113,501.56 112,501.2 111,500.88 110,500.6 109,500.38 108,500.2 107,500.08 106,499.99 105.08,499.95" fill="#6e6f78" fill-opacity="0.08"/>
<polygon points="201.95,497.65 202,497.68 202.12,497.65 202.12,497.65 202,497.65 201.95,497.65" fill="#6e6f78" fill-opacity="0.08"/>
<polygon points="214.03,497.22 215,498.42 216,499.66 217,500.89 218,502.13 219,503.68 220,505.36 221,507.04 222,508.73 223,510.6 224,512.6 225,514.6 226,516.6 227,518.22 228,519.45 229,520.69 230,521.93 231,523.16 232,524.4 233,525.66 234,526.92 235,528.18 236,529.44 237,530.7 238,532.06 239,533.5 240,534.94 241,536.38 242,537.81 243,538.9 244,539.9 245,540.9 246,541.03 247,539.86 248,538.69 249,537.52 250,536.59 251,536.2 252,535.82 253,535.44 254,535.06 255,534.68 256,535.32 257,536.21 258,537.1 259,538 260,538.89 261,539.79 262,540.68 263,541.57 264,542.66 265,544.17 266,545.69 267,547.21 268,548.73 269,550.25 270,550.73 271,551.09 272,551.45 273,551.82 274,552.18 275,552.49 276,552.72 277,552.94 278,553.17 279,553.39 280,553.62 281,553.73 282,553.37 283,553.01 284,552.65 285,552.29 286,551.93 287,551.57 288,551.21 289,550.57 290,549.81 291,549.06 292,548.3 293,547.55 294,546.79 295,546.03 296,545.28 297,544.4 297.67,543.73 297.67,543.73 297,543.73 296,543.71 295,543.65 294,543.55 293,543.42 292,543.26 291,543.06 290,542.83 289,542.55 288,542.24 287,541.89 286,541.51 285,541.1 284,540.66 283,540.18 282,539.68 281,539.14 280,538.57 279,537.98 278,537.37 277,536.75 276,536.11 275,535.46 274,534.79 273,534.11 272,533.41 271,532.7 270,531.98 269,531.24 268,530.49 267,529.78 266,529.09 265,528.44 264,527.82 263,527.24 262,526.67 261,526.12 260,525.58 259,525.06 258,524.55 257,524.06 256,523.58 255,523.12 254,522.67 253,522.18 252,521.66 251,521.1 250,520.51 249,519.87 248,519.18 247,518.41 246,517.57 245,516.65 244,515.69 243,514.74 242,513.79 241,512.85 240,511.92 239,511.02 238,510.13 237,509.27 236,508.43 235,507.6 234,506.8 233,506 232,505.23 231,504.48 230,503.74 229,503.03 228,502.33 227,501.66 226,501.01 225,500.4 224,499.84 223,499.34 222,498.89 221,498.51 220,498.17 219,497.89 218,497.66 217,497.49 216,497.35 215,497.26 214.03,497.22" fill="#6e6f78" fill-opacity="0.08"/>
<polygon points="314.23,541.07 315,542.03 316,543.29 317,544.54 318,545.8 319,546.9 320,547.9 321,548.9 322,549.9 323,550.23 324,549.88 325,549.54 326,549.2 327,548.85 328,548.51 329,548.14 330,547.75 331,547.36 332,546.97 333,546.57 334,546.13 335,545.57 336,545.01 336.72,544.6 336.72,544.6 336,544.61 335,544.59 334,544.55 333,544.49 332,544.41 331,544.31 330,544.19 329,544.05 328,543.89 327,543.71 326,543.5 325,543.28 324,543.03 323,542.76 322,542.47 321,542.18 320,541.91 319,541.68 318,541.47 317,541.3 316,541.18 315,541.09 314.23,541.07" fill="#6e6f78" fill-opacity="0.08"/>
<polygon points="350.7,544.05 351,544.09 352,544.22 353,544.35 354,544.47 355,544.6 355.38,544.09 355.38,544.09 355,544.11 354,544.09 353,544.07 352,544.06 351,544.05 350.7,544.05" fill="#6e6f78" fill-opacity="0.08"/>
<polygon points="458.12,504.13 459,505.19 460,506.39 461,507.6 462,508.8 463,509.99 464,511.16 465,512.33 466,513.51 467,514.68 468,515.85 469,517.03 470,518.2 471,520.25 472,522.31 473,524.36 474,526.42 475,528.47 476,529.77 477,530.31 478,530.85 479,531.39 480,531.93 481,531.41 482,529.83 483,528.25 484,526.66 485,525.08 486,523.5 487,521.9 488,520.3 489,518.7 490,517.1 490.06,517 490.06,517 490,517 489,517 488,516.93 487,516.8 486,516.6 485,516.33 484,515.99 483,515.57 482,515.07 481,514.49 480,513.82 479,513.11 478,512.39 477,511.66 476,510.93 475,510.19 474,509.47 473,508.81 472,508.19 471,507.64 470,507.14 469,506.71 468,506.3 467,505.93 466,505.58 465,505.27 464,504.99 463,504.75 462,504.55 461,504.38 460,504.25 459,504.17 458.12,504.13" fill="#6e6f78" fill-opacity="0.08"/>
<polygon points="497.94,516.24 498,516.3 499,517.37 500,518.43 501,519.5 502,520.54 503,521.58 504,522.62 505,523.67 506,524.19 507,522.62 508,521.06 509,519.49 510,517.93 510,517.93 509,517.93 508,517.87 507,517.74 506,517.55 505,517.29 504,517.04 503,516.82 502,516.63 501,516.48 500,516.36 499,516.28 498,516.24 497.94,516.24" fill="#6e6f78" fill-opacity="0.08"/>
<polygon points="581.95,499.45 582,499.53 583,501.15 584,502.77 585,504.57 586,506.81 587,509.04 588,511.28 589,513.52 590,515.75 591,517.99 592,520.23 593,522.48 594,524.72 595,526.96 596,529.2 597,527.18 598,525.16 599,523.14 600,521.12 601,519.1 602,517.8 603,516.57 604,515.34 605,514.11 606,513.06 607,512.17 608,511.28 608.92,510.46 608.92,510.46 608,510.46 607,510.43 606,510.36 605,510.25 604,510.1 603,509.89 602,509.63 601,509.31 600,508.93 599,508.45 598,507.87 597,507.19 596,506.4 595,505.51 594,504.66 593,503.88 592,503.14 591,502.47 590,501.86 589,501.32 588,500.84 587,500.43 586,500.09 585,499.82 584,499.64 583,499.51 582,499.45 581.95,499.45" fill="#6e6f78" fill-opacity="0.08"/>
<polygon points="631.02,507.12 632,508.38 633,509.64 634,510.83 635,512.01 636,513.2 637,514.39 638,515.58 639,516.77 640,517.9 641,518.9 642,519.9 643,520.9 644,521.9 645,522.9 646,524.57 647,526.32 648,528.06 649,529.81 650,531.55 651,534.1 652,537.86 653,541.62 654,544.05 655,545.16 656,546.27 657,545.02 658,542.75 659,540.49 660,538.23 661,535.97 662,533.7 663,531.44 664,529.18 665,527.23 666,525.42 666.56,524.41 666.56,524.41 666,524.43 665,524.39 664,524.28 663,524.09 662,523.8 661,523.41 660,522.91 659,522.31 658,521.6 657,520.77 656,519.81 655,518.77 654,517.73 653,516.7 652,515.72 651,514.85 650,514.09 649,513.41 648,512.76 647,512.16 646,511.6 645,511.09 644,510.63 643,510.19 642,509.76 641,509.37 640,508.99 639,508.64 638,508.32 637,508.04 636,507.79 635,507.57 634,507.4 633,507.26 632,507.17 631.02,507.12" fill="#6e6f78" fill-opacity="0.08"/>
<polygon points="693.39,517.3 694,517.75 695,518.16 696,518.05 697,517.94 698,517.83 699,517.72 700,517.61 701,517.6 702,517.6 703,517.6 704,517.6 705,517.6 706,517.6 707,517.6 708,517.6 709,517.6 710,517.6 711,517.6 712,517.71 713,517.82 714,517.93 715,518.04 716,518.15 717,518.76 718,519.89 719,521.02 720,522.15 721,523.27 722,524.4 723,526.42 724,528.44 725,530.46 726,532.47 727,534.49 728,536.05 729,537.31 730,538.56 731,539.82 732,541.07 733,542.31 734,543.38 735,544.45 736,545.52 737,546.59 738,545.92 739,544.81 740,543.71 741,542.6 742,541.5 743,540.39 744,539.26 745,537.81 746,536.36 747,534.91 748,533.47 749,531.95 749.21,531.6 749.21,531.6 749,531.61 748,531.6 747,531.53 746,531.39 745,531.2 744,530.94 743,530.61 742,530.23 741,529.79 740,529.28 739,528.71 738,528.08 737,527.38 736,526.62 735,525.88 734,525.15 733,524.44 732,523.73 731,523.05 730,522.39 729,521.76 728,521.15 727,520.56 726,520.01 725,519.52 724,519.09 723,518.72 722,518.42 721,518.19 720,517.99 719,517.82 718,517.7 717,517.61 716,517.57 715,517.54 714,517.52 713,517.51 712,517.5 711,517.49 710,517.48 709,517.48 708,517.47 707,517.47 706,517.46 705,517.46 704,517.45 703,517.45 702,517.44 701,517.43 700,517.43 699,517.42 698,517.41 697,517.39 696,517.37 695,517.34 694,517.31 693.39,517.3" fill="#6e6f78" fill-opacity="0.08"/>
<polygon points="-2,514.1 -1,514.1 0,514.1 0,514.1 0,514.1 0,514.1 -1,514.1 -2,514.1" fill="#6e6f78" fill-opacity="0.08"/>
<polygon points="17.81,512.88 18,513.06 19,514.01 20,516.03 21,518.18 22,520.32 23,522.47 24,524.67 25,527.32 26,529.98 27,532.64 28,535.3 29,537.51 30,539.73 31,541.12 32,539.23 33,537.33 34,535.44 35,533.55 36,531.35 37,528.86 38,526.37 39,523.88 39.96,521.48 39.96,521.48 39,521.49 38,521.4 37,521.24 36,520.98 35,520.63 34,520.2 33,519.69 32,519.09 31,518.42 30,517.65 29,516.91 28,516.22 27,515.58 26,515.01 25,514.5 24,514.07 23,513.71 22,513.42 21,513.19 20,513.02 19,512.92 18,512.88 17.81,512.88" fill="#6e6f78" fill-opacity="0.08"/>
<polygon points="105.99,501.03 106,501.05 107,502.24 108,503.42 109,504.81 110,506.33 111,507.85 112,509.37 113,510.89 114,512.29 115,513.25 116,514.21 117,515.16 118,516.12 119,517.08 120,518.04 121,519.07 122,520.75 123,522.43 124,524.12 125,525.8 126,528.05 127,530.3 128,532.55 129,534.8 130,537.05 131,535.37 132,532.71 133,530.05 134,527.4 135,524.85 136,522.47 137,520.1 138,517.72 139,515.34 139.24,514.78 139.24,514.78 139,514.79 138,514.77 137,514.67 136,514.49 135,514.22 134,513.87 133,513.41 132,512.85 131,512.19 130,511.41 129,510.55 128,509.73 127,508.96 126,508.25 125,507.58 124,506.97 123,506.39 122,505.85 121,505.35 120,504.89 119,504.45 118,504.03 117,503.62 116,503.23 115,502.86 114,502.51 113,502.18 112,501.89 111,501.64 110,501.43 109,501.27 108,501.15 107,501.07 106,501.03 105.99,501.03" fill="#6e6f78" fill-opacity="0.08"/>
<polygon points="214.49,497.79 215,498.42 216,499.66 217,500.89 218,502.13 219,503.68 220,505.36 221,507.04 222,508.73 223,510.6 224,512.6 225,514.6 226,516.6 227,518.22 228,519.45 229,520.69 230,521.93 231,523.16 232,524.4 233,525.66 234,526.92 235,528.18 236,529.44 237,530.7 238,532.06 239,533.5 240,534.94 241,536.38 242,537.81 243,538.9 244,539.9 245,540.9 246,541.03 247,539.86 248,538.69 249,537.52 250,536.59 251,536.2 252,535.82 253,535.44 254,535.06 255,534.68 256,535.32 257,536.21 258,537.1 259,538 260,538.89 261,539.79 262,540.68 263,541.57 264,542.66 265,544.17 266,545.69 267,547.21 268,548.73 269,550.25 270,550.73 271,551.09 272,551.45 273,551.82 274,552.18 275,552.49 276,552.72 277,552.94 278,553.17 279,553.39 280,553.62 281,553.73 282,553.37 283,553.01 284,552.65 285,552.29 286,551.93 287,551.57 288,551.21 289,550.57 290,549.81 291,549.06 292,548.3 293,547.55 294,546.79 295,546.03 296,545.28 297,544.4 298,543.4 299,542.4 299.5,541.9 299.5,541.9 299,541.91 298,541.89 297,541.84 296,541.76 295,541.64 294,541.49 293,541.31 292,541.1 291,540.86 290,540.58 289,540.27 288,539.93 287,539.55 286,539.15 285,538.72 284,538.26 283,537.78 282,537.26 281,536.72 280,536.15 279,535.56 278,534.97 277,534.35 276,533.73 275,533.09 274,532.44 273,531.78 272,531.1 271,530.42 270,529.72 269,529.02 268,528.3 267,527.62 266,526.96 265,526.33 264,525.73 263,525.16 262,524.61 261,524.07 260,523.54 259,523.03 258,522.52 257,522.03 256,521.56 255,521.09 254,520.64 253,520.15 252,519.64 251,519.1 250,518.52 249,517.91 248,517.26 247,516.53 246,515.75 245,514.9 244,514.03 243,513.16 242,512.29 241,511.44 240,510.6 239,509.78 238,508.98 237,508.21 236,507.45 235,506.71 234,505.99 233,505.29 232,504.6 231,503.94 230,503.29 229,502.67 228,502.06 227,501.48 226,500.91 225,500.39 224,499.91 223,499.48 222,499.11 221,498.78 220,498.51 219,498.28 218,498.09 217,497.96 216,497.86 215,497.8 214.49,497.79" fill="#6e6f78" fill-opacity="0.08"/>
<polygon points="313.59,540.26 314,540.78 315,542.03 316,543.29 317,544.54 318,545.8 319,546.9 320,547.9 321,548.9 322,549.9 323,550.23 324,549.88 325,549.54 326,549.2 327,548.85 328,548.51 329,548.14 330,547.75 331,547.36 332,546.97 333,546.57 334,546.13 335,545.57 336,545.01 337,544.45 337.97,543.9 337.97,543.9 337,543.9 336,543.89 335,543.85 334,543.79 333,543.71 332,543.62 331,543.5 330,543.37 329,543.23 328,543.06 327,542.88 326,542.68 325,542.46 324,542.22 323,541.96 322,541.68 321,541.41 320,541.16 319,540.93 318,540.73 317,540.56 316,540.43 315,540.33 314,540.27 313.59,540.26" fill="#6e6f78" fill-opacity="0.08"/>
<polygon points="347.94,543.64 348,543.65 349,543.84 350,543.97 351,544.09 352,544.22 353,544.35 354,544.47 355,544.6 355.64,543.75 355.64,543.75 355,543.76 354,543.74 353,543.71 352,543.69 351,543.67 350,543.66 349,543.65 348,543.64 347.94,543.64" fill="#6e6f78" fill-opacity="0.08"/>
<polygon points="459.21,505.45 460,506.39 461,507.6 462,508.8 463,509.99 464,511.16 465,512.33 466,513.51 467,514.68 468,515.85 469,517.03 470,518.2 471,520.25 472,522.31 473,524.36 474,526.42 475,528.47 476,529.77 477,530.31 478,530.85 479,531.39 480,531.93 481,531.41 482,529.83 483,528.25 484,526.66 485,525.08 486,523.5 487,521.9 488,520.3 489,518.7 490,517.1 490.5,516.3 490.5,516.3 490,516.32 489,516.29 488,516.21 487,516.07 486,515.88 485,515.62 484,515.3 483,514.92 482,514.47 481,513.96 480,513.37 479,512.75 478,512.12 477,511.49 476,510.86 475,510.22 474,509.61 473,509.04 472,508.53 471,508.07 470,507.66 469,507.3 468,506.98 467,506.68 466,506.41 465,506.17 464,505.96 463,505.79 462,505.65 461,505.54 460,505.47 459.21,505.45" fill="#6e6f78" fill-opacity="0.08"/>
<polygon points="497.53,515.8 498,516.3 499,517.37 500,518.43 501,519.5 502,520.54 503,521.58 504,522.62 505,523.67 506,524.19 507,522.62 508,521.06 509,519.49 510,517.93 510.32,517.43 510.32,517.43 510,517.44 509,517.42 508,517.35 507,517.23 506,517.05 505,516.81 504,516.58 503,516.38 502,516.2 501,516.05 500,515.94 499,515.85 498,515.8 497.53,515.8" fill="#6e6f78" fill-opacity="0.08"/>
<polygon points="582.36,500.12 583,501.15 584,502.77 585,504.57 586,506.81 587,509.04 588,511.28 589,513.52 590,515.75 591,517.99 592,520.23 593,522.48 594,524.72 595,526.96 596,529.2 597,527.18 598,525.16 599,523.14 600,521.12 601,519.1 602,517.8 603,516.57 604,515.34 605,514.11 606,513.06 607,512.17 608,511.28 609,510.39 609.73,509.74 609.73,509.74 609,509.75 608,509.72 607,509.67 606,509.59 605,509.47 604,509.31 603,509.11 602,508.86 601,508.56 600,508.21 599,507.77 598,507.26 597,506.66 596,505.97 595,505.18 594,504.45 593,503.77 592,503.14 591,502.57 590,502.05 589,501.59 588,501.19 587,500.85 586,500.58 585,500.37 584,500.22 583,500.14 582.36,500.12" fill="#6e6f78" fill-opacity="0.08"/>
<polygon points="631.02,507.13 632,508.38 633,509.64 634,510.83 635,512.01 636,513.2 637,514.39 638,515.58 639,516.77 640,517.9 641,518.9 642,519.9 643,520.9 644,521.9 645,522.9 646,524.57 647,526.32 648,528.06 649,529.81 650,531.55 651,534.1 652,537.86 653,541.62 654,544.05 655,545.16 656,546.27 657,545.02 658,542.75 659,540.49 660,538.23 661,535.97 662,533.7 663,531.44 664,529.18 665,527.23 666,525.42 667,523.62 667.39,522.9 667.39,522.9 667,522.92 666,522.89 665,522.81 664,522.66 663,522.44 662,522.14 661,521.75 660,521.27 659,520.7 658,520.04 657,519.27 656,518.41 655,517.47 654,516.54 653,515.62 652,514.74 651,513.97 650,513.29 649,512.67 648,512.1 647,511.56 646,511.07 645,510.61 644,510.2 643,509.81 642,509.43 641,509.08 640,508.75 639,508.44 638,508.17 637,507.92 636,507.7 635,507.51 634,507.36 633,507.25 632,507.17 631.02,507.13" fill="#6e6f78" fill-opacity="0.08"/>
<polygon points="693.4,517.31 694,517.75 695,518.16 696,518.05 697,517.94 698,517.83 699,517.72 700,517.61 701,517.6 702,517.6 703,517.6 704,517.6 705,517.6 706,517.6 707,517.6 708,517.6 709,517.6 710,517.6 711,517.6 712,517.71 713,517.82 714,517.93 715,518.04 716,518.15 717,518.76 718,519.89 719,521.02 720,522.15 721,523.27 722,524.4 723,526.42 724,528.44 725,530.46 726,532.47 727,534.49 728,536.05 729,537.31 730,538.56 731,539.82 732,541.07 733,542.31 734,543.38 735,544.45 736,545.52 737,546.59 738,545.92 739,544.81 740,543.71 741,542.6 742,541.5 743,540.39 744,539.26 745,537.81 746,536.36 747,534.91 748,533.47 749,531.95 749.96,530.39 749.96,530.39 749,530.4 748,530.34 747,530.24 746,530.08 745,529.87 744,529.6 743,529.28 742,528.91 741,528.48 740,528.01 739,527.48 738,526.9 737,526.26 736,525.58 735,524.91 734,524.25 733,523.61 732,522.98 731,522.37 730,521.78 729,521.22 728,520.68 727,520.16 726,519.68 725,519.25 724,518.87 723,518.55 722,518.29 721,518.08 720,517.91 719,517.77 718,517.66 717,517.58 716,517.54 715,517.52 714,517.5 713,517.49 712,517.48 711,517.47 710,517.47 709,517.46 708,517.46 707,517.45 706,517.45 705,517.44 704,517.44 703,517.43 702,517.43 701,517.42 700,517.42 699,517.41 698,517.4 697,517.38 696,517.37 695,517.34 694,517.32 693.4,517.31" fill="#6e6f78" fill-opacity="0.08"/>
<polygon points="-2,514.1 -1,514.1 0,514.1 0,514.1 0,514.1 0,514.1 -1,514.1 -2,514.1" fill="#6e6f78" fill-opacity="0.08"/>
<polygon points="18,513.06 18,513.06 19,514.01 20,516.03 21,518.18 22,520.32 23,522.47 24,524.67 25,527.32 26,529.98 27,532.64 28,535.3 29,537.51 30,539.73 31,541.12 32,539.23 33,537.33 34,535.44 35,533.55 36,531.35 37,528.86 38,526.37 39,523.88 40,521.39 40.39,520.42 40.39,520.42 40,520.44 39,520.41 38,520.32 37,520.15 36,519.91 35,519.59 34,519.21 33,518.76 32,518.25 31,517.67 30,517.02 29,516.4 28,515.81 27,515.28 26,514.8 25,514.38 24,514.02 23,513.73 22,513.49 21,513.3 20,513.16 19,513.08 18,513.06 18,513.06" fill="#6e6f78" fill-opacity="0.08"/>
<polygon points="107.16,502.42 108,503.42 109,504.81 110,506.33 111,507.85 112,509.37 113,510.89 114,512.29 115,513.25 116,514.21 117,515.16 118,516.12 119,517.08 120,518.04 121,519.07 122,520.75 123,522.43 124,524.12 125,525.8 126,528.05 127,530.3 128,532.55 129,534.8 130,537.05 131,535.37 132,532.71 133,530.05 134,527.4 135,524.85 136,522.47 137,520.1 138,517.72 139,515.34 139.7,513.68 139.7,513.68 139,513.7 138,513.65 137,513.54 136,513.36 135,513.11 134,512.78 133,512.38 132,511.89 131,511.32 130,510.66 129,509.93 128,509.24 127,508.6 126,508 125,507.45 124,506.94 123,506.47 122,506.02 121,505.62 120,505.25 119,504.89 118,504.56 117,504.24 116,503.94 115,503.65 114,503.39 113,503.14 112,502.93 111,502.75 110,502.61 109,502.51 108,502.45 107.16,502.42" fill="#6e6f78" fill-opacity="0.08"/>
<polygon points="215.15,498.61 216,499.66 217,500.89 218,502.13 219,503.68 220,505.36 221,507.04 222,508.73 223,510.6 224,512.6 225,514.6 226,516.6 227,518.22 228,519.45 229,520.69 230,521.93 231,523.16 232,524.4 233,525.66 234,526.92 235,528.18 236,529.44 237,530.7 238,532.06 239,533.5 240,534.94 241,536.38 242,537.81 243,538.9 244,539.9 245,540.9 246,541.03 247,539.86 248,538.69 249,537.52 250,536.59 251,536.2 252,535.82 253,535.44 254,535.06 255,534.68 256,535.32 257,536.21 258,537.1 259,538 260,538.89 261,539.79 262,540.68 263,541.57 264,542.66 265,544.17 266,545.69 267,547.21 268,548.73 269,550.25 270,550.73 271,551.09 272,551.45 273,551.82 274,552.18 275,552.49 276,552.72 277,552.94 278,553.17 279,553.39 280,553.62 281,553.73 282,553.37 283,553.01 284,552.65 285,552.29 286,551.93 287,551.57 288,551.21 289,550.57 290,549.81 291,549.06 292,548.3 293,547.55 294,546.79 295,546.03 296,545.28 297,544.4 298,543.4 299,542.4 300,541.4 301,540.4 302,539.4 302.02,539.38 302.02,539.38 302,539.38 301,539.38 300,539.35 299,539.29 298,539.21 297,539.09 296,538.94 295,538.77 294,538.57 293,538.34 292,538.09 291,537.81 290,537.5 289,537.16 288,536.78 287,536.39 286,535.97 285,535.53 284,535.07 283,534.58 282,534.07 281,533.54 280,532.98 279,532.41 278,531.83 277,531.24 276,530.65 275,530.04 274,529.42 273,528.79 272,528.15 271,527.51 270,526.86 269,526.2 268,525.54 267,524.9 266,524.28 265,523.69 264,523.13 263,522.59 262,522.06 261,521.55 260,521.05 259,520.56 258,520.07 257,519.6 256,519.15 255,518.7 254,518.26 253,517.8 252,517.31 251,516.8 250,516.26 249,515.7 248,515.1 247,514.45 246,513.75 245,512.99 244,512.22 243,511.46 242,510.7 241,509.96 240,509.23 239,508.52 238,507.83 237,507.16 236,506.51 235,505.88 234,505.26 233,504.66 232,504.08 231,503.52 230,502.98 229,502.46 228,501.96 227,501.47 226,501.01 225,500.58 224,500.19 223,499.85 222,499.56 221,499.3 220,499.09 219,498.92 218,498.78 217,498.69 216,498.63 215.15,498.61" fill="#6e6f78" fill-opacity="0.08"/>
<polygon points="312.17,538.69 313,539.53 314,540.78 315,542.03 316,543.29 317,544.54 318,545.8 319,546.9 320,547.9 321,548.9 322,549.9 323,550.23 324,549.88 325,549.54 326,549.2 327,548.85 328,548.51 329,548.14 330,547.75 331,547.36 332,546.97 333,546.57 334,546.13 335,545.57 336,545.01 337,544.45 338,543.88 339,543.32 340,542.76 340.12,542.7 340.12,542.7 340,542.7 339,542.7 338,542.68 337,542.64 336,542.59 335,542.53 334,542.44 333,542.34 332,542.23 331,542.09 330,541.95 329,541.79 328,541.61 327,541.42 326,541.22 325,541 324,540.76 323,540.51 322,540.24 321,539.98 320,539.73 319,539.51 318,539.3 317,539.12 316,538.97 315,538.85 314,538.77 313,538.71 312.17,538.69" fill="#6e6f78" fill-opacity="0.08"/>
<polygon points="343.29,542.68 344,542.82 345,543.03 346,543.24 347,543.45 348,543.65 349,543.84 350,543.97 351,544.09 352,544.22 353,544.35 354,544.47 355,544.6 356,543.28 356.21,543.01 356.21,543.01 356,543.01 355,543.01 354,542.96 353,542.92 352,542.88 351,542.84 350,542.81 349,542.78 348,542.75 347,542.72 346,542.7 345,542.69 344,542.68 343.29,542.68" fill="#6e6f78" fill-opacity="0.08"/>
<polygon points="460.77,507.32 461,507.6 462,508.8 463,509.99 464,511.16 465,512.33 466,513.51 467,514.68 468,515.85 469,517.03 470,518.2 471,520.25 472,522.31 473,524.36 474,526.42 475,528.47 476,529.77 477,530.31 478,530.85 479,531.39 480,531.93 481,531.41 482,529.83 483,528.25 484,526.66 485,525.08 486,523.5 487,521.9 488,520.3 489,518.7 490,517.1 490.81,515.81 490.81,515.81 490,515.82 489,515.78 488,515.7 487,515.58 486,515.4 485,515.18 484,514.9 483,514.58 482,514.2 481,513.77 480,513.29 479,512.77 478,512.26 477,511.74 476,511.23 475,510.72 474,510.23 473,509.78 472,509.38 471,509.02 470,508.71 469,508.45 468,508.22 467,508.01 466,507.82 465,507.66 464,507.54 463,507.44 462,507.37 461,507.33 460.77,507.32" fill="#6e6f78" fill-opacity="0.08"/>
<polygon points="497.22,515.46 498,516.3 499,517.37 500,518.43 501,519.5 502,520.54 503,521.58 504,522.62 505,523.67 506,524.19 507,522.62 508,521.06 509,519.49 510,517.93 510.62,516.95 510.62,516.95 510,516.96 509,516.94 508,516.87 507,516.75 506,516.59 505,516.38 504,516.18 503,516 502,515.84 501,515.72 500,515.61 499,515.53 498,515.48 497.22,515.46" fill="#6e6f78" fill-opacity="0.08"/>
<polygon points="582.96,501.08 583,501.15 584,502.77 585,504.57 586,506.81 587,509.04 588,511.28 589,513.52 590,515.75 591,517.99 592,520.23 593,522.48 594,524.72 595,526.96 596,529.2 597,527.18 598,525.16 599,523.14 600,521.12 601,519.1 602,517.8 603,516.57 604,515.34 605,514.11 606,513.06 607,512.17 608,511.28 609,510.39 610,509.5 610.53,509.05 610.53,509.05 610,509.06 609,509.05 608,509.01 607,508.95 606,508.86 605,508.74 604,508.6 603,508.41 602,508.18 601,507.92 600,507.61 599,507.24 598,506.8 597,506.29 596,505.72 595,505.07 594,504.46 593,503.91 592,503.39 591,502.93 590,502.51 589,502.15 588,501.83 587,501.57 586,501.37 585,501.22 584,501.12 583,501.08 582.96,501.08" fill="#6e6f78" fill-opacity="0.08"/>
<polygon points="631,507.1 632,508.38 633,509.64 634,510.83 635,512.01 636,513.2 637,514.39 638,515.58 639,516.77 640,517.9 641,518.9 642,519.9 643,520.9 644,521.9 645,522.9 646,524.57 647,526.32 648,528.06 649,529.81 650,531.55 651,534.1 652,537.86 653,541.62 654,544.05 655,545.16 656,546.27 657,545.02 658,542.75 659,540.49 660,538.23 661,535.97 662,533.7 663,531.44 664,529.18 665,527.23 666,525.42 667,523.62 668,521.81 668.41,521.07 668.41,521.07 668,521.08 667,521.06 666,520.99 665,520.87 664,520.69 663,520.46 662,520.16 661,519.78 660,519.34 659,518.82 658,518.22 657,517.54 656,516.78 655,515.97 654,515.16 653,514.37 652,513.61 651,512.95 650,512.36 649,511.83 648,511.34 647,510.87 646,510.45 645,510.06 644,509.7 643,509.37 642,509.05 641,508.75 640,508.47 639,508.21 638,507.97 637,507.76 636,507.58 635,507.43 634,507.3 633,507.2 632,507.13 631,507.1" fill="#6e6f78" fill-opacity="0.08"/>
<polygon points="693.08,517.07 694,517.75 695,518.16 696,518.05 697,517.94 698,517.83 699,517.72 700,517.61 701,517.6 702,517.6 703,517.6 704,517.6 705,517.6 706,517.6 707,517.6 708,517.6 709,517.6 710,517.6 711,517.6 712,517.71 713,517.82 714,517.93 715,518.04 716,518.15 717,518.76 718,519.89 719,521.02 720,522.15 721,523.27 722,524.4 723,526.42 724,528.44 725,530.46 726,532.47 727,534.49 728,536.05 729,537.31 730,538.56 731,539.82 732,541.07 733,542.31 734,543.38 735,544.45 736,545.52 737,546.59 738,545.92 739,544.81 740,543.71 741,542.6 742,541.5 743,540.39 744,539.26 745,537.81 746,536.36 747,534.91 748,533.47 749,531.95 750,530.33 750.91,528.86 750.91,528.86 750,528.87 749,528.83 748,528.74 747,528.61 746,528.43 745,528.22 744,527.95 743,527.64 742,527.29 741,526.9 740,526.46 739,525.99 738,525.47 737,524.9 736,524.3 735,523.72 734,523.15 733,522.59 732,522.04 731,521.52 730,521.01 729,520.53 728,520.07 727,519.63 726,519.22 725,518.85 724,518.53 723,518.26 722,518.03 721,517.86 720,517.71 719,517.58 718,517.49 717,517.42 716,517.39 715,517.36 714,517.35 713,517.33 712,517.32 711,517.31 710,517.3 709,517.29 708,517.28 707,517.27 706,517.26 705,517.25 704,517.24 703,517.23 702,517.22 701,517.21 700,517.2 699,517.19 698,517.18 697,517.16 696,517.14 695,517.11 694,517.08 693.08,517.07" fill="#6e6f78" fill-opacity="0.08"/>
<polygon points="-2,514.1 -1,514.1 0,514.1 0,514.1 0,514.1 0,514.1 -1,514.1 -2,514.1" fill="#6e6f78" fill-opacity="0.08"/>
<polygon points="18.14,513.19 19,514.01 20,516.03 21,518.18 22,520.32 23,522.47 24,524.67 25,527.32 26,529.98 27,532.64 28,535.3 29,537.51 30,539.73 31,541.12 32,539.23 33,537.33 34,535.44 35,533.55 36,531.35 37,528.86 38,526.37 39,523.88 40,521.39 40.7,519.63 40.7,519.63 40,519.65 39,519.61 38,519.51 37,519.35 36,519.12 35,518.84 34,518.49 33,518.1 32,517.64 31,517.14 30,516.58 29,516.04 28,515.53 27,515.07 26,514.66 25,514.3 24,514 23,513.75 22,513.54 21,513.38 20,513.27 19,513.21 18.14,513.19" fill="#6e6f78" fill-opacity="0.08"/>
<polygon points="108.11,503.57 109,504.81 110,506.33 111,507.85 112,509.37 113,510.89 114,512.29 115,513.25 116,514.21 117,515.16 118,516.12 119,517.08 120,518.04 121,519.07 122,520.75 123,522.43 124,524.12 125,525.8 126,528.05 127,530.3 128,532.55 129,534.8 130,537.05 131,535.37 132,532.71 133,530.05 134,527.4 135,524.85 136,522.47 137,520.1 138,517.72 139,515.34 139.98,513.01 139.98,513.01 139,513.01 138,512.95 137,512.84 136,512.67 135,512.44 134,512.15 133,511.8 132,511.37 131,510.87 130,510.3 129,509.67 128,509.08 127,508.53 126,508.02 125,507.55 124,507.13 123,506.73 122,506.36 121,506.03 120,505.72 119,505.43 118,505.16 117,504.9 116,504.66 115,504.44 114,504.23 113,504.04 112,503.88 111,503.76 110,503.66 109,503.6 108.11,503.57" fill="#6e6f78" fill-opacity="0.08"/>
<polygon points="215.77,499.37 216,499.66 217,500.89 218,502.13 219,503.68 220,505.36 221,507.04 222,508.73 223,510.6 224,512.6 225,514.6 226,516.6 227,518.22 228,519.45 229,520.69 230,521.93 231,523.16 232,524.4 233,525.66 234,526.92 235,528.18 236,529.44 237,530.7 238,532.06 239,533.5 240,534.94 241,536.38 242,537.81 243,538.9 244,539.9 245,540.9 246,541.03 247,539.86 248,538.69 249,537.52 250,536.59 251,536.2 252,535.82 253,535.44 254,535.06 255,534.68 256,535.32 257,536.21 258,537.1 259,538 260,538.89 261,539.79 262,540.68 263,541.57 264,542.66 265,544.17 266,545.69 267,547.21 268,548.73 269,550.25 270,550.73 271,551.09 272,551.45 273,551.82 274,552.18 275,552.49 276,552.72 277,552.94 278,553.17 279,553.39 280,553.62 281,553.73 282,553.37 283,553.01 284,552.65 285,552.29 286,551.93 287,551.57 288,551.21 289,550.57 290,549.81 291,549.06 292,548.3 293,547.55 294,546.79 295,546.03 296,545.28 297,544.4 298,543.4 299,542.4 300,541.4 301,540.4 302,539.4 303,538.4 304,537.4 304.28,537.12 304.28,537.12 304,537.13 303,537.12 302,537.09 301,537.04 300,536.96 299,536.85 298,536.72 297,536.57 296,536.39 295,536.18 294,535.95 293,535.69 292,535.42 291,535.11 290,534.79 289,534.44 288,534.06 287,533.66 286,533.24 285,532.8 284,532.34 283,531.87 282,531.37 281,530.86 280,530.32 279,529.78 278,529.23 277,528.67 276,528.1 275,527.52 274,526.94 273,526.35 272,525.75 271,525.15 270,524.54 269,523.93 268,523.31 267,522.72 266,522.14 265,521.59 264,521.06 263,520.56 262,520.07 261,519.58 260,519.11 259,518.65 258,518.19 257,517.75 256,517.32 255,516.9 254,516.48 253,516.05 252,515.59 251,515.12 250,514.63 249,514.11 248,513.57 247,512.98 246,512.35 245,511.68 244,510.99 243,510.32 242,509.65 241,508.99 240,508.35 239,507.73 238,507.12 237,506.54 236,505.97 235,505.42 234,504.89 233,504.38 232,503.88 231,503.4 230,502.93 229,502.49 228,502.06 227,501.66 226,501.27 225,500.91 224,500.59 223,500.31 222,500.07 221,499.86 220,499.7 219,499.56 218,499.47 217,499.41 216,499.37 215.77,499.37" fill="#6e6f78" fill-opacity="0.08"/>
<polygon points="310.37,536.92 311,537.53 312,538.52 313,539.53 314,540.78 315,542.03 316,543.29 317,544.54 318,545.8 319,546.9 320,547.9 321,548.9 322,549.9 323,550.23 324,549.88 325,549.54 326,549.2 327,548.85 328,548.51 329,548.14 330,547.75 331,547.36 332,546.97 333,546.57 334,546.13 335,545.57 336,545.01 337,544.45 338,543.88 339,543.32 340,542.76 341,542.2 342,542.41 343,542.62 344,542.82 345,543.03 346,543.24 347,543.45 348,543.65 349,543.84 350,543.97 351,544.09 352,544.22 353,544.35 354,544.47 355,544.6 356,543.28 356.93,542.05 356.93,542.05 356,542.06 355,542.03 354,541.97 353,541.91 352,541.85 351,541.8 350,541.74 349,541.69 348,541.64 347,541.59 346,541.55 345,541.51 344,541.48 343,541.44 342,541.42 341,541.39 340,541.37 339,541.34 338,541.3 337,541.23 336,541.16 335,541.07 334,540.96 333,540.84 332,540.71 331,540.56 330,540.4 329,540.23 328,540.05 327,539.85 326,539.64 325,539.41 324,539.18 323,538.93 322,538.66 321,538.4 320,538.15 319,537.92 318,537.71 317,537.53 316,537.36 315,537.22 314,537.11 313,537.02 312,536.97 311,536.93 310.37,536.92" fill="#6e6f78" fill-opacity="0.08"/>
<polygon points="462.2,509.04 463,509.99 464,511.16 465,512.33 466,513.51 467,514.68 468,515.85 469,517.03 470,518.2 471,520.25 472,522.31 473,524.36 474,526.42 475,528.47 476,529.77 477,530.31 478,530.85 479,531.39 480,531.93 481,531.41 482,529.83 483,528.25 484,526.66 485,525.08 486,523.5 487,521.9 488,520.3 489,518.7 490,517.1 490.84,515.75 490.84,515.75 490,515.76 489,515.72 488,515.65 487,515.55 486,515.4 485,515.21 484,514.98 483,514.7 482,514.39 481,514.02 480,513.62 479,513.19 478,512.76 477,512.34 476,511.92 475,511.5 474,511.1 473,510.75 472,510.43 471,510.15 470,509.91 469,509.72 468,509.55 467,509.4 466,509.28 465,509.18 464,509.1 463,509.05 462.2,509.04" fill="#6e6f78" fill-opacity="0.08"/>
<polygon points="497.21,515.46 498,516.3 499,517.37 500,518.43 501,519.5 502,520.54 503,521.58 504,522.62 505,523.67 506,524.19 507,522.62 508,521.06 509,519.49 510,517.93 510.75,516.76 510.75,516.76 510,516.76 509,516.74 508,516.67 507,516.57 506,516.43 505,516.25 504,516.07 503,515.92 502,515.79 501,515.67 500,515.59 499,515.52 498,515.48 497.21,515.46" fill="#6e6f78" fill-opacity="0.08"/>
<polygon points="583.53,502 584,502.77 585,504.57 586,506.81 587,509.04 588,511.28 589,513.52 590,515.75 591,517.99 592,520.23 593,522.48 594,524.72 595,526.96 596,529.2 597,527.18 598,525.16 599,523.14 600,521.12 601,519.1 602,517.8 603,516.57 604,515.34 605,514.11 606,513.06 607,512.17 608,511.28 609,510.39 610,509.5 610.96,508.7 610.96,508.7 610,508.7 609,508.68 608,508.64 607,508.58 606,508.49 605,508.38 604,508.25 603,508.08 602,507.89 601,507.65 600,507.39 599,507.06 598,506.69 597,506.26 596,505.77 595,505.22 594,504.71 593,504.24 592,503.81 591,503.43 590,503.09 589,502.79 588,502.54 587,502.34 586,502.18 585,502.07 584,502.01 583.53,502" fill="#6e6f78" fill-opacity="0.08"/>
<polygon points="631.01,507.12 632,508.38 633,509.64 634,510.83 635,512.01 636,513.2 637,514.39 638,515.58 639,516.77 640,517.9 641,518.9 642,519.9 643,520.9 644,521.9 645,522.9 646,524.57 647,526.32 648,528.06 649,529.81 650,531.55 651,534.1 652,537.86 653,541.62 654,544.05 655,545.16 656,546.27 657,545.02 658,542.75 659,540.49 660,538.23 661,535.97 662,533.7 663,531.44 664,529.18 665,527.23 666,525.42 667,523.62 668,521.81 669,520 669.2,519.64 669.2,519.64 669,519.64 668,519.64 667,519.58 666,519.49 665,519.35 664,519.17 663,518.93 662,518.64 661,518.29 660,517.87 659,517.4 658,516.86 657,516.25 656,515.58 655,514.86 654,514.15 653,513.45 652,512.79 651,512.2 650,511.69 649,511.23 648,510.79 647,510.39 646,510.01 645,509.67 644,509.36 643,509.07 642,508.79 641,508.53 640,508.29 639,508.07 638,507.86 637,507.68 636,507.52 635,507.39 634,507.28 633,507.2 632,507.14 631.01,507.12" fill="#6e6f78" fill-opacity="0.08"/>
<polygon points="692.58,516.69 693,517.01 694,517.75 695,518.16 696,518.05 697,517.94 698,517.83 699,517.72 700,517.61 701,517.6 702,517.6 703,517.6 704,517.6 705,517.6 706,517.6 707,517.6 708,517.6 709,517.6 710,517.6 711,517.6 712,517.71 713,517.82 714,517.93 715,518.04 716,518.15 717,518.76 718,519.89 719,521.02 720,522.15 721,523.27 722,524.4 723,526.42 724,528.44 725,530.46 726,532.47 727,534.49 728,536.05 729,537.31 730,538.56 731,539.82 732,541.07 733,542.31 734,543.38 735,544.45 736,545.52 737,546.59 738,545.92 739,544.81 740,543.71 741,542.6 742,541.5 743,540.39 744,539.26 745,537.81 746,536.36 747,534.91 748,533.47 749,531.95 750,530.33 751,528.71 751.71,527.57 751.71,527.57 751,527.58 750,527.55 749,527.49 748,527.38 747,527.24 746,527.06 745,526.84 744,526.59 743,526.29 742,525.96 741,525.6 740,525.2 739,524.76 738,524.3 737,523.79 736,523.26 735,522.73 734,522.23 733,521.73 732,521.25 731,520.79 730,520.34 729,519.91 728,519.51 727,519.12 726,518.76 725,518.44 724,518.16 723,517.92 722,517.72 721,517.56 720,517.43 719,517.32 718,517.23 717,517.17 716,517.13 715,517.11 714,517.09 713,517.07 712,517.05 711,517.03 710,517.02 709,517.01 708,516.99 707,516.98 706,516.96 705,516.95 704,516.93 703,516.92 702,516.9 701,516.89 700,516.87 699,516.85 698,516.83 697,516.81 696,516.78 695,516.75 694,516.72 693,516.69 692.58,516.69" fill="#6e6f78" fill-opacity="0.08"/>
<polygon points="-2,514.1 -1,514.1 0,514.1 0,514.1 0,514.1 0,514.1 -1,514.1 -2,514.1" fill="#36353a" stroke="#36353a" stroke-width="0.9" stroke-linejoin="round"/>
<polygon points="0,514.1 1,513.81 2,513.51 3,513.22 4,512.92 5,512.63 6,512.34 7,512 8,511.48 9,510.97 10,510.45 11,509.94 12,509.42 13,508.91 14,509.27 15,510.22 15.39,510.58 15.39,510.58 15,510.54 14,510.61 13,510.9 12,511.32 11,511.73 10,512.11 9,512.46 8,512.78 7,513.06 6,513.28 5,513.48 4,513.67 3,513.82 2,513.95 1,514.05 0,514.1" fill="#e8902e" stroke="#e8902e" stroke-width="0.9" stroke-linejoin="round"/>
<polygon points="15.39,510.58 16,511.16 17,512.11 18,513.06 19,514.01 20,516.03 21,518.18 22,520.32 23,522.47 24,524.67 25,527.32 26,529.98 27,532.64 28,535.3 29,537.51 30,539.73 31,541.12 32,539.23 33,537.33 34,535.44 34.77,533.97 34.77,533.97 34,534.04 33,533.74 32,532.98 31,531.64 30,529.62 29,527.46 28,525.32 27,523.19 26,521.18 25,519.3 24,517.58 23,516.07 22,514.71 21,513.51 20,512.51 19,511.76 18,511.28 17,510.91 16,510.65 15.39,510.58" fill="#36353a" stroke="#36353a" stroke-width="0.9" stroke-linejoin="round"/>
<polygon points="34.77,533.97 35,533.55 36,531.35 37,528.86 38,526.37 39,523.88 40,521.39 41,518.9 42,516.92 43,514.94 44,512.95 45,510.97 46,508.99 47,507.33 48,505.98 49,504.64 50,503.3 51,501.95 52,500.61 53,500.12 54,500.9 55,501.69 56,502.48 57,503.27 58,504 58.37,504.19 58.37,504.19 58,504.16 57,504.2 56,504.4 55,504.81 54,505.47 53,506.45 52,507.8 51,509.33 50,510.9 49,512.53 48,514.21 47,515.97 46,517.81 45,519.69 44,521.55 43,523.38 42,525.19 41,526.95 40,528.67 39,530.22 38,531.57 37,532.68 36,533.5 35,533.95 34.77,533.97" fill="#e8902e" stroke="#e8902e" stroke-width="0.9" stroke-linejoin="round"/>
<polygon points="58.37,504.19 59,504.5 60,505 61,505.5 62,506 63,506.5 64,507 65,507.1 66,506.61 67,506.12 67.43,505.91 67.43,505.91 67,505.93 66,505.89 65,505.73 64,505.44 63,505.11 62,504.81 61,504.56 60,504.36 59,504.22 58.37,504.19" fill="#36353a" stroke="#36353a" stroke-width="0.9" stroke-linejoin="round"/>
<polygon points="67.43,505.91 68,505.62 69,505.13 70,504.64 71,504.15 72,503.65 73,503.15 74,502.65 75,502.15 76,501.65 77,501.15 78,500.65 79,500.15 80,499.56 81,498.75 82,497.94 83,497.13 84,496.32 85,495.51 86,494.7 87,494.14 88,493.81 89,493.48 90,493.15 91,492.82 92,492.49 93,492.16 94,491.83 95,491.78 96,492.38 97,492.99 97.42,493.24 97.42,493.24 97,493.21 96,493.26 95,493.44 94,493.8 93,494.22 92,494.66 91,495.12 90,495.61 89,496.14 88,496.7 87,497.32 86,498 85,498.7 84,499.38 83,500.04 82,500.66 81,501.24 80,501.77 79,502.24 78,502.69 77,503.12 76,503.54 75,503.94 74,504.33 73,504.69 72,505.01 71,505.3 70,505.55 69,505.74 68,505.88 67.43,505.91" fill="#e8902e" stroke="#e8902e" stroke-width="0.9" stroke-linejoin="round"/>
<polygon points="97.42,493.24 98,493.59 99,494.19 100,494.8 101,495.4 102,496.29 103,497.48 104,498.67 105,499.86 106,501.05 107,502.24 108,503.42 109,504.81 110,506.33 111,507.85 112,509.37 113,510.89 114,512.29 115,513.25 116,514.21 117,515.16 118,516.12 119,517.08 120,518.04 121,519.07 122,520.75 123,522.43 124,524.12 125,525.8 126,528.05 127,530.3 128,532.55 129,534.8 130,537.05 131,535.37 132,532.71 133,530.05 133.05,529.92 133.05,529.92 133,529.94 132,529.91 131,529.32 130,528.03 129,526.1 128,524.24 127,522.47 126,520.8 125,519.26 124,517.86 123,516.52 122,515.26 121,514.09 120,513.03 119,511.96 118,510.87 117,509.75 116,508.6 115,507.4 114,506.15 113,504.84 112,503.55 111,502.31 110,501.13 109,500.02 108,499 107,498.06 106,497.17 105,496.34 104,495.59 103,494.93 102,494.39 101,493.98 100,493.68 99,493.44 98,493.28 97.42,493.24" fill="#36353a" stroke="#36353a" stroke-width="0.9" stroke-linejoin="round"/>
<polygon points="133.05,529.92 134,527.4 135,524.85 136,522.47 137,520.1 138,517.72 139,515.34 140,512.97 141,510.59 142,508.44 143,506.53 144,504.62 145,502.71 146,500.8 147,498.89 148,496.97 149,496.31 150,496.18 151,496.06 152,495.93 153,495.8 154,495.75 155,495.99 156,496.24 157,496.48 158,496.72 159,496.97 160,497.21 161,497.46 161.06,497.47 161.06,497.47 161,497.47 160,497.47 159,497.53 158,497.65 157,497.84 156,498.13 155,498.54 154,499.08 153,499.79 152,500.65 151,501.65 150,502.85 149,504.27 148,505.97 147,507.88 146,509.8 145,511.72 144,513.65 143,515.57 142,517.5 141,519.44 140,521.32 139,523.11 138,524.76 137,526.27 136,527.58 135,528.68 134,529.49 133.05,529.92" fill="#e8902e" stroke="#e8902e" stroke-width="0.9" stroke-linejoin="round"/>
<polygon points="161.06,497.47 162,497.7 163,498.2 164,498.7 165,499.2 166,499.7 167,500.2 168,500.7 169,501.08 170,500.97 171,500.86 172,500.75 173,500.64 174,500.53 174.66,500.18 174.66,500.18 174,500.21 173,500.14 172,500.03 171,499.88 170,499.67 169,499.39 168,499.03 167,498.68 166,498.35 165,498.06 164,497.82 163,497.63 162,497.51 161.06,497.47" fill="#36353a" stroke="#36353a" stroke-width="0.9" stroke-linejoin="round"/>
<polygon points="174.66,500.18 175,500.01 176,499.3 177,498.59 178,497.89 179,497.18 180,496.48 181,495.77 182,495.13 183,494.49 184,493.85 185,493.22 186,492.62 187,492.06 188,491.49 189,490.93 190,490.37 191,490.67 192,491.34 193,492.01 193.52,492.36 193.52,492.36 193,492.33 192,492.4 191,492.62 190,493.04 189,493.61 188,494.18 187,494.75 186,495.32 185,495.9 184,496.47 183,497.03 182,497.57 181,498.09 180,498.59 179,499.04 178,499.44 177,499.77 176,500.02 175,500.17 174.66,500.18" fill="#e8902e" stroke="#e8902e" stroke-width="0.9" stroke-linejoin="round"/>
<polygon points="193.52,492.36 194,492.69 195,493.36 196,494.03 197,494.67 198,495.29 199,495.91 200,496.53 201,497.14 202,497.68 203,497.44 204,497.2 205,496.97 206,496.73 207,496.49 208,496.32 208.13,496.31 208.13,496.31 208,496.31 207,496.3 206,496.26 205,496.16 204,495.99 203,495.73 202,495.37 201,494.88 200,494.4 199,493.94 198,493.52 197,493.15 196,492.82 195,492.56 194,492.39 193.52,492.36" fill="#36353a" stroke="#36353a" stroke-width="0.9" stroke-linejoin="round"/>
<polygon points="208.13,496.31 209,496.19 210,496.06 211,495.93 212,495.8 213,495.95 213.14,496.12 213.14,496.12 213,496.09 212,496.12 211,496.19 210,496.25 209,496.29 208.13,496.31" fill="#e8902e" stroke="#e8902e" stroke-width="0.9" stroke-linejoin="round"/>
<polygon points="213.14,496.12 214,497.18 215,498.42 216,499.66 217,500.89 218,502.13 219,503.68 220,505.36 221,507.04 222,508.73 223,510.6 224,512.6 225,514.6 226,516.6 227,518.22 228,519.45 229,520.69 230,521.93 231,523.16 232,524.4 233,525.66 234,526.92 235,528.18 236,529.44 237,530.7 238,532.06 239,533.5 240,534.94 241,536.38 242,537.81 243,538.9 244,539.9 245,540.9 246,541.03 247,539.86 248,538.69 249,537.52 249.36,537.19 249.36,537.19 249,537.23 248,537.16 247,536.84 246,536.19 245,535.16 244,533.94 243,532.66 242,531.33 241,529.95 240,528.58 239,527.22 238,525.88 237,524.57 236,523.26 235,521.94 234,520.61 233,519.26 232,517.9 231,516.51 230,515.09 229,513.63 228,512.12 227,510.56 226,508.93 225,507.29 224,505.73 223,504.26 222,502.91 221,501.67 220,500.52 219,499.49 218,498.59 217,497.84 216,497.19 215,496.66 214,496.28 213.14,496.12" fill="#36353a" stroke="#36353a" stroke-width="0.9" stroke-linejoin="round"/>
<polygon points="249.36,537.19 250,536.59 251,536.2 252,535.82 253,535.44 254,535.06 255,534.68 256,535.32 256.66,535.91 256.66,535.91 256,535.87 255,535.99 254,536.27 253,536.52 252,536.75 251,536.95 250,537.11 249.36,537.19" fill="#e8902e" stroke="#e8902e" stroke-width="0.9" stroke-linejoin="round"/>
<polygon points="256.66,535.91 257,536.21 258,537.1 259,538 260,538.89 261,539.79 262,540.68 263,541.57 264,542.66 265,544.17 266,545.69 267,547.21 268,548.73 269,550.25 270,550.73 271,551.09 272,551.45 273,551.82 274,552.18 275,552.49 276,552.72 277,552.94 278,553.17 279,553.39 280,553.62 281,553.73 282,553.37 283,553.01 284,552.65 284.39,552.51 284.39,552.51 284,552.52 283,552.5 282,552.39 281,552.18 280,551.85 279,551.47 278,551.06 277,550.6 276,550.11 275,549.55 274,548.92 273,548.23 272,547.46 271,546.61 270,545.65 269,544.57 268,543.36 267,542.21 266,541.14 265,540.17 264,539.32 263,538.61 262,537.98 261,537.4 260,536.89 259,536.46 258,536.13 257,535.93 256.66,535.91" fill="#36353a" stroke="#36353a" stroke-width="0.9" stroke-linejoin="round"/>
<polygon points="284.39,552.51 285,552.29 286,551.93 287,551.57 288,551.21 289,550.57 290,549.81 291,549.06 292,548.3 293,547.55 294,546.79 295,546.03 296,545.28 297,544.4 298,543.4 299,542.4 300,541.4 301,540.4 302,539.4 303,538.4 304,537.4 305,536.4 306,535.4 307,534.4 308,534.59 309,535.57 310,536.55 310.95,537.48 310.95,537.48 310,537.47 309,537.67 308,538.11 307,538.86 306,539.82 305,540.76 304,541.69 303,542.61 302,543.5 301,544.38 300,545.23 299,546.04 298,546.82 297,547.55 296,548.22 295,548.85 294,549.45 293,550.02 292,550.55 291,551.03 290,551.45 289,551.8 288,552.06 287,552.24 286,552.38 285,552.48 284.39,552.51" fill="#e8902e" stroke="#e8902e" stroke-width="0.9" stroke-linejoin="round"/>
<polygon points="310.95,537.48 311,537.53 312,538.52 313,539.53 314,540.78 315,542.03 316,543.29 317,544.54 318,545.8 319,546.9 320,547.9 321,548.9 322,549.9 323,550.23 324,549.88 325,549.54 326,549.2 327,548.85 328,548.51 329,548.14 329.37,548 329.37,548 329,548.01 328,547.99 327,547.88 326,547.67 325,547.34 324,546.87 323,546.23 322,545.38 321,544.41 320,543.46 319,542.51 318,541.57 317,540.67 316,539.84 315,539.11 314,538.48 313,537.99 312,537.66 311,537.48 310.95,537.48" fill="#36353a" stroke="#36353a" stroke-width="0.9" stroke-linejoin="round"/>
<polygon points="329.37,548 330,547.75 331,547.36 332,546.97 333,546.57 334,546.13 335,545.57 336,545.01 337,544.45 338,543.88 339,543.32 340,542.76 341,542.2 342,542.41 343,542.62 344,542.82 345,543.03 346,543.24 347,543.45 347.2,543.49 347.2,543.49 347,543.48 346,543.49 345,543.54 344,543.65 343,543.83 342,544.09 341,544.44 340,544.92 339,545.39 338,545.83 337,546.24 336,546.62 335,546.97 334,547.26 333,547.51 332,547.7 331,547.86 330,547.97 329.37,548" fill="#e8902e" stroke="#e8902e" stroke-width="0.9" stroke-linejoin="round"/>
<polygon points="347.2,543.49 348,543.65 349,543.84 350,543.97 351,544.09 352,544.22 353,544.35 354,544.47 355,544.6 355.42,544.05 355.42,544.05 355,544.11 354,544 353,543.9 352,543.81 351,543.72 350,543.64 349,543.57 348,543.51 347.2,543.49" fill="#36353a" stroke="#36353a" stroke-width="0.9" stroke-linejoin="round"/>
<polygon points="355.42,544.05 356,543.28 357,541.97 358,540.65 359,539.33 360,538.02 361,536.7 362,535.71 363,534.73 364,533.74 365,532.76 366,531.77 367,530.79 368,529.83 369,529.16 370,528.49 371,527.82 372,527.15 373,526.48 374,525.81 375,525.14 376,524.47 377,523.13 378,521.72 379,520.31 380,518.89 381,517.48 382,516.07 383,514.67 384,513.36 385,512.05 386,510.74 387,509.43 388,508.12 389,506.82 390,505.73 391,505.17 392,504.61 393,504.04 394,503.48 395,503.51 396,504.12 397,504.74 398,505.35 399,505.97 399.01,505.97 399.01,505.97 399,505.97 398,505.97 397,506.11 396,506.4 395,506.88 394,507.6 393,508.48 392,509.43 391,510.46 390,511.59 389,512.83 388,514.12 387,515.4 386,516.67 385,517.93 384,519.19 383,520.43 382,521.66 381,522.86 380,524 379,525.09 378,526.11 377,527.05 376,527.89 375,528.62 374,529.36 373,530.12 372,530.9 371,531.7 370,532.53 369,533.39 368,534.29 367,535.24 366,536.19 365,537.13 364,538.06 363,538.98 362,539.89 361,540.78 360,541.65 359,542.43 358,543.09 357,543.61 356,543.96 355.42,544.05" fill="#e8902e" stroke="#e8902e" stroke-width="0.9" stroke-linejoin="round"/>
<polygon points="399.01,505.97 400,506.58 401,507.2 402,507.82 403,508.57 404,509.38 405,510.2 406,511.01 407,511.82 408,512.64 409,513.45 410,514.03 411,513.67 412,513.32 413,512.96 414,512.61 415,512.25 415.42,512.1 415.42,512.1 415,512.12 414,512.09 413,511.98 412,511.77 411,511.44 410,510.96 409,510.31 408,509.64 407,509 406,508.4 405,507.84 404,507.34 403,506.9 402,506.55 401,506.28 400,506.08 399.01,505.97" fill="#36353a" stroke="#36353a" stroke-width="0.9" stroke-linejoin="round"/>
<polygon points="415.42,512.1 416,511.9 417,511.54 418,511.16 419,510.76 420,510.37 421,509.97 422,509.57 423,509.18 424,508.78 425,507.94 426,506.99 427,506.04 428,505.09 429,505.39 430,506.25 431,507.09 431.34,507.38 431.34,507.38 431,507.34 430,507.4 429,507.64 428,508.12 427,508.77 426,509.36 425,509.86 424,510.27 423,510.59 422,510.89 421,511.17 420,511.43 419,511.65 418,511.84 417,511.99 416,512.08 415.42,512.1" fill="#e8902e" stroke="#e8902e" stroke-width="0.9" stroke-linejoin="round"/>
<polygon points="431.34,507.38 432,507.94 432.75,507.42 432.75,507.42 432,507.45 431.34,507.38" fill="#36353a" stroke="#36353a" stroke-width="0.9" stroke-linejoin="round"/>
<polygon points="432.75,507.42 433,507.25 434,505.89 435,504.54 436,503.18 437,502.13 438,501.38 439,500.64 440,499.89 441,499.15 442,498.4 443,497.77 444,497.14 445,496.51 446,495.88 447,495.25 448,495 449,495 450,495 451,495.9 451.76,496.76 451.76,496.76 451,496.72 450,496.89 449,497.29 448,497.78 447,498.37 446,499.04 445,499.71 444,500.4 443,501.09 442,501.8 441,502.53 440,503.25 439,503.96 438,504.67 437,505.38 436,506.07 435,506.69 434,507.15 433,507.41 432.75,507.42" fill="#e8902e" stroke="#e8902e" stroke-width="0.9" stroke-linejoin="round"/>
<polygon points="451.76,496.76 452,497.03 453,498.16 454,499.29 455,500.42 456,501.58 457,502.78 458,503.99 459,505.19 460,506.39 461,507.6 462,508.8 463,509.99 464,511.16 465,512.33 466,513.51 467,514.68 468,515.85 469,517.03 470,518.2 471,520.25 472,522.31 473,524.36 474,526.42 475,528.47 476,529.77 477,530.31 478,530.85 479,531.39 480,531.93 481,531.41 482,529.83 483,528.25 483.06,528.16 483.06,528.16 483,528.17 482,528.16 481,527.8 480,527.03 479,525.98 478,524.83 477,523.55 476,522.1 475,520.47 474,518.76 473,517.13 472,515.58 471,514.15 470,512.84 469,511.7 468,510.57 467,509.44 466,508.32 465,507.21 464,506.12 463,505.04 462,503.99 461,502.96 460,501.97 459,501.03 458,500.14 457,499.32 456,498.58 455,497.94 454,497.42 453,497.02 452,496.77 451.76,496.76" fill="#36353a" stroke="#36353a" stroke-width="0.9" stroke-linejoin="round"/>
<polygon points="483.06,528.16 484,526.66 485,525.08 486,523.5 487,521.9 488,520.3 489,518.7 490,517.1 491,515.5 492,513.9 493,512.3 494,512.03 495,513.1 496,514.17 497,515.23 497.85,516.13 497.85,516.13 497,516.11 496,516.29 495,516.75 494,517.52 493,518.69 492,520.06 491,521.37 490,522.63 489,523.81 488,524.89 487,525.87 486,526.72 485,527.41 484,527.91 483.06,528.16" fill="#e8902e" stroke="#e8902e" stroke-width="0.9" stroke-linejoin="round"/>
<polygon points="497.85,516.13 498,516.3 499,517.37 500,518.43 501,519.5 502,520.54 503,521.58 504,522.62 505,523.67 506,524.19 507,522.62 508,521.06 508,521.05 508,521.05 508,521.06 507,521.05 506,520.72 505,519.98 504,519.19 503,518.46 502,517.8 501,517.21 500,516.72 499,516.36 498,516.14 497.85,516.13" fill="#36353a" stroke="#36353a" stroke-width="0.9" stroke-linejoin="round"/>
<polygon points="508,521.05 509,519.49 510,517.93 511,516.36 512,514.8 513,513.2 514,511.59 515,509.99 516,508.39 517,506.79 518,505.18 519,503.66 520,502.45 521,501.25 522,500.04 523,498.84 524,497.63 525,496.42 526,495.38 527,494.59 528,493.8 529,493.01 530,492.22 531,491.43 532,490.95 533,491.72 534,492.48 535,493.25 535.94,493.97 535.94,493.97 535,493.96 534,494.11 533,494.46 532,495.04 531,495.91 530,496.87 529,497.86 528,498.89 527,499.98 526,501.12 525,502.35 524,503.61 523,504.89 522,506.18 521,507.49 520,508.83 519,510.19 518,511.58 517,512.94 516,514.26 515,515.51 514,516.69 513,517.77 512,518.75 511,519.59 510,520.28 509,520.78 508,521.05" fill="#e8902e" stroke="#e8902e" stroke-width="0.9" stroke-linejoin="round"/>
<polygon points="535.94,493.97 536,494.02 537,494.78 538,495.55 539,496.31 540,497.07 541,497.84 542,498.6 543,499.36 544,500.13 545,500.89 546,501.65 547,502.42 548,502.64 549,502.31 550,501.99 551,501.67 552,501.34 553,501.02 553.41,500.89 553.41,500.89 553,500.9 552,500.88 551,500.78 550,500.59 549,500.29 548,499.85 547,499.26 546,498.59 545,497.93 544,497.3 543,496.7 542,496.13 541,495.6 540,495.12 539,494.71 538,494.36 537,494.11 536,493.97 535.94,493.97" fill="#36353a" stroke="#36353a" stroke-width="0.9" stroke-linejoin="round"/>
<polygon points="553.41,500.89 554,500.69 555,500.47 556,500.38 557,500.3 558,500.21 559,500.12 560,500.04 561,499.95 562,499.87 563,499.73 564,499.39 565,499.05 566,498.71 567,498.37 568,498.02 569,497.68 570,497.34 571,497 572,496.76 573,496.51 574,496.27 575,496.02 576,495.78 577,495.54 578,495.29 579,495.05 579.96,496.25 579.96,496.25 579,496.24 578,496.49 577,496.74 576,497 575,497.26 574,497.53 573,497.8 572,498.07 571,498.35 570,498.64 569,498.92 568,499.18 567,499.42 566,499.65 565,499.85 564,500.02 563,500.16 562,500.25 561,500.33 560,500.41 559,500.49 558,500.57 557,500.65 556,500.72 555,500.79 554,500.86 553.41,500.89" fill="#e8902e" stroke="#e8902e" stroke-width="0.9" stroke-linejoin="round"/>
<polygon points="579.96,496.25 580,496.29 581,497.91 582,499.53 583,501.15 584,502.77 585,504.57 586,506.81 587,509.04 588,511.28 589,513.52 590,515.75 591,517.99 592,520.23 593,522.48 594,524.72 595,526.96 596,529.2 597,527.18 598,525.16 599,523.14 599.7,521.72 599.7,521.72 599,521.81 598,521.52 597,520.74 596,519.37 595,517.27 594,515.21 593,513.18 592,511.19 591,509.27 590,507.4 589,505.62 588,503.94 587,502.37 586,500.95 585,499.7 584,498.66 583,497.78 582,497.07 581,496.54 580,496.25 579.96,496.25" fill="#36353a" stroke="#36353a" stroke-width="0.9" stroke-linejoin="round"/>
<polygon points="599.7,521.72 600,521.12 601,519.1 602,517.8 603,516.57 604,515.34 605,514.11 606,513.06 607,512.17 608,511.28 609,510.39 610,509.5 611,508.66 612,508.28 613,507.9 614,507.52 615,507.13 616,506.75 617,506.11 618,505.31 619,504.5 620,503.69 621,502.88 622,502.07 623,501.26 624,501.37 625,501.7 626,502.03 627,502.37 627.96,503.23 627.96,503.23 627,503.23 626,503.41 625,503.71 624,504.13 623,504.72 622,505.46 621,506.19 620,506.89 619,507.58 618,508.23 617,508.86 616,509.44 615,510.02 614,510.63 613,511.3 612,512.02 611,512.82 610,513.71 609,514.61 608,515.51 607,516.41 606,517.32 605,518.23 604,519.11 603,519.91 602,520.63 601,521.23 600,521.69 599.7,521.72" fill="#e8902e" stroke="#e8902e" stroke-width="0.9" stroke-linejoin="round"/>
<polygon points="627.96,503.23 628,503.27 629,504.54 630,505.82 631,507.1 632,508.38 633,509.64 634,510.83 635,512.01 636,513.2 637,514.39 638,515.58 639,516.77 640,517.9 641,518.9 642,519.9 643,520.9 644,521.9 645,522.9 646,524.57 647,526.32 648,528.06 649,529.81 650,531.55 651,534.1 652,537.86 653,541.62 654,544.05 655,545.16 656,546.27 657,545.02 658,542.75 659,540.49 659.5,539.37 659.5,539.37 659,539.47 658,539.26 657,538.51 656,537.12 655,535.17 654,533.04 653,530.69 652,528.36 651,526.33 650,524.68 649,523.21 648,521.8 647,520.47 646,519.22 645,518.08 644,517.05 643,516.01 642,514.97 641,513.92 640,512.86 639,511.78 638,510.72 637,509.68 636,508.67 635,507.71 634,506.79 633,505.93 632,505.14 631,504.45 630,503.88 629,503.47 628,503.23 627.96,503.23" fill="#36353a" stroke="#36353a" stroke-width="0.9" stroke-linejoin="round"/>
<polygon points="659.5,539.37 660,538.23 661,535.97 662,533.7 663,531.44 664,529.18 665,527.23 666,525.42 667,523.62 668,521.81 669,520 670,518.19 671,516.38 672,515.25 673,514.2 674,513.15 675,512.1 676,511.05 677,510 678,508.95 679,508.06 680,508.62 681,509.18 682,509.74 683,510.31 684,510.89 684.71,511.34 684.71,511.34 684,511.31 683,511.4 682,511.63 681,512.04 680,512.64 679,513.5 678,514.67 677,515.89 676,517.14 675,518.44 674,519.8 673,521.21 672,522.71 671,524.3 670,525.99 669,527.66 668,529.29 667,530.89 666,532.44 665,533.93 664,535.36 663,536.68 662,537.8 661,538.68 660,539.26 659.5,539.37" fill="#e8902e" stroke="#e8902e" stroke-width="0.9" stroke-linejoin="round"/>
<polygon points="684.71,511.34 685,511.52 686,512.15 687,512.78 688,513.41 689,514.04 690,514.77 691,515.52 692,516.26 693,517.01 694,517.75 695,518.16 696,518.05 697,517.94 698,517.83 699,517.72 700,517.61 701,517.6 702,517.6 703,517.6 704,517.6 705,517.6 706,517.6 707,517.6 708,517.6 709,517.6 710,517.6 711,517.6 712,517.71 713,517.82 714,517.93 715,518.04 716,518.15 717,518.76 718,519.89 719,521.02 720,522.15 721,523.27 722,524.4 723,526.42 724,528.44 725,530.46 726,532.47 727,534.49 728,536.05 729,537.31 730,538.56 731,539.82 732,541.07 733,542.31 734,543.38 735,544.45 736,545.52 737,546.59 738,545.92 739,544.81 740,543.71 741,542.6 741.02,542.58 741.02,542.58 741,542.59 740,542.58 739,542.34 738,541.82 737,540.94 736,539.74 735,538.5 734,537.24 733,535.93 732,534.56 731,533.18 730,531.76 729,530.31 728,528.81 727,527.27 726,525.73 725,524.29 724,522.97 723,521.81 722,520.82 721,520.06 720,519.37 719,518.78 718,518.31 717,517.97 716,517.8 715,517.72 714,517.66 713,517.6 712,517.55 711,517.52 710,517.5 709,517.48 708,517.46 707,517.43 706,517.39 705,517.34 704,517.29 703,517.22 702,517.14 701,517.04 700,516.93 699,516.78 698,516.58 697,516.31 696,515.96 695,515.52 694,514.96 693,514.36 692,513.8 691,513.27 690,512.79 689,512.37 688,512.01 687,511.71 686,511.49 685,511.35 684.71,511.34" fill="#36353a" stroke="#36353a" stroke-width="0.9" stroke-linejoin="round"/>
<polygon points="741.02,542.58 742,541.5 743,540.39 744,539.26 745,537.81 746,536.36 747,534.91 748,533.47 749,531.95 750,530.33 751,528.71 752,527.1 752.8,525.8 752.8,531.99 752,533.31 751,534.63 750,535.9 749,537.09 748,538.18 747,539.19 746,540.1 745,540.89 744,541.55 743,542.04 742,542.4 741.02,542.58" fill="#e8902e" stroke="#e8902e" stroke-width="0.9" stroke-linejoin="round"/>
<line x1="0" y1="500.9" x2="938" y2="500.9" stroke="#8c8e96" stroke-width="1" stroke-dasharray="3.3 4.1"/>
<line x1="0" y1="547.5" x2="938" y2="547.5" stroke="#55575f" stroke-width="1" stroke-dasharray="3.3 4.1"/>
<line x1="649" y1="544.9" x2="745" y2="544.9" stroke="#eea04c" stroke-width="1.2"/>
<line x1="0" y1="480.5" x2="980" y2="480.5" stroke="#85878f" stroke-width="1"/>
<line x1="0" y1="568.5" x2="980" y2="568.5" stroke="#85878f" stroke-width="1"/>
<line x1="938.5" y1="0" x2="938.5" y2="585" stroke="#8a8c94" stroke-width="1"/>
<g font-family="Liberation Sans, Arial, sans-serif" font-size="7.4" fill="#34363d" stroke="#34363d" stroke-width="0.12"><line x1="938.5" y1="20" x2="941" y2="20" stroke="#8a8c94" stroke-width="1"/><text x="944.3" y="22.7">12000.00</text><line x1="938.5" y1="41.45" x2="941" y2="41.45" stroke="#8a8c94" stroke-width="1"/><text x="944.3" y="44.15">11600.00</text><line x1="938.5" y1="62.9" x2="941" y2="62.9" stroke="#8a8c94" stroke-width="1"/><text x="944.3" y="65.6">11200.00</text><line x1="938.5" y1="84.36" x2="941" y2="84.36" stroke="#8a8c94" stroke-width="1"/><text x="944.3" y="87.06">10800.00</text><line x1="938.5" y1="105.81" x2="941" y2="105.81" stroke="#8a8c94" stroke-width="1"/><text x="944.3" y="108.51">10400.00</text><line x1="938.5" y1="127.26" x2="941" y2="127.26" stroke="#8a8c94" stroke-width="1"/><text x="944.3" y="129.96">10000.00</text><line x1="938.5" y1="148.71" x2="941" y2="148.71" stroke="#8a8c94" stroke-width="1"/><text x="944.3" y="151.41">9600.00</text><line x1="938.5" y1="170.17" x2="941" y2="170.17" stroke="#8a8c94" stroke-width="1"/><text x="944.3" y="172.87">9200.00</text><line x1="938.5" y1="191.62" x2="941" y2="191.62" stroke="#8a8c94" stroke-width="1"/><text x="944.3" y="194.32">8800.00</text><line x1="938.5" y1="213.07" x2="941" y2="213.07" stroke="#8a8c94" stroke-width="1"/><text x="944.3" y="215.77">8400.00</text><line x1="938.5" y1="234.52" x2="941" y2="234.52" stroke="#8a8c94" stroke-width="1"/><text x="944.3" y="237.22">8000.00</text><line x1="938.5" y1="255.98" x2="941" y2="255.98" stroke="#8a8c94" stroke-width="1"/><text x="944.3" y="258.68">7600.00</text><line x1="938.5" y1="277.43" x2="941" y2="277.43" stroke="#8a8c94" stroke-width="1"/><text x="944.3" y="280.13">7200.00</text><line x1="938.5" y1="298.88" x2="941" y2="298.88" stroke="#8a8c94" stroke-width="1"/><text x="944.3" y="301.58">6800.00</text><line x1="938.5" y1="320.33" x2="941" y2="320.33" stroke="#8a8c94" stroke-width="1"/><text x="944.3" y="323.03">6400.00</text><line x1="938.5" y1="341.79" x2="941" y2="341.79" stroke="#8a8c94" stroke-width="1"/><text x="944.3" y="344.49">6000.00</text><line x1="938.5" y1="363.24" x2="941" y2="363.24" stroke="#8a8c94" stroke-width="1"/><text x="944.3" y="365.94">5600.00</text><line x1="938.5" y1="384.69" x2="941" y2="384.69" stroke="#8a8c94" stroke-width="1"/><text x="944.3" y="387.39">5200.00</text><line x1="938.5" y1="406.14" x2="941" y2="406.14" stroke="#8a8c94" stroke-width="1"/><text x="944.3" y="408.84">4800.00</text><line x1="938.5" y1="427.6" x2="941" y2="427.6" stroke="#8a8c94" stroke-width="1"/><text x="944.3" y="430.3">4400.00</text><line x1="938.5" y1="449.05" x2="941" y2="449.05" stroke="#8a8c94" stroke-width="1"/><text x="944.3" y="451.75">4000.00</text><line x1="938.5" y1="470.5" x2="941" y2="470.5" stroke="#8a8c94" stroke-width="1"/><text x="944.3" y="473.2">3600.00</text><line x1="938.5" y1="485.2" x2="941" y2="485.2" stroke="#8a8c94" stroke-width="1"/><text x="944.3" y="487.9">100.00</text><line x1="938.5" y1="504.6" x2="941" y2="504.6" stroke="#8a8c94" stroke-width="1"/><text x="944.3" y="507.3">75.00</text><line x1="938.5" y1="524" x2="941" y2="524" stroke="#8a8c94" stroke-width="1"/><text x="944.3" y="526.7">50.00</text><line x1="938.5" y1="543.4" x2="941" y2="543.4" stroke="#8a8c94" stroke-width="1"/><text x="944.3" y="546.1">25.00</text><line x1="938.5" y1="562.8" x2="941" y2="562.8" stroke="#8a8c94" stroke-width="1"/><text x="944.3" y="565.5">0.00</text></g>
<rect x="945.7" y="5.3" width="25.3" height="10.2" rx="1.5" fill="#eceef4"/>
<text x="952.6" y="13.1" textLength="12.7" lengthAdjust="spacingAndGlyphs" font-family="Liberation Sans, Arial, sans-serif" font-size="7.2" fill="#2a2c33" stroke="#2a2c33" stroke-width="0.15">USD</text>
<rect x="938.5" y="154.2" width="37.3" height="23.5" fill="#2a2c34"/>
<rect x="938.5" y="165.4" width="37.3" height="1.1" fill="#9a9ca4"/>
<g font-family="Liberation Sans, Arial, sans-serif" font-size="7.6" fill="#f2f3f5"><text x="943.4" y="162.8" textLength="26.6" lengthAdjust="spacingAndGlyphs">9395.21</text><text x="940.6" y="174.6" textLength="29.6" lengthAdjust="spacingAndGlyphs">05:58:59</text></g>
<g font-family="Liberation Sans, Arial, sans-serif" font-size="7.2" fill="#34363d" stroke="#34363d" stroke-width="0.12"><line x1="21.4" y1="568.5" x2="21.4" y2="571" stroke="#6e7078" stroke-width="1"/><text x="21.4" y="581.3" text-anchor="middle" font-weight="bold">2020</text><line x1="73.27" y1="568.5" x2="73.27" y2="571" stroke="#6e7078" stroke-width="1"/><text x="73.27" y="581.3" text-anchor="middle">13</text><line x1="155.4" y1="568.5" x2="155.4" y2="571" stroke="#6e7078" stroke-width="1"/><text x="155.4" y="581.3" text-anchor="middle">Feb</text><line x1="224.56" y1="568.5" x2="224.56" y2="571" stroke="#6e7078" stroke-width="1"/><text x="224.56" y="581.3" text-anchor="middle">17</text><line x1="280.75" y1="568.5" x2="280.75" y2="571" stroke="#6e7078" stroke-width="1"/><text x="280.75" y="581.3" text-anchor="middle">Mar</text><line x1="345.59" y1="568.5" x2="345.59" y2="571" stroke="#6e7078" stroke-width="1"/><text x="345.59" y="581.3" text-anchor="middle">16</text><line x1="414.75" y1="568.5" x2="414.75" y2="571" stroke="#6e7078" stroke-width="1"/><text x="414.75" y="581.3" text-anchor="middle">Apr</text><line x1="466.62" y1="568.5" x2="466.62" y2="571" stroke="#6e7078" stroke-width="1"/><text x="466.62" y="581.3" text-anchor="middle">13</text><line x1="544.42" y1="568.5" x2="544.42" y2="571" stroke="#6e7078" stroke-width="1"/><text x="544.42" y="581.3" text-anchor="middle">May</text><line x1="617.9" y1="568.5" x2="617.9" y2="571" stroke="#6e7078" stroke-width="1"/><text x="617.9" y="581.3" text-anchor="middle">18</text><line x1="678.42" y1="568.5" x2="678.42" y2="571" stroke="#6e7078" stroke-width="1"/><text x="678.42" y="581.3" text-anchor="middle">Jun</text><line x1="738.93" y1="568.5" x2="738.93" y2="571" stroke="#6e7078" stroke-width="1"/><text x="738.93" y="581.3" text-anchor="middle">15</text><line x1="808.09" y1="568.5" x2="808.09" y2="571" stroke="#6e7078" stroke-width="1"/><text x="808.09" y="581.3" text-anchor="middle">Jul</text><line x1="859.96" y1="568.5" x2="859.96" y2="571" stroke="#6e7078" stroke-width="1"/><text x="859.96" y="581.3" text-anchor="middle">13</text></g>
<polygon points="959.4,573.3 960.4,575.3 958.4,575.3" fill="#3a3c44"/><polygon points="962.86,574.74 962.16,576.86 960.74,575.44" fill="#3a3c44"/><polygon points="964.3,578.2 962.3,579.2 962.3,577.2" fill="#3a3c44"/><polygon points="962.86,581.66 960.74,580.96 962.16,579.54" fill="#3a3c44"/><polygon points="959.4,583.1 958.4,581.1 960.4,581.1" fill="#3a3c44"/><polygon points="955.94,581.66 956.64,579.54 958.06,580.96" fill="#3a3c44"/><polygon points="954.5,578.2 956.5,577.2 956.5,579.2" fill="#3a3c44"/><polygon points="955.94,574.74 958.06,575.44 956.64,576.86" fill="#3a3c44"/>
<circle cx="959.4" cy="578.2" r="2.85" fill="none" stroke="#3a3c44" stroke-width="1.1"/>
<g font-family="Liberation Sans, Arial, sans-serif" font-size="10.3" fill="#55575e" stroke="#55575e" stroke-width="0.25"><text x="5.5" y="15.5" textLength="99.9" lengthAdjust="spacingAndGlyphs">Bitcoin / U.S. Dollar</text><text x="108.8" y="15.5" text-anchor="middle" fill="#a9abb0" stroke="#a9abb0">·</text><text x="113.9" y="15.5" textLength="11.2" lengthAdjust="spacingAndGlyphs">1D</text><text x="129.4" y="15.5" text-anchor="middle" fill="#a9abb0" stroke="#a9abb0">·</text><text x="133.4" y="15.5" textLength="47.6" lengthAdjust="spacingAndGlyphs">BITSTAMP</text></g>
<polygon points="190.2,7.6 198.2,7.6 195.6,11.6 198.2,15.7 190.2,15.7" fill="#ef5350"/>
<circle cx="218.3" cy="11.6" r="5.2" fill="#e3f3f1"/>
<circle cx="218.3" cy="11.6" r="2.5" fill="#2a8a72"/>
</svg></div></body></html>
